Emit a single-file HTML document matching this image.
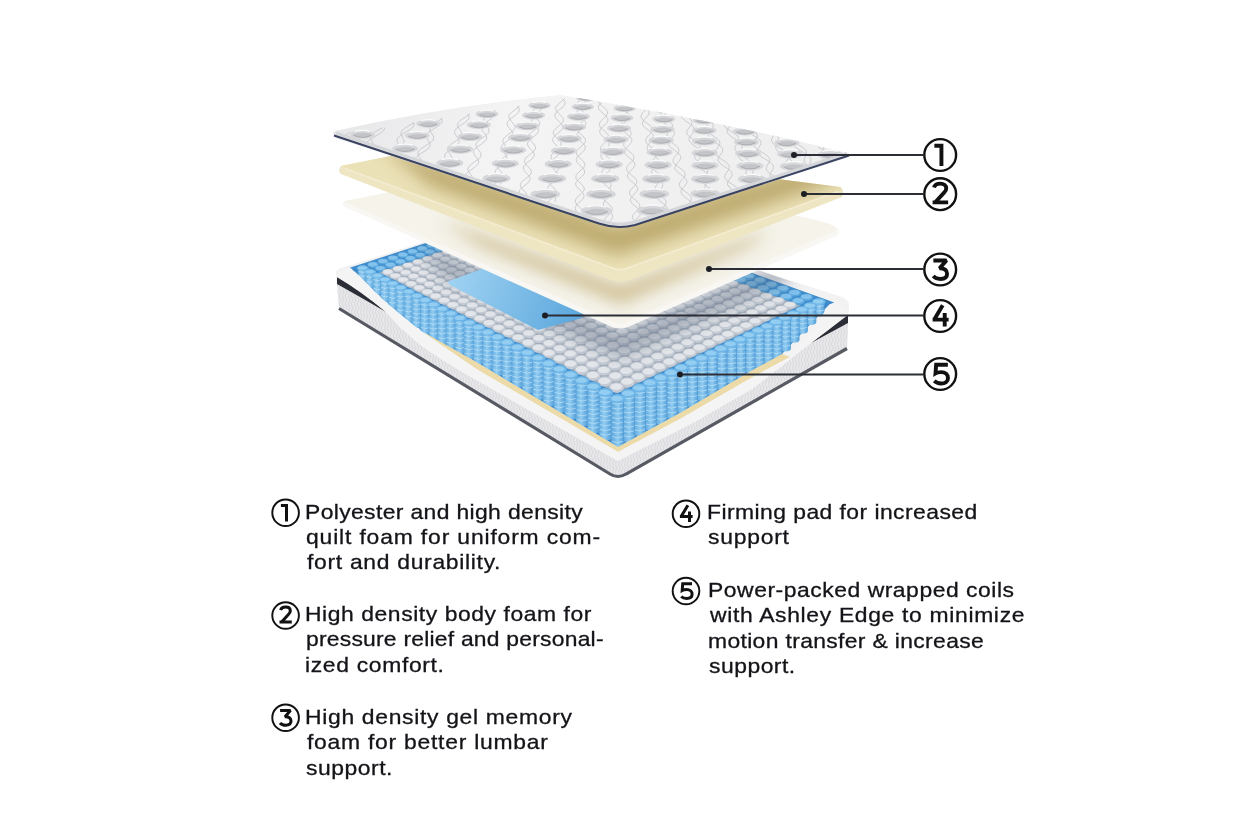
<!DOCTYPE html>
<html><head><meta charset="utf-8">
<style>
html,body{margin:0;padding:0;background:#fff;}
body{width:1260px;height:840px;position:relative;overflow:hidden;font-family:"Liberation Sans",sans-serif;}
svg{position:absolute;left:0;top:0;}
.t{position:absolute;white-space:nowrap;font-size:21px;line-height:26px;color:#131318;-webkit-text-stroke:0.3px #131318;transform:scaleX(1.09);transform-origin:0 0;}
</style></head><body>
<svg width="1260" height="840" viewBox="0 0 1260 840">
<defs>
<linearGradient id="gQ" gradientUnits="userSpaceOnUse" x1="334" y1="95" x2="700" y2="227">
 <stop offset="0" stop-color="#e6e6e8"/><stop offset="0.45" stop-color="#f4f4f5"/><stop offset="1" stop-color="#efeff0"/></linearGradient>
<linearGradient id="gYtop" gradientUnits="userSpaceOnUse" x1="600" y1="215" x2="640" y2="275">
 <stop offset="0" stop-color="#d9c991"/><stop offset="1" stop-color="#ece2b6"/></linearGradient>
<linearGradient id="gYside" gradientUnits="userSpaceOnUse" x1="0" y1="0" x2="0" y2="1">
 <stop offset="0" stop-color="#efe6c2"/><stop offset="1" stop-color="#f3ecd2"/></linearGradient>
<linearGradient id="gWtop" gradientUnits="userSpaceOnUse" x1="600" y1="265" x2="640" y2="322">
 <stop offset="0" stop-color="#ddd3b0"/><stop offset="0.6" stop-color="#efe9d8"/><stop offset="1" stop-color="#f6f4ee"/></linearGradient>
<linearGradient id="gPad" gradientUnits="userSpaceOnUse" x1="450" y1="280" x2="580" y2="330">
 <stop offset="0" stop-color="#9fd2f2"/><stop offset="1" stop-color="#5aa6dc"/></linearGradient>
<linearGradient id="gCol" x1="0" y1="0" x2="1" y2="0">
 <stop offset="0" stop-color="#5fa9de"/><stop offset="0.4" stop-color="#92cdf2"/><stop offset="1" stop-color="#4e9ad6"/></linearGradient>
<linearGradient id="gColR" x1="0" y1="0" x2="1" y2="0">
 <stop offset="0" stop-color="#5aa3da"/><stop offset="0.55" stop-color="#8ecbf1"/><stop offset="1" stop-color="#529dd7"/></linearGradient>
<pattern id="pFab" patternUnits="userSpaceOnUse" width="6" height="8">
 <rect width="6" height="8" fill="#e8e8eb"/><path d="M0 0 L2 4 L0 8 M3 0 L5 4 L3 8" fill="none" stroke="#d6d6da" stroke-width="0.9"/></pattern>
<filter id="blur8" x="-20%" y="-50%" width="140%" height="200%"><feGaussianBlur stdDeviation="8"/></filter>
<filter id="blur4" x="-20%" y="-50%" width="140%" height="200%"><feGaussianBlur stdDeviation="4"/></filter>
<clipPath id="cQ"><path d="M335 131 Q448 106 560 95 Q705 118 848 153 Q852 155 847 158 L635 225 Q617 230 599 223.5 L336 138 Q331 134 335 131 Z"/></clipPath>
<clipPath id="cBase"><polygon points="336,270 421,243 560,196 752,268 849,301 618,461"/></clipPath>
<clipPath id="cY"><path d="M341 166 L470 140 L840 187 Q844 189 840 191 L628 267 Q620 271 612 267 Z"/></clipPath>
<clipPath id="cW"><path d="M344 201.5 L470 176 L798 216 Q836 224 836 228 Q836 231 832 232 L627 322 Q620 325 613 322 Z"/></clipPath>
</defs>
<path d="M336 273 Q336 269 341 268 L421 243 L560 196 L752 268 L842 297 Q849 300 849 305 L847 348 L626 474 Q618 480 610 475 L339 310 Z" fill="#f2f2f3"/>
<path d="M337 284 Q362 298 386 312 C392 318 398 326 402 329 C412 338 422 347 432 353 C450 365 466 374 478 381 L618 461 C650 444 680 430 700 419 C720 407 740 396 752 389 C775 372 795 355 811 343 Q830 331 848 322 L847 348 L626 474 Q618 480 610 475 L339 309 Z" fill="url(#pFab)"/>
<path d="M337 277 Q360 290 386 312 Q362 298 337 284 Z" fill="#2b2e36"/>
<path d="M848 315 L811 343 L848 323 Z" fill="#2b2e36"/>
<path d="M339 308.5 L610 474 Q618 479 626 474 L847 348.5" fill="none" stroke="#575a62" stroke-width="3.2"/>
<polygon points="349.7,267.7 619,408 834.3,302.4 553.6,201.6" fill="#3f8ccc"/>
<polygon points="379.1,272.2 617,393.3 800.3,305.5 553.6,214.1" fill="#a4aebb"/>
<ellipse cx="553.9" cy="205.7" rx="5.1" ry="2.5" fill="#5aa6dd"/><ellipse cx="553.7" cy="205.3" rx="4.2" ry="1.6" fill="#82c2ec"/><ellipse cx="545.8" cy="208.4" rx="5.1" ry="2.5" fill="#5aa6dd"/><ellipse cx="545.6" cy="207.9" rx="4.2" ry="1.6" fill="#82c2ec"/><ellipse cx="561.8" cy="208.6" rx="5.1" ry="2.5" fill="#5aa6dd"/><ellipse cx="561.6" cy="208.1" rx="4.2" ry="1.6" fill="#82c2ec"/><ellipse cx="537.7" cy="211" rx="5.1" ry="2.5" fill="#5aa6dd"/><ellipse cx="537.4" cy="210.6" rx="4.2" ry="1.7" fill="#82c2ec"/><ellipse cx="553.7" cy="211.3" rx="5.1" ry="2.5" fill="#5aa6dd"/><ellipse cx="553.5" cy="210.8" rx="4.2" ry="1.7" fill="#82c2ec"/><ellipse cx="569.9" cy="211.5" rx="5.2" ry="2.5" fill="#5aa6dd"/><ellipse cx="569.6" cy="211" rx="4.2" ry="1.7" fill="#82c2ec"/><ellipse cx="529.4" cy="213.7" rx="5.2" ry="2.6" fill="#5aa6dd"/><ellipse cx="529.2" cy="213.3" rx="4.2" ry="1.7" fill="#82c2ec"/><ellipse cx="545.6" cy="214" rx="5.2" ry="2.6" fill="#5aa6dd"/><ellipse cx="545.3" cy="213.5" rx="4.2" ry="1.7" fill="#82c2ec"/><ellipse cx="561.7" cy="214.2" rx="5.2" ry="2.6" fill="#5aa6dd"/><ellipse cx="561.5" cy="213.7" rx="4.3" ry="1.7" fill="#82c2ec"/><ellipse cx="578" cy="214.5" rx="5.2" ry="2.6" fill="#5aa6dd"/><ellipse cx="577.7" cy="214" rx="4.3" ry="1.7" fill="#82c2ec"/><ellipse cx="521.1" cy="216.5" rx="5.2" ry="2.6" fill="#5aa6dd"/><ellipse cx="520.8" cy="216" rx="4.2" ry="1.7" fill="#82c2ec"/><ellipse cx="537.3" cy="216.7" rx="5.2" ry="2.6" fill="#5aa6dd"/><ellipse cx="537" cy="216.2" rx="4.3" ry="1.7" fill="#82c2ec"/><ellipse cx="553.6" cy="217" rx="5.2" ry="2.6" fill="#c4cbd4"/><ellipse cx="553.3" cy="216.5" rx="4.3" ry="1.7" fill="#e2e5e9"/><ellipse cx="569.9" cy="217.2" rx="5.2" ry="2.6" fill="#5aa6dd"/><ellipse cx="569.6" cy="216.7" rx="4.3" ry="1.7" fill="#82c2ec"/><ellipse cx="586.3" cy="217.5" rx="5.3" ry="2.6" fill="#5aa6dd"/><ellipse cx="586" cy="217" rx="4.3" ry="1.7" fill="#82c2ec"/><ellipse cx="512.6" cy="219.2" rx="5.2" ry="2.6" fill="#5aa6dd"/><ellipse cx="512.4" cy="218.7" rx="4.3" ry="1.7" fill="#82c2ec"/><ellipse cx="528.9" cy="219.5" rx="5.2" ry="2.6" fill="#5aa6dd"/><ellipse cx="528.6" cy="219" rx="4.3" ry="1.7" fill="#82c2ec"/><ellipse cx="545.3" cy="219.7" rx="5.2" ry="2.6" fill="#c4cbd4"/><ellipse cx="545" cy="219.3" rx="4.3" ry="1.7" fill="#e2e5e9"/><ellipse cx="561.7" cy="220" rx="5.3" ry="2.6" fill="#c4cbd4"/><ellipse cx="561.4" cy="219.5" rx="4.3" ry="1.7" fill="#e2e5e9"/><ellipse cx="578.1" cy="220.2" rx="5.3" ry="2.6" fill="#5aa6dd"/><ellipse cx="577.9" cy="219.8" rx="4.3" ry="1.7" fill="#82c2ec"/><ellipse cx="594.7" cy="220.5" rx="5.3" ry="2.6" fill="#5aa6dd"/><ellipse cx="594.4" cy="220" rx="4.3" ry="1.7" fill="#82c2ec"/><ellipse cx="504.1" cy="222" rx="5.2" ry="2.6" fill="#5aa6dd"/><ellipse cx="503.8" cy="221.5" rx="4.3" ry="1.7" fill="#82c2ec"/><ellipse cx="520.4" cy="222.3" rx="5.2" ry="2.7" fill="#5aa6dd"/><ellipse cx="520.2" cy="221.8" rx="4.3" ry="1.8" fill="#82c2ec"/><ellipse cx="536.9" cy="222.5" rx="5.3" ry="2.7" fill="#c4cbd4"/><ellipse cx="536.6" cy="222.1" rx="4.3" ry="1.8" fill="#e2e5e9"/><ellipse cx="553.4" cy="222.8" rx="5.3" ry="2.7" fill="#c4cbd4"/><ellipse cx="553.1" cy="222.3" rx="4.3" ry="1.8" fill="#e2e5e9"/><ellipse cx="569.9" cy="223.1" rx="5.3" ry="2.7" fill="#c4cbd4"/><ellipse cx="569.7" cy="222.6" rx="4.4" ry="1.8" fill="#e2e5e9"/><ellipse cx="586.5" cy="223.3" rx="5.3" ry="2.7" fill="#5aa6dd"/><ellipse cx="586.3" cy="222.8" rx="4.4" ry="1.8" fill="#82c2ec"/><ellipse cx="603.2" cy="223.6" rx="5.3" ry="2.7" fill="#5aa6dd"/><ellipse cx="602.9" cy="223.1" rx="4.4" ry="1.8" fill="#82c2ec"/><ellipse cx="495.4" cy="224.8" rx="5.3" ry="2.7" fill="#5aa6dd"/><ellipse cx="495.2" cy="224.4" rx="4.3" ry="1.8" fill="#82c2ec"/><ellipse cx="511.9" cy="225.1" rx="5.3" ry="2.7" fill="#5aa6dd"/><ellipse cx="511.6" cy="224.6" rx="4.3" ry="1.8" fill="#82c2ec"/><ellipse cx="528.4" cy="225.4" rx="5.3" ry="2.7" fill="#c4cbd4"/><ellipse cx="528.1" cy="224.9" rx="4.3" ry="1.8" fill="#e2e5e9"/><ellipse cx="545" cy="225.6" rx="5.3" ry="2.7" fill="#c4cbd4"/><ellipse cx="544.7" cy="225.2" rx="4.4" ry="1.8" fill="#e2e5e9"/><ellipse cx="561.6" cy="225.9" rx="5.3" ry="2.7" fill="#c4cbd4"/><ellipse cx="561.3" cy="225.4" rx="4.4" ry="1.8" fill="#e2e5e9"/><ellipse cx="578.3" cy="226.2" rx="5.4" ry="2.7" fill="#c4cbd4"/><ellipse cx="578" cy="225.7" rx="4.4" ry="1.8" fill="#e2e5e9"/><ellipse cx="595" cy="226.5" rx="5.4" ry="2.7" fill="#5aa6dd"/><ellipse cx="594.8" cy="226" rx="4.4" ry="1.8" fill="#82c2ec"/><ellipse cx="611.9" cy="226.7" rx="5.4" ry="2.7" fill="#5aa6dd"/><ellipse cx="611.6" cy="226.2" rx="4.4" ry="1.8" fill="#82c2ec"/><ellipse cx="486.7" cy="227.7" rx="5.3" ry="2.7" fill="#5aa6dd"/><ellipse cx="486.4" cy="227.2" rx="4.3" ry="1.8" fill="#82c2ec"/><ellipse cx="503.2" cy="228" rx="5.3" ry="2.7" fill="#5aa6dd"/><ellipse cx="502.9" cy="227.5" rx="4.3" ry="1.8" fill="#82c2ec"/><ellipse cx="519.8" cy="228.2" rx="5.3" ry="2.7" fill="#c4cbd4"/><ellipse cx="519.5" cy="227.8" rx="4.4" ry="1.8" fill="#e2e5e9"/><ellipse cx="536.5" cy="228.5" rx="5.3" ry="2.7" fill="#c4cbd4"/><ellipse cx="536.2" cy="228" rx="4.4" ry="1.8" fill="#e2e5e9"/><ellipse cx="553.2" cy="228.8" rx="5.4" ry="2.7" fill="#c4cbd4"/><ellipse cx="552.9" cy="228.3" rx="4.4" ry="1.8" fill="#e2e5e9"/><ellipse cx="569.9" cy="229.1" rx="5.4" ry="2.7" fill="#c4cbd4"/><ellipse cx="569.7" cy="228.6" rx="4.4" ry="1.8" fill="#e2e5e9"/><ellipse cx="586.8" cy="229.4" rx="5.4" ry="2.8" fill="#c4cbd4"/><ellipse cx="586.5" cy="228.9" rx="4.4" ry="1.8" fill="#e2e5e9"/><ellipse cx="603.7" cy="229.6" rx="5.4" ry="2.8" fill="#5aa6dd"/><ellipse cx="603.4" cy="229.1" rx="4.4" ry="1.8" fill="#82c2ec"/><ellipse cx="620.7" cy="229.9" rx="5.4" ry="2.8" fill="#5aa6dd"/><ellipse cx="620.4" cy="229.4" rx="4.5" ry="1.8" fill="#82c2ec"/><ellipse cx="477.8" cy="230.6" rx="5.3" ry="2.7" fill="#5aa6dd"/><ellipse cx="477.6" cy="230.1" rx="4.4" ry="1.8" fill="#82c2ec"/><ellipse cx="494.4" cy="230.9" rx="5.3" ry="2.8" fill="#5aa6dd"/><ellipse cx="494.2" cy="230.4" rx="4.4" ry="1.8" fill="#82c2ec"/><ellipse cx="511.1" cy="231.2" rx="5.3" ry="2.8" fill="#c4cbd4"/><ellipse cx="510.8" cy="230.7" rx="4.4" ry="1.8" fill="#e2e5e9"/><ellipse cx="527.8" cy="231.4" rx="5.4" ry="2.8" fill="#c4cbd4"/><ellipse cx="527.6" cy="230.9" rx="4.4" ry="1.8" fill="#e2e5e9"/><ellipse cx="544.6" cy="231.7" rx="5.4" ry="2.8" fill="#c4cbd4"/><ellipse cx="544.4" cy="231.2" rx="4.4" ry="1.8" fill="#e2e5e9"/><ellipse cx="561.5" cy="232" rx="5.4" ry="2.8" fill="#c4cbd4"/><ellipse cx="561.2" cy="231.5" rx="4.4" ry="1.8" fill="#e2e5e9"/><ellipse cx="578.4" cy="232.3" rx="5.4" ry="2.8" fill="#c4cbd4"/><ellipse cx="578.2" cy="231.8" rx="4.5" ry="1.8" fill="#e2e5e9"/><ellipse cx="595.4" cy="232.6" rx="5.4" ry="2.8" fill="#c4cbd4"/><ellipse cx="595.2" cy="232.1" rx="4.5" ry="1.8" fill="#e2e5e9"/><ellipse cx="612.5" cy="232.9" rx="5.5" ry="2.8" fill="#5aa6dd"/><ellipse cx="612.2" cy="232.4" rx="4.5" ry="1.8" fill="#82c2ec"/><ellipse cx="629.6" cy="233.2" rx="5.5" ry="2.8" fill="#5aa6dd"/><ellipse cx="629.3" cy="232.7" rx="4.5" ry="1.9" fill="#82c2ec"/><ellipse cx="468.9" cy="233.5" rx="5.3" ry="2.8" fill="#5aa6dd"/><ellipse cx="468.6" cy="233" rx="4.4" ry="1.8" fill="#82c2ec"/><ellipse cx="485.6" cy="233.8" rx="5.4" ry="2.8" fill="#5aa6dd"/><ellipse cx="485.3" cy="233.3" rx="4.4" ry="1.8" fill="#82c2ec"/><ellipse cx="502.3" cy="234.1" rx="5.4" ry="2.8" fill="#c4cbd4"/><ellipse cx="502" cy="233.6" rx="4.4" ry="1.8" fill="#e2e5e9"/><ellipse cx="519.1" cy="234.4" rx="5.4" ry="2.8" fill="#c4cbd4"/><ellipse cx="518.9" cy="233.9" rx="4.4" ry="1.8" fill="#e2e5e9"/><ellipse cx="536" cy="234.7" rx="5.4" ry="2.8" fill="#c4cbd4"/><ellipse cx="535.7" cy="234.2" rx="4.4" ry="1.9" fill="#e2e5e9"/><ellipse cx="553" cy="235" rx="5.4" ry="2.8" fill="#c4cbd4"/><ellipse cx="552.7" cy="234.5" rx="4.5" ry="1.9" fill="#e2e5e9"/><ellipse cx="570" cy="235.3" rx="5.5" ry="2.8" fill="#c4cbd4"/><ellipse cx="569.7" cy="234.8" rx="4.5" ry="1.9" fill="#e2e5e9"/><ellipse cx="587.1" cy="235.6" rx="5.5" ry="2.8" fill="#c4cbd4"/><ellipse cx="586.8" cy="235.1" rx="4.5" ry="1.9" fill="#e2e5e9"/><ellipse cx="604.2" cy="235.9" rx="5.5" ry="2.8" fill="#c4cbd4"/><ellipse cx="603.9" cy="235.4" rx="4.5" ry="1.9" fill="#e2e5e9"/><ellipse cx="621.4" cy="236.2" rx="5.5" ry="2.8" fill="#5aa6dd"/><ellipse cx="621.1" cy="235.6" rx="4.5" ry="1.9" fill="#82c2ec"/><ellipse cx="638.7" cy="236.5" rx="5.5" ry="2.9" fill="#5aa6dd"/><ellipse cx="638.4" cy="235.9" rx="4.5" ry="1.9" fill="#82c2ec"/><ellipse cx="459.8" cy="236.5" rx="5.4" ry="2.8" fill="#5aa6dd"/><ellipse cx="459.5" cy="236" rx="4.4" ry="1.9" fill="#82c2ec"/><ellipse cx="476.6" cy="236.8" rx="5.4" ry="2.8" fill="#5aa6dd"/><ellipse cx="476.3" cy="236.3" rx="4.4" ry="1.9" fill="#82c2ec"/><ellipse cx="493.4" cy="237.1" rx="5.4" ry="2.8" fill="#c4cbd4"/><ellipse cx="493.1" cy="236.6" rx="4.4" ry="1.9" fill="#e2e5e9"/><ellipse cx="510.3" cy="237.4" rx="5.4" ry="2.8" fill="#c4cbd4"/><ellipse cx="510.1" cy="236.9" rx="4.4" ry="1.9" fill="#e2e5e9"/><ellipse cx="527.3" cy="237.7" rx="5.4" ry="2.8" fill="#c4cbd4"/><ellipse cx="527" cy="237.2" rx="4.5" ry="1.9" fill="#e2e5e9"/><ellipse cx="544.3" cy="238" rx="5.5" ry="2.9" fill="#c4cbd4"/><ellipse cx="544.1" cy="237.5" rx="4.5" ry="1.9" fill="#e2e5e9"/><ellipse cx="561.4" cy="238.3" rx="5.5" ry="2.9" fill="#c4cbd4"/><ellipse cx="561.2" cy="237.8" rx="4.5" ry="1.9" fill="#e2e5e9"/><ellipse cx="578.6" cy="238.6" rx="5.5" ry="2.9" fill="#c4cbd4"/><ellipse cx="578.3" cy="238.1" rx="4.5" ry="1.9" fill="#e2e5e9"/><ellipse cx="595.8" cy="238.9" rx="5.5" ry="2.9" fill="#c4cbd4"/><ellipse cx="595.5" cy="238.4" rx="4.5" ry="1.9" fill="#e2e5e9"/><ellipse cx="613.1" cy="239.2" rx="5.5" ry="2.9" fill="#c4cbd4"/><ellipse cx="612.8" cy="238.7" rx="4.5" ry="1.9" fill="#e2e5e9"/><ellipse cx="450.6" cy="239.5" rx="5.4" ry="2.9" fill="#5aa6dd"/><ellipse cx="450.4" cy="239" rx="4.4" ry="1.9" fill="#82c2ec"/><ellipse cx="630.5" cy="239.5" rx="5.6" ry="2.9" fill="#5aa6dd"/><ellipse cx="630.2" cy="239" rx="4.6" ry="1.9" fill="#82c2ec"/><ellipse cx="467.5" cy="239.8" rx="5.4" ry="2.9" fill="#5aa6dd"/><ellipse cx="467.2" cy="239.3" rx="4.4" ry="1.9" fill="#82c2ec"/><ellipse cx="647.9" cy="239.8" rx="5.6" ry="2.9" fill="#5aa6dd"/><ellipse cx="647.6" cy="239.3" rx="4.6" ry="1.9" fill="#82c2ec"/><ellipse cx="484.4" cy="240.1" rx="5.4" ry="2.9" fill="#c4cbd4"/><ellipse cx="484.1" cy="239.6" rx="4.4" ry="1.9" fill="#e2e5e9"/><ellipse cx="501.4" cy="240.4" rx="5.4" ry="2.9" fill="#c4cbd4"/><ellipse cx="501.1" cy="239.9" rx="4.5" ry="1.9" fill="#e2e5e9"/><ellipse cx="518.5" cy="240.7" rx="5.5" ry="2.9" fill="#c4cbd4"/><ellipse cx="518.2" cy="240.2" rx="4.5" ry="1.9" fill="#e2e5e9"/><ellipse cx="535.6" cy="241" rx="5.5" ry="2.9" fill="#c4cbd4"/><ellipse cx="535.3" cy="240.5" rx="4.5" ry="1.9" fill="#e2e5e9"/><ellipse cx="552.8" cy="241.3" rx="5.5" ry="2.9" fill="#c4cbd4"/><ellipse cx="552.5" cy="240.8" rx="4.5" ry="1.9" fill="#e2e5e9"/><ellipse cx="570" cy="241.6" rx="5.5" ry="2.9" fill="#c4cbd4"/><ellipse cx="569.7" cy="241.1" rx="4.5" ry="1.9" fill="#e2e5e9"/><ellipse cx="587.3" cy="241.9" rx="5.6" ry="2.9" fill="#c4cbd4"/><ellipse cx="587.1" cy="241.4" rx="4.6" ry="1.9" fill="#e2e5e9"/><ellipse cx="604.7" cy="242.3" rx="5.6" ry="2.9" fill="#c4cbd4"/><ellipse cx="604.5" cy="241.7" rx="4.6" ry="1.9" fill="#e2e5e9"/><ellipse cx="441.3" cy="242.5" rx="5.4" ry="2.9" fill="#5aa6dd"/><ellipse cx="441.1" cy="242" rx="4.4" ry="1.9" fill="#82c2ec"/><ellipse cx="622.2" cy="242.6" rx="5.6" ry="2.9" fill="#c4cbd4"/><ellipse cx="621.9" cy="242" rx="4.6" ry="1.9" fill="#e2e5e9"/><ellipse cx="458.3" cy="242.8" rx="5.4" ry="2.9" fill="#5aa6dd"/><ellipse cx="458" cy="242.3" rx="4.5" ry="1.9" fill="#82c2ec"/><ellipse cx="639.7" cy="242.9" rx="5.6" ry="2.9" fill="#5aa6dd"/><ellipse cx="639.4" cy="242.4" rx="4.6" ry="1.9" fill="#82c2ec"/><ellipse cx="475.3" cy="243.1" rx="5.5" ry="2.9" fill="#c4cbd4"/><ellipse cx="475" cy="242.6" rx="4.5" ry="1.9" fill="#e2e5e9"/><ellipse cx="657.3" cy="243.2" rx="5.6" ry="2.9" fill="#5aa6dd"/><ellipse cx="657" cy="242.7" rx="4.6" ry="1.9" fill="#82c2ec"/><ellipse cx="492.4" cy="243.5" rx="5.5" ry="2.9" fill="#c4cbd4"/><ellipse cx="492.1" cy="242.9" rx="4.5" ry="1.9" fill="#e2e5e9"/><ellipse cx="509.5" cy="243.8" rx="5.5" ry="2.9" fill="#c4cbd4"/><ellipse cx="509.2" cy="243.2" rx="4.5" ry="1.9" fill="#e2e5e9"/><ellipse cx="526.7" cy="244.1" rx="5.5" ry="2.9" fill="#c4cbd4"/><ellipse cx="526.4" cy="243.6" rx="4.5" ry="1.9" fill="#e2e5e9"/><ellipse cx="544" cy="244.4" rx="5.5" ry="2.9" fill="#c4cbd4"/><ellipse cx="543.7" cy="243.9" rx="4.5" ry="1.9" fill="#e2e5e9"/><ellipse cx="561.3" cy="244.7" rx="5.6" ry="2.9" fill="#c4cbd4"/><ellipse cx="561.1" cy="244.2" rx="4.6" ry="1.9" fill="#e2e5e9"/><ellipse cx="578.8" cy="245" rx="5.6" ry="2.9" fill="#c4cbd4"/><ellipse cx="578.5" cy="244.5" rx="4.6" ry="1.9" fill="#e2e5e9"/><ellipse cx="596.2" cy="245.4" rx="5.6" ry="3" fill="#c4cbd4"/><ellipse cx="596" cy="244.8" rx="4.6" ry="2" fill="#e2e5e9"/><ellipse cx="431.9" cy="245.6" rx="5.4" ry="2.9" fill="#5aa6dd"/><ellipse cx="431.7" cy="245.1" rx="4.5" ry="1.9" fill="#82c2ec"/><ellipse cx="613.8" cy="245.7" rx="5.6" ry="3" fill="#c4cbd4"/><ellipse cx="613.5" cy="245.2" rx="4.6" ry="2" fill="#e2e5e9"/><ellipse cx="449" cy="245.9" rx="5.5" ry="2.9" fill="#5aa6dd"/><ellipse cx="448.7" cy="245.4" rx="4.5" ry="1.9" fill="#82c2ec"/><ellipse cx="631.4" cy="246" rx="5.6" ry="3" fill="#c4cbd4"/><ellipse cx="631.1" cy="245.5" rx="4.6" ry="2" fill="#e2e5e9"/><ellipse cx="466.1" cy="246.2" rx="5.5" ry="2.9" fill="#c4cbd4"/><ellipse cx="465.8" cy="245.7" rx="4.5" ry="1.9" fill="#e2e5e9"/><ellipse cx="649.1" cy="246.3" rx="5.7" ry="3" fill="#5aa6dd"/><ellipse cx="648.8" cy="245.8" rx="4.6" ry="2" fill="#82c2ec"/><ellipse cx="483.2" cy="246.6" rx="5.5" ry="2.9" fill="#c4cbd4"/><ellipse cx="483" cy="246" rx="4.5" ry="1.9" fill="#e2e5e9"/><ellipse cx="666.8" cy="246.7" rx="5.7" ry="3" fill="#5aa6dd"/><ellipse cx="666.5" cy="246.1" rx="4.7" ry="2" fill="#82c2ec"/><ellipse cx="500.5" cy="246.9" rx="5.5" ry="3" fill="#c4cbd4"/><ellipse cx="500.2" cy="246.3" rx="4.5" ry="2" fill="#e2e5e9"/><ellipse cx="517.8" cy="247.2" rx="5.5" ry="3" fill="#c4cbd4"/><ellipse cx="517.5" cy="246.7" rx="4.5" ry="2" fill="#e2e5e9"/><ellipse cx="535.1" cy="247.5" rx="5.6" ry="3" fill="#c4cbd4"/><ellipse cx="534.8" cy="247" rx="4.6" ry="2" fill="#e2e5e9"/><ellipse cx="552.6" cy="247.9" rx="5.6" ry="3" fill="#c4cbd4"/><ellipse cx="552.3" cy="247.3" rx="4.6" ry="2" fill="#e2e5e9"/><ellipse cx="570.1" cy="248.2" rx="5.6" ry="3" fill="#c4cbd4"/><ellipse cx="569.8" cy="247.6" rx="4.6" ry="2" fill="#e2e5e9"/><ellipse cx="587.6" cy="248.5" rx="5.6" ry="3" fill="#c4cbd4"/><ellipse cx="587.3" cy="248" rx="4.6" ry="2" fill="#e2e5e9"/><ellipse cx="422.4" cy="248.7" rx="5.5" ry="3" fill="#5aa6dd"/><ellipse cx="422.2" cy="248.2" rx="4.5" ry="2" fill="#82c2ec"/><ellipse cx="605.3" cy="248.8" rx="5.7" ry="3" fill="#c4cbd4"/><ellipse cx="605" cy="248.3" rx="4.6" ry="2" fill="#e2e5e9"/><ellipse cx="439.5" cy="249" rx="5.5" ry="3" fill="#5aa6dd"/><ellipse cx="439.3" cy="248.5" rx="4.5" ry="2" fill="#82c2ec"/><ellipse cx="623" cy="249.2" rx="5.7" ry="3" fill="#c4cbd4"/><ellipse cx="622.7" cy="248.6" rx="4.7" ry="2" fill="#e2e5e9"/><ellipse cx="456.7" cy="249.4" rx="5.5" ry="3" fill="#c4cbd4"/><ellipse cx="456.5" cy="248.8" rx="4.5" ry="2" fill="#e2e5e9"/><ellipse cx="640.8" cy="249.5" rx="5.7" ry="3" fill="#c4cbd4"/><ellipse cx="640.5" cy="249" rx="4.7" ry="2" fill="#e2e5e9"/><ellipse cx="474" cy="249.7" rx="5.5" ry="3" fill="#c4cbd4"/><ellipse cx="473.7" cy="249.1" rx="4.5" ry="2" fill="#e2e5e9"/><ellipse cx="658.6" cy="249.8" rx="5.7" ry="3" fill="#5aa6dd"/><ellipse cx="658.3" cy="249.3" rx="4.7" ry="2" fill="#82c2ec"/><ellipse cx="491.3" cy="250" rx="5.6" ry="3" fill="#c4cbd4"/><ellipse cx="491" cy="249.5" rx="4.6" ry="2" fill="#e2e5e9"/><ellipse cx="676.5" cy="250.2" rx="5.7" ry="3" fill="#5aa6dd"/><ellipse cx="676.2" cy="249.6" rx="4.7" ry="2" fill="#82c2ec"/><ellipse cx="508.7" cy="250.3" rx="5.6" ry="3" fill="#c4cbd4"/><ellipse cx="508.4" cy="249.8" rx="4.6" ry="2" fill="#e2e5e9"/><ellipse cx="526.1" cy="250.7" rx="5.6" ry="3" fill="#c4cbd4"/><ellipse cx="525.9" cy="250.1" rx="4.6" ry="2" fill="#e2e5e9"/><ellipse cx="543.7" cy="251" rx="5.6" ry="3" fill="#c4cbd4"/><ellipse cx="543.4" cy="250.5" rx="4.6" ry="2" fill="#e2e5e9"/><ellipse cx="561.3" cy="251.4" rx="5.6" ry="3" fill="#c4cbd4"/><ellipse cx="561" cy="250.8" rx="4.6" ry="2" fill="#e2e5e9"/><ellipse cx="578.9" cy="251.7" rx="5.7" ry="3" fill="#c4cbd4"/><ellipse cx="578.6" cy="251.1" rx="4.6" ry="2" fill="#e2e5e9"/><ellipse cx="412.8" cy="251.8" rx="5.5" ry="3" fill="#5aa6dd"/><ellipse cx="412.5" cy="251.3" rx="4.5" ry="2" fill="#82c2ec"/><ellipse cx="596.6" cy="252" rx="5.7" ry="3" fill="#c4cbd4"/><ellipse cx="596.4" cy="251.5" rx="4.7" ry="2" fill="#e2e5e9"/><ellipse cx="430" cy="252.2" rx="5.5" ry="3" fill="#5aa6dd"/><ellipse cx="429.7" cy="251.6" rx="4.5" ry="2" fill="#82c2ec"/><ellipse cx="614.5" cy="252.4" rx="5.7" ry="3.1" fill="#c4cbd4"/><ellipse cx="614.2" cy="251.8" rx="4.7" ry="2" fill="#e2e5e9"/><ellipse cx="447.3" cy="252.5" rx="5.5" ry="3" fill="#c4cbd4"/><ellipse cx="447" cy="252" rx="4.5" ry="2" fill="#e2e5e9"/><ellipse cx="632.3" cy="252.7" rx="5.7" ry="3.1" fill="#c4cbd4"/><ellipse cx="632" cy="252.2" rx="4.7" ry="2" fill="#e2e5e9"/><ellipse cx="464.6" cy="252.9" rx="5.6" ry="3" fill="#c4cbd4"/><ellipse cx="464.3" cy="252.3" rx="4.6" ry="2" fill="#e2e5e9"/><ellipse cx="650.3" cy="253.1" rx="5.8" ry="3.1" fill="#c4cbd4"/><ellipse cx="650" cy="252.5" rx="4.7" ry="2" fill="#e2e5e9"/><ellipse cx="482" cy="253.2" rx="5.6" ry="3" fill="#c4cbd4"/><ellipse cx="481.7" cy="252.7" rx="4.6" ry="2" fill="#e2e5e9"/><ellipse cx="668.3" cy="253.4" rx="5.8" ry="3.1" fill="#5aa6dd"/><ellipse cx="668" cy="252.8" rx="4.7" ry="2" fill="#82c2ec"/><ellipse cx="499.5" cy="253.5" rx="5.6" ry="3" fill="#c4cbd4"/><ellipse cx="499.2" cy="253" rx="4.6" ry="2" fill="#e2e5e9"/><ellipse cx="686.4" cy="253.7" rx="5.8" ry="3.1" fill="#5aa6dd"/><ellipse cx="686.1" cy="253.2" rx="4.8" ry="2" fill="#82c2ec"/><ellipse cx="517" cy="253.9" rx="5.6" ry="3.1" fill="#c4cbd4"/><ellipse cx="516.8" cy="253.3" rx="4.6" ry="2" fill="#e2e5e9"/><ellipse cx="534.7" cy="254.2" rx="5.6" ry="3.1" fill="#c4cbd4"/><ellipse cx="534.4" cy="253.7" rx="4.6" ry="2" fill="#e2e5e9"/><ellipse cx="552.3" cy="254.6" rx="5.7" ry="3.1" fill="#c4cbd4"/><ellipse cx="552.1" cy="254" rx="4.6" ry="2" fill="#e2e5e9"/><ellipse cx="570.1" cy="254.9" rx="5.7" ry="3.1" fill="#c4cbd4"/><ellipse cx="569.8" cy="254.4" rx="4.7" ry="2" fill="#e2e5e9"/><ellipse cx="403" cy="255" rx="5.5" ry="3" fill="#5aa6dd"/><ellipse cx="402.8" cy="254.5" rx="4.5" ry="2" fill="#82c2ec"/><ellipse cx="587.9" cy="255.3" rx="5.7" ry="3.1" fill="#c4cbd4"/><ellipse cx="587.6" cy="254.7" rx="4.7" ry="2" fill="#e2e5e9"/><ellipse cx="420.3" cy="255.4" rx="5.5" ry="3" fill="#5aa6dd"/><ellipse cx="420.1" cy="254.8" rx="4.5" ry="2" fill="#82c2ec"/><ellipse cx="605.8" cy="255.6" rx="5.7" ry="3.1" fill="#c4cbd4"/><ellipse cx="605.5" cy="255.1" rx="4.7" ry="2" fill="#e2e5e9"/><ellipse cx="437.7" cy="255.7" rx="5.6" ry="3.1" fill="#c4cbd4"/><ellipse cx="437.4" cy="255.2" rx="4.6" ry="2" fill="#e2e5e9"/><ellipse cx="623.8" cy="256" rx="5.8" ry="3.1" fill="#c4cbd4"/><ellipse cx="623.5" cy="255.4" rx="4.7" ry="2" fill="#e2e5e9"/><ellipse cx="455.1" cy="256.1" rx="5.6" ry="3.1" fill="#c4cbd4"/><ellipse cx="454.8" cy="255.5" rx="4.6" ry="2" fill="#e2e5e9"/><ellipse cx="641.8" cy="256.3" rx="5.8" ry="3.1" fill="#c4cbd4"/><ellipse cx="641.5" cy="255.8" rx="4.7" ry="2.1" fill="#e2e5e9"/><ellipse cx="472.6" cy="256.4" rx="5.6" ry="3.1" fill="#c4cbd4"/><ellipse cx="472.3" cy="255.9" rx="4.6" ry="2" fill="#e2e5e9"/><ellipse cx="659.9" cy="256.7" rx="5.8" ry="3.1" fill="#c4cbd4"/><ellipse cx="659.7" cy="256.1" rx="4.8" ry="2.1" fill="#e2e5e9"/><ellipse cx="490.2" cy="256.8" rx="5.6" ry="3.1" fill="#c4cbd4"/><ellipse cx="489.9" cy="256.2" rx="4.6" ry="2" fill="#e2e5e9"/><ellipse cx="678.1" cy="257" rx="5.8" ry="3.1" fill="#5aa6dd"/><ellipse cx="677.8" cy="256.5" rx="4.8" ry="2.1" fill="#82c2ec"/><ellipse cx="507.8" cy="257.1" rx="5.7" ry="3.1" fill="#c4cbd4"/><ellipse cx="507.5" cy="256.6" rx="4.6" ry="2" fill="#e2e5e9"/><ellipse cx="696.4" cy="257.4" rx="5.9" ry="3.1" fill="#5aa6dd"/><ellipse cx="696.1" cy="256.8" rx="4.8" ry="2.1" fill="#82c2ec"/><ellipse cx="525.5" cy="257.5" rx="5.7" ry="3.1" fill="#c4cbd4"/><ellipse cx="525.3" cy="256.9" rx="4.7" ry="2" fill="#e2e5e9"/><ellipse cx="543.3" cy="257.8" rx="5.7" ry="3.1" fill="#c4cbd4"/><ellipse cx="543" cy="257.3" rx="4.7" ry="2.1" fill="#e2e5e9"/><ellipse cx="561.2" cy="258.2" rx="5.7" ry="3.1" fill="#c4cbd4"/><ellipse cx="560.9" cy="257.6" rx="4.7" ry="2.1" fill="#e2e5e9"/><ellipse cx="393.2" cy="258.3" rx="5.6" ry="3.1" fill="#5aa6dd"/><ellipse cx="392.9" cy="257.7" rx="4.6" ry="2" fill="#82c2ec"/><ellipse cx="579.1" cy="258.5" rx="5.7" ry="3.1" fill="#c4cbd4"/><ellipse cx="578.8" cy="258" rx="4.7" ry="2.1" fill="#e2e5e9"/><ellipse cx="410.6" cy="258.6" rx="5.6" ry="3.1" fill="#5aa6dd"/><ellipse cx="410.3" cy="258.1" rx="4.6" ry="2" fill="#82c2ec"/><ellipse cx="597.1" cy="258.9" rx="5.8" ry="3.1" fill="#c4cbd4"/><ellipse cx="596.8" cy="258.3" rx="4.7" ry="2.1" fill="#e2e5e9"/><ellipse cx="428" cy="259" rx="5.6" ry="3.1" fill="#c4cbd4"/><ellipse cx="427.7" cy="258.4" rx="4.6" ry="2" fill="#e2e5e9"/><ellipse cx="615.1" cy="259.3" rx="5.8" ry="3.1" fill="#c4cbd4"/><ellipse cx="614.9" cy="258.7" rx="4.8" ry="2.1" fill="#e2e5e9"/><ellipse cx="445.5" cy="259.3" rx="5.6" ry="3.1" fill="#c4cbd4"/><ellipse cx="445.2" cy="258.8" rx="4.6" ry="2.1" fill="#e2e5e9"/><ellipse cx="633.3" cy="259.6" rx="5.8" ry="3.2" fill="#c4cbd4"/><ellipse cx="633" cy="259" rx="4.8" ry="2.1" fill="#e2e5e9"/><ellipse cx="463.1" cy="259.7" rx="5.6" ry="3.1" fill="#c4cbd4"/><ellipse cx="462.8" cy="259.1" rx="4.6" ry="2.1" fill="#e2e5e9"/><ellipse cx="651.5" cy="260" rx="5.8" ry="3.2" fill="#c4cbd4"/><ellipse cx="651.2" cy="259.4" rx="4.8" ry="2.1" fill="#e2e5e9"/><ellipse cx="480.8" cy="260" rx="5.7" ry="3.1" fill="#c4cbd4"/><ellipse cx="480.5" cy="259.5" rx="4.6" ry="2.1" fill="#e2e5e9"/><ellipse cx="669.8" cy="260.3" rx="5.9" ry="3.2" fill="#c4cbd4"/><ellipse cx="669.5" cy="259.8" rx="4.8" ry="2.1" fill="#e2e5e9"/><ellipse cx="498.5" cy="260.4" rx="5.7" ry="3.1" fill="#c4cbd4"/><ellipse cx="498.2" cy="259.8" rx="4.7" ry="2.1" fill="#e2e5e9"/><ellipse cx="688.1" cy="260.7" rx="5.9" ry="3.2" fill="#5aa6dd"/><ellipse cx="687.8" cy="260.1" rx="4.8" ry="2.1" fill="#82c2ec"/><ellipse cx="516.3" cy="260.8" rx="5.7" ry="3.1" fill="#c4cbd4"/><ellipse cx="516" cy="260.2" rx="4.7" ry="2.1" fill="#e2e5e9"/><ellipse cx="706.6" cy="261.1" rx="5.9" ry="3.2" fill="#5aa6dd"/><ellipse cx="706.3" cy="260.5" rx="4.8" ry="2.1" fill="#82c2ec"/><ellipse cx="534.2" cy="261.1" rx="5.7" ry="3.1" fill="#c4cbd4"/><ellipse cx="533.9" cy="260.6" rx="4.7" ry="2.1" fill="#e2e5e9"/><ellipse cx="552.1" cy="261.5" rx="5.8" ry="3.2" fill="#c4cbd4"/><ellipse cx="551.8" cy="260.9" rx="4.7" ry="2.1" fill="#e2e5e9"/><ellipse cx="383.2" cy="261.5" rx="5.6" ry="3.1" fill="#5aa6dd"/><ellipse cx="382.9" cy="261" rx="4.6" ry="2.1" fill="#82c2ec"/><ellipse cx="570.1" cy="261.9" rx="5.8" ry="3.2" fill="#c4cbd4"/><ellipse cx="569.8" cy="261.3" rx="4.7" ry="2.1" fill="#e2e5e9"/><ellipse cx="400.6" cy="261.9" rx="5.6" ry="3.1" fill="#5aa6dd"/><ellipse cx="400.4" cy="261.3" rx="4.6" ry="2.1" fill="#82c2ec"/><ellipse cx="588.2" cy="262.2" rx="5.8" ry="3.2" fill="#c4cbd4"/><ellipse cx="587.9" cy="261.6" rx="4.8" ry="2.1" fill="#e2e5e9"/><ellipse cx="418.2" cy="262.3" rx="5.6" ry="3.1" fill="#c4cbd4"/><ellipse cx="417.9" cy="261.7" rx="4.6" ry="2.1" fill="#e2e5e9"/><ellipse cx="606.4" cy="262.6" rx="5.8" ry="3.2" fill="#c4cbd4"/><ellipse cx="606.1" cy="262" rx="4.8" ry="2.1" fill="#e2e5e9"/><ellipse cx="435.8" cy="262.6" rx="5.6" ry="3.1" fill="#c4cbd4"/><ellipse cx="435.5" cy="262.1" rx="4.6" ry="2.1" fill="#e2e5e9"/><ellipse cx="624.6" cy="263" rx="5.8" ry="3.2" fill="#c4cbd4"/><ellipse cx="624.3" cy="262.4" rx="4.8" ry="2.1" fill="#e2e5e9"/><ellipse cx="453.5" cy="263" rx="5.7" ry="3.2" fill="#c4cbd4"/><ellipse cx="453.2" cy="262.4" rx="4.6" ry="2.1" fill="#e2e5e9"/><ellipse cx="642.9" cy="263.3" rx="5.9" ry="3.2" fill="#c4cbd4"/><ellipse cx="642.6" cy="262.8" rx="4.8" ry="2.1" fill="#e2e5e9"/><ellipse cx="471.2" cy="263.3" rx="5.7" ry="3.2" fill="#c4cbd4"/><ellipse cx="470.9" cy="262.8" rx="4.7" ry="2.1" fill="#e2e5e9"/><ellipse cx="661.3" cy="263.7" rx="5.9" ry="3.2" fill="#c4cbd4"/><ellipse cx="661" cy="263.1" rx="4.8" ry="2.1" fill="#e2e5e9"/><ellipse cx="489.1" cy="263.7" rx="5.7" ry="3.2" fill="#c4cbd4"/><ellipse cx="488.8" cy="263.1" rx="4.7" ry="2.1" fill="#e2e5e9"/><ellipse cx="679.8" cy="264.1" rx="5.9" ry="3.2" fill="#c4cbd4"/><ellipse cx="679.5" cy="263.5" rx="4.9" ry="2.1" fill="#e2e5e9"/><ellipse cx="506.9" cy="264.1" rx="5.7" ry="3.2" fill="#c4cbd4"/><ellipse cx="506.7" cy="263.5" rx="4.7" ry="2.1" fill="#e2e5e9"/><ellipse cx="698.3" cy="264.4" rx="5.9" ry="3.2" fill="#5aa6dd"/><ellipse cx="698" cy="263.9" rx="4.9" ry="2.1" fill="#82c2ec"/><ellipse cx="524.9" cy="264.5" rx="5.8" ry="3.2" fill="#c4cbd4"/><ellipse cx="524.6" cy="263.9" rx="4.7" ry="2.1" fill="#e2e5e9"/><ellipse cx="716.9" cy="264.8" rx="6" ry="3.2" fill="#5aa6dd"/><ellipse cx="716.6" cy="264.2" rx="4.9" ry="2.1" fill="#82c2ec"/><ellipse cx="543" cy="264.8" rx="5.8" ry="3.2" fill="#c4cbd4"/><ellipse cx="542.7" cy="264.3" rx="4.7" ry="2.1" fill="#e2e5e9"/><ellipse cx="373.1" cy="264.8" rx="5.6" ry="3.2" fill="#5aa6dd"/><ellipse cx="372.8" cy="264.3" rx="4.6" ry="2.1" fill="#82c2ec"/><ellipse cx="561.1" cy="265.2" rx="5.8" ry="3.2" fill="#c4cbd4"/><ellipse cx="560.8" cy="264.6" rx="4.8" ry="2.1" fill="#e2e5e9"/><ellipse cx="390.6" cy="265.2" rx="5.6" ry="3.2" fill="#5aa6dd"/><ellipse cx="390.3" cy="264.6" rx="4.6" ry="2.1" fill="#82c2ec"/><ellipse cx="408.2" cy="265.6" rx="5.7" ry="3.2" fill="#c4cbd4"/><ellipse cx="408" cy="265" rx="4.6" ry="2.1" fill="#e2e5e9"/><ellipse cx="579.3" cy="265.6" rx="5.8" ry="3.2" fill="#c4cbd4"/><ellipse cx="579" cy="265" rx="4.8" ry="2.1" fill="#e2e5e9"/><ellipse cx="425.9" cy="266" rx="5.7" ry="3.2" fill="#c4cbd4"/><ellipse cx="425.7" cy="265.4" rx="4.7" ry="2.1" fill="#e2e5e9"/><ellipse cx="597.5" cy="266" rx="5.9" ry="3.2" fill="#c4cbd4"/><ellipse cx="597.2" cy="265.4" rx="4.8" ry="2.1" fill="#e2e5e9"/><ellipse cx="443.7" cy="266.3" rx="5.7" ry="3.2" fill="#c4cbd4"/><ellipse cx="443.4" cy="265.8" rx="4.7" ry="2.1" fill="#e2e5e9"/><ellipse cx="615.9" cy="266.3" rx="5.9" ry="3.2" fill="#c4cbd4"/><ellipse cx="615.6" cy="265.8" rx="4.8" ry="2.1" fill="#e2e5e9"/><ellipse cx="461.6" cy="266.7" rx="5.7" ry="3.2" fill="#c4cbd4"/><ellipse cx="461.3" cy="266.1" rx="4.7" ry="2.1" fill="#e2e5e9"/><ellipse cx="634.3" cy="266.7" rx="5.9" ry="3.2" fill="#c4cbd4"/><ellipse cx="634" cy="266.1" rx="4.8" ry="2.1" fill="#e2e5e9"/><ellipse cx="479.5" cy="267.1" rx="5.7" ry="3.2" fill="#c4cbd4"/><ellipse cx="479.2" cy="266.5" rx="4.7" ry="2.1" fill="#e2e5e9"/><ellipse cx="652.8" cy="267.1" rx="5.9" ry="3.3" fill="#c4cbd4"/><ellipse cx="652.5" cy="266.5" rx="4.9" ry="2.1" fill="#e2e5e9"/><ellipse cx="497.5" cy="267.5" rx="5.8" ry="3.2" fill="#c4cbd4"/><ellipse cx="497.2" cy="266.9" rx="4.7" ry="2.1" fill="#e2e5e9"/><ellipse cx="671.3" cy="267.5" rx="6" ry="3.3" fill="#c4cbd4"/><ellipse cx="671" cy="266.9" rx="4.9" ry="2.2" fill="#e2e5e9"/><ellipse cx="515.5" cy="267.8" rx="5.8" ry="3.2" fill="#c4cbd4"/><ellipse cx="515.2" cy="267.3" rx="4.7" ry="2.1" fill="#e2e5e9"/><ellipse cx="690" cy="267.9" rx="6" ry="3.3" fill="#c4cbd4"/><ellipse cx="689.7" cy="267.3" rx="4.9" ry="2.2" fill="#e2e5e9"/><ellipse cx="362.8" cy="268.2" rx="5.6" ry="3.2" fill="#5aa6dd"/><ellipse cx="362.5" cy="267.6" rx="4.6" ry="2.1" fill="#82c2ec"/><ellipse cx="533.7" cy="268.2" rx="5.8" ry="3.2" fill="#c4cbd4"/><ellipse cx="533.4" cy="267.6" rx="4.8" ry="2.1" fill="#e2e5e9"/><ellipse cx="708.7" cy="268.3" rx="6" ry="3.3" fill="#5aa6dd"/><ellipse cx="708.4" cy="267.7" rx="4.9" ry="2.2" fill="#82c2ec"/><ellipse cx="380.5" cy="268.6" rx="5.7" ry="3.2" fill="#5aa6dd"/><ellipse cx="380.2" cy="268" rx="4.6" ry="2.1" fill="#82c2ec"/><ellipse cx="551.9" cy="268.6" rx="5.8" ry="3.3" fill="#c4cbd4"/><ellipse cx="551.6" cy="268" rx="4.8" ry="2.1" fill="#e2e5e9"/><ellipse cx="727.5" cy="268.6" rx="6" ry="3.3" fill="#5aa6dd"/><ellipse cx="727.2" cy="268.1" rx="4.9" ry="2.2" fill="#82c2ec"/><ellipse cx="398.2" cy="268.9" rx="5.7" ry="3.2" fill="#c4cbd4"/><ellipse cx="397.9" cy="268.4" rx="4.7" ry="2.1" fill="#e2e5e9"/><ellipse cx="570.2" cy="269" rx="5.9" ry="3.3" fill="#c4cbd4"/><ellipse cx="569.9" cy="268.4" rx="4.8" ry="2.2" fill="#e2e5e9"/><ellipse cx="416" cy="269.3" rx="5.7" ry="3.2" fill="#c4cbd4"/><ellipse cx="415.7" cy="268.7" rx="4.7" ry="2.1" fill="#e2e5e9"/><ellipse cx="588.5" cy="269.4" rx="5.9" ry="3.3" fill="#c4cbd4"/><ellipse cx="588.2" cy="268.8" rx="4.8" ry="2.2" fill="#e2e5e9"/><ellipse cx="433.8" cy="269.7" rx="5.7" ry="3.2" fill="#c4cbd4"/><ellipse cx="433.6" cy="269.1" rx="4.7" ry="2.1" fill="#e2e5e9"/><ellipse cx="607" cy="269.8" rx="5.9" ry="3.3" fill="#c4cbd4"/><ellipse cx="606.7" cy="269.2" rx="4.8" ry="2.2" fill="#e2e5e9"/><ellipse cx="451.8" cy="270.1" rx="5.8" ry="3.3" fill="#c4cbd4"/><ellipse cx="451.5" cy="269.5" rx="4.7" ry="2.1" fill="#e2e5e9"/><ellipse cx="625.5" cy="270.2" rx="5.9" ry="3.3" fill="#c4cbd4"/><ellipse cx="625.2" cy="269.6" rx="4.9" ry="2.2" fill="#e2e5e9"/><ellipse cx="469.8" cy="270.5" rx="5.8" ry="3.3" fill="#c4cbd4"/><ellipse cx="469.5" cy="269.9" rx="4.7" ry="2.2" fill="#e2e5e9"/><ellipse cx="644.1" cy="270.6" rx="6" ry="3.3" fill="#c4cbd4"/><ellipse cx="643.8" cy="270" rx="4.9" ry="2.2" fill="#e2e5e9"/><ellipse cx="487.9" cy="270.9" rx="5.8" ry="3.3" fill="#c4cbd4"/><ellipse cx="487.6" cy="270.3" rx="4.8" ry="2.2" fill="#e2e5e9"/><ellipse cx="662.7" cy="270.9" rx="6" ry="3.3" fill="#c4cbd4"/><ellipse cx="662.4" cy="270.3" rx="4.9" ry="2.2" fill="#e2e5e9"/><ellipse cx="506" cy="271.3" rx="5.8" ry="3.3" fill="#c4cbd4"/><ellipse cx="505.7" cy="270.7" rx="4.8" ry="2.2" fill="#e2e5e9"/><ellipse cx="681.5" cy="271.3" rx="6" ry="3.3" fill="#c4cbd4"/><ellipse cx="681.2" cy="270.7" rx="4.9" ry="2.2" fill="#e2e5e9"/><ellipse cx="524.3" cy="271.7" rx="5.8" ry="3.3" fill="#c4cbd4"/><ellipse cx="524" cy="271.1" rx="4.8" ry="2.2" fill="#e2e5e9"/><ellipse cx="700.3" cy="271.7" rx="6" ry="3.3" fill="#c4cbd4"/><ellipse cx="700" cy="271.1" rx="4.9" ry="2.2" fill="#e2e5e9"/><ellipse cx="370.2" cy="272" rx="5.7" ry="3.3" fill="#5aa6dd"/><ellipse cx="369.9" cy="271.4" rx="4.7" ry="2.2" fill="#82c2ec"/><ellipse cx="542.6" cy="272.1" rx="5.9" ry="3.3" fill="#c4cbd4"/><ellipse cx="542.3" cy="271.5" rx="4.8" ry="2.2" fill="#e2e5e9"/><ellipse cx="719.2" cy="272.1" rx="6.1" ry="3.3" fill="#5aa6dd"/><ellipse cx="718.9" cy="271.5" rx="5" ry="2.2" fill="#82c2ec"/><ellipse cx="388" cy="272.4" rx="5.7" ry="3.3" fill="#c4cbd4"/><ellipse cx="387.7" cy="271.8" rx="4.7" ry="2.2" fill="#e2e5e9"/><ellipse cx="561" cy="272.4" rx="5.9" ry="3.3" fill="#c4cbd4"/><ellipse cx="560.7" cy="271.9" rx="4.8" ry="2.2" fill="#e2e5e9"/><ellipse cx="738.2" cy="272.5" rx="6.1" ry="3.3" fill="#5aa6dd"/><ellipse cx="737.9" cy="271.9" rx="5" ry="2.2" fill="#82c2ec"/><ellipse cx="405.9" cy="272.8" rx="5.7" ry="3.3" fill="#c4cbd4"/><ellipse cx="405.6" cy="272.2" rx="4.7" ry="2.2" fill="#e2e5e9"/><ellipse cx="579.4" cy="272.8" rx="5.9" ry="3.3" fill="#c4cbd4"/><ellipse cx="579.1" cy="272.2" rx="4.9" ry="2.2" fill="#e2e5e9"/><ellipse cx="423.8" cy="273.1" rx="5.8" ry="3.3" fill="#c4cbd4"/><ellipse cx="423.5" cy="272.6" rx="4.7" ry="2.2" fill="#e2e5e9"/><ellipse cx="598" cy="273.2" rx="5.9" ry="3.3" fill="#c4cbd4"/><ellipse cx="597.7" cy="272.6" rx="4.9" ry="2.2" fill="#e2e5e9"/><ellipse cx="441.9" cy="273.5" rx="5.8" ry="3.3" fill="#c4cbd4"/><ellipse cx="441.6" cy="272.9" rx="4.7" ry="2.2" fill="#e2e5e9"/><ellipse cx="616.6" cy="273.6" rx="6" ry="3.3" fill="#c4cbd4"/><ellipse cx="616.3" cy="273" rx="4.9" ry="2.2" fill="#e2e5e9"/><ellipse cx="460" cy="273.9" rx="5.8" ry="3.3" fill="#c4cbd4"/><ellipse cx="459.7" cy="273.3" rx="4.8" ry="2.2" fill="#e2e5e9"/><ellipse cx="635.3" cy="274" rx="6" ry="3.3" fill="#c4cbd4"/><ellipse cx="635" cy="273.4" rx="4.9" ry="2.2" fill="#e2e5e9"/><ellipse cx="478.2" cy="274.3" rx="5.8" ry="3.3" fill="#c4cbd4"/><ellipse cx="477.9" cy="273.7" rx="4.8" ry="2.2" fill="#e2e5e9"/><ellipse cx="654.1" cy="274.4" rx="6" ry="3.4" fill="#c4cbd4"/><ellipse cx="653.8" cy="273.8" rx="4.9" ry="2.2" fill="#e2e5e9"/><ellipse cx="496.4" cy="274.7" rx="5.9" ry="3.3" fill="#c4cbd4"/><ellipse cx="496.1" cy="274.1" rx="4.8" ry="2.2" fill="#e2e5e9"/><ellipse cx="672.9" cy="274.9" rx="6" ry="3.4" fill="#c4cbd4"/><ellipse cx="672.6" cy="274.2" rx="5" ry="2.2" fill="#e2e5e9"/><ellipse cx="514.8" cy="275.1" rx="5.9" ry="3.3" fill="#c4cbd4"/><ellipse cx="514.5" cy="274.5" rx="4.8" ry="2.2" fill="#e2e5e9"/><ellipse cx="691.8" cy="275.3" rx="6.1" ry="3.4" fill="#c4cbd4"/><ellipse cx="691.5" cy="274.7" rx="5" ry="2.2" fill="#e2e5e9"/><ellipse cx="533.2" cy="275.5" rx="5.9" ry="3.3" fill="#c4cbd4"/><ellipse cx="532.9" cy="274.9" rx="4.8" ry="2.2" fill="#e2e5e9"/><ellipse cx="710.8" cy="275.7" rx="6.1" ry="3.4" fill="#c4cbd4"/><ellipse cx="710.5" cy="275.1" rx="5" ry="2.2" fill="#e2e5e9"/><ellipse cx="377.6" cy="275.8" rx="5.7" ry="3.3" fill="#5aa6dd"/><ellipse cx="377.4" cy="275.2" rx="4.7" ry="2.2" fill="#82c2ec"/><ellipse cx="551.7" cy="275.9" rx="5.9" ry="3.4" fill="#c4cbd4"/><ellipse cx="551.4" cy="275.3" rx="4.9" ry="2.2" fill="#e2e5e9"/><ellipse cx="729.9" cy="276.1" rx="6.1" ry="3.4" fill="#5aa6dd"/><ellipse cx="729.6" cy="275.5" rx="5" ry="2.2" fill="#82c2ec"/><ellipse cx="395.6" cy="276.2" rx="5.8" ry="3.3" fill="#c4cbd4"/><ellipse cx="395.3" cy="275.6" rx="4.7" ry="2.2" fill="#e2e5e9"/><ellipse cx="570.2" cy="276.4" rx="6" ry="3.4" fill="#c4cbd4"/><ellipse cx="569.9" cy="275.7" rx="4.9" ry="2.2" fill="#e2e5e9"/><ellipse cx="749.1" cy="276.5" rx="6.1" ry="3.4" fill="#5aa6dd"/><ellipse cx="748.8" cy="275.9" rx="5" ry="2.2" fill="#82c2ec"/><ellipse cx="413.7" cy="276.6" rx="5.8" ry="3.3" fill="#c4cbd4"/><ellipse cx="413.4" cy="276" rx="4.7" ry="2.2" fill="#e2e5e9"/><ellipse cx="588.9" cy="276.8" rx="6" ry="3.4" fill="#c4cbd4"/><ellipse cx="588.6" cy="276.2" rx="4.9" ry="2.2" fill="#e2e5e9"/><ellipse cx="431.8" cy="277" rx="5.8" ry="3.3" fill="#c4cbd4"/><ellipse cx="431.5" cy="276.4" rx="4.8" ry="2.2" fill="#e2e5e9"/><ellipse cx="607.6" cy="277.2" rx="6" ry="3.4" fill="#c4cbd4"/><ellipse cx="607.3" cy="276.6" rx="4.9" ry="2.2" fill="#e2e5e9"/><ellipse cx="450" cy="277.4" rx="5.8" ry="3.4" fill="#c4cbd4"/><ellipse cx="449.7" cy="276.8" rx="4.8" ry="2.2" fill="#e2e5e9"/><ellipse cx="626.4" cy="277.6" rx="6" ry="3.4" fill="#c4cbd4"/><ellipse cx="626.1" cy="277" rx="4.9" ry="2.2" fill="#e2e5e9"/><ellipse cx="468.3" cy="277.8" rx="5.9" ry="3.4" fill="#c4cbd4"/><ellipse cx="468" cy="277.2" rx="4.8" ry="2.2" fill="#e2e5e9"/><ellipse cx="645.3" cy="278" rx="6.1" ry="3.4" fill="#c4cbd4"/><ellipse cx="644.9" cy="277.4" rx="5" ry="2.2" fill="#e2e5e9"/><ellipse cx="486.7" cy="278.3" rx="5.9" ry="3.4" fill="#c4cbd4"/><ellipse cx="486.4" cy="277.6" rx="4.8" ry="2.2" fill="#e2e5e9"/><ellipse cx="664.2" cy="278.4" rx="6.1" ry="3.4" fill="#c4cbd4"/><ellipse cx="663.9" cy="277.8" rx="5" ry="2.3" fill="#e2e5e9"/><ellipse cx="505.1" cy="278.7" rx="5.9" ry="3.4" fill="#c4cbd4"/><ellipse cx="504.8" cy="278.1" rx="4.8" ry="2.2" fill="#e2e5e9"/><ellipse cx="683.2" cy="278.8" rx="6.1" ry="3.4" fill="#c4cbd4"/><ellipse cx="682.9" cy="278.2" rx="5" ry="2.3" fill="#e2e5e9"/><ellipse cx="523.6" cy="279.1" rx="5.9" ry="3.4" fill="#c4cbd4"/><ellipse cx="523.3" cy="278.5" rx="4.9" ry="2.2" fill="#e2e5e9"/><ellipse cx="702.4" cy="279.2" rx="6.1" ry="3.4" fill="#c4cbd4"/><ellipse cx="702.1" cy="278.6" rx="5" ry="2.3" fill="#e2e5e9"/><ellipse cx="542.2" cy="279.5" rx="6" ry="3.4" fill="#c4cbd4"/><ellipse cx="541.9" cy="278.9" rx="4.9" ry="2.2" fill="#e2e5e9"/><ellipse cx="721.6" cy="279.7" rx="6.2" ry="3.4" fill="#c4cbd4"/><ellipse cx="721.3" cy="279" rx="5" ry="2.3" fill="#e2e5e9"/><ellipse cx="385.3" cy="279.7" rx="5.8" ry="3.4" fill="#5aa6dd"/><ellipse cx="385" cy="279.1" rx="4.8" ry="2.2" fill="#82c2ec"/><ellipse cx="560.9" cy="279.9" rx="6" ry="3.4" fill="#c4cbd4"/><ellipse cx="560.6" cy="279.3" rx="4.9" ry="2.3" fill="#e2e5e9"/><ellipse cx="740.8" cy="280.1" rx="6.2" ry="3.5" fill="#5aa6dd"/><ellipse cx="740.5" cy="279.5" rx="5.1" ry="2.3" fill="#82c2ec"/><ellipse cx="403.4" cy="280.1" rx="5.8" ry="3.4" fill="#c4cbd4"/><ellipse cx="403.1" cy="279.5" rx="4.8" ry="2.2" fill="#e2e5e9"/><ellipse cx="579.6" cy="280.3" rx="6" ry="3.4" fill="#c4cbd4"/><ellipse cx="579.3" cy="279.7" rx="4.9" ry="2.3" fill="#e2e5e9"/><ellipse cx="760.2" cy="280.5" rx="6.2" ry="3.5" fill="#5aa6dd"/><ellipse cx="759.9" cy="279.9" rx="5.1" ry="2.3" fill="#82c2ec"/><ellipse cx="421.6" cy="280.6" rx="5.8" ry="3.4" fill="#c4cbd4"/><ellipse cx="421.4" cy="280" rx="4.8" ry="2.2" fill="#e2e5e9"/><ellipse cx="598.4" cy="280.7" rx="6" ry="3.4" fill="#c4cbd4"/><ellipse cx="598.1" cy="280.1" rx="4.9" ry="2.3" fill="#e2e5e9"/><ellipse cx="440" cy="281" rx="5.9" ry="3.4" fill="#c4cbd4"/><ellipse cx="439.7" cy="280.4" rx="4.8" ry="2.2" fill="#e2e5e9"/><ellipse cx="617.3" cy="281.2" rx="6.1" ry="3.4" fill="#c4cbd4"/><ellipse cx="617" cy="280.6" rx="5" ry="2.3" fill="#e2e5e9"/><ellipse cx="458.3" cy="281.4" rx="5.9" ry="3.4" fill="#c4cbd4"/><ellipse cx="458" cy="280.8" rx="4.8" ry="2.2" fill="#e2e5e9"/><ellipse cx="636.3" cy="281.6" rx="6.1" ry="3.4" fill="#c4cbd4"/><ellipse cx="636" cy="281" rx="5" ry="2.3" fill="#e2e5e9"/><ellipse cx="476.8" cy="281.8" rx="5.9" ry="3.4" fill="#c4cbd4"/><ellipse cx="476.5" cy="281.2" rx="4.9" ry="2.3" fill="#e2e5e9"/><ellipse cx="655.4" cy="282" rx="6.1" ry="3.5" fill="#c4cbd4"/><ellipse cx="655.1" cy="281.4" rx="5" ry="2.3" fill="#e2e5e9"/><ellipse cx="495.3" cy="282.2" rx="5.9" ry="3.4" fill="#c4cbd4"/><ellipse cx="495" cy="281.6" rx="4.9" ry="2.3" fill="#e2e5e9"/><ellipse cx="674.5" cy="282.4" rx="6.1" ry="3.5" fill="#c4cbd4"/><ellipse cx="674.2" cy="281.8" rx="5" ry="2.3" fill="#e2e5e9"/><ellipse cx="513.9" cy="282.7" rx="6" ry="3.4" fill="#c4cbd4"/><ellipse cx="513.6" cy="282" rx="4.9" ry="2.3" fill="#e2e5e9"/><ellipse cx="693.8" cy="282.9" rx="6.2" ry="3.5" fill="#c4cbd4"/><ellipse cx="693.5" cy="282.2" rx="5.1" ry="2.3" fill="#e2e5e9"/><ellipse cx="532.6" cy="283.1" rx="6" ry="3.4" fill="#c4cbd4"/><ellipse cx="532.3" cy="282.5" rx="4.9" ry="2.3" fill="#e2e5e9"/><ellipse cx="713.1" cy="283.3" rx="6.2" ry="3.5" fill="#c4cbd4"/><ellipse cx="712.8" cy="282.7" rx="5.1" ry="2.3" fill="#e2e5e9"/><ellipse cx="551.4" cy="283.5" rx="6" ry="3.5" fill="#c4cbd4"/><ellipse cx="551.1" cy="282.9" rx="4.9" ry="2.3" fill="#e2e5e9"/><ellipse cx="393" cy="283.7" rx="5.9" ry="3.4" fill="#5aa6dd"/><ellipse cx="392.7" cy="283.1" rx="4.8" ry="2.3" fill="#82c2ec"/><ellipse cx="732.5" cy="283.7" rx="6.2" ry="3.5" fill="#c4cbd4"/><ellipse cx="732.2" cy="283.1" rx="5.1" ry="2.3" fill="#e2e5e9"/><ellipse cx="570.3" cy="283.9" rx="6" ry="3.5" fill="#c4cbd4"/><ellipse cx="570" cy="283.3" rx="5" ry="2.3" fill="#e2e5e9"/><ellipse cx="411.3" cy="284.1" rx="5.9" ry="3.4" fill="#c4cbd4"/><ellipse cx="411" cy="283.5" rx="4.8" ry="2.3" fill="#e2e5e9"/><ellipse cx="751.9" cy="284.2" rx="6.2" ry="3.5" fill="#5aa6dd"/><ellipse cx="751.6" cy="283.5" rx="5.1" ry="2.3" fill="#82c2ec"/><ellipse cx="589.2" cy="284.4" rx="6.1" ry="3.5" fill="#c4cbd4"/><ellipse cx="588.9" cy="283.7" rx="5" ry="2.3" fill="#e2e5e9"/><ellipse cx="429.7" cy="284.6" rx="5.9" ry="3.4" fill="#c4cbd4"/><ellipse cx="429.4" cy="283.9" rx="4.8" ry="2.3" fill="#e2e5e9"/><ellipse cx="771.5" cy="284.6" rx="6.3" ry="3.5" fill="#5aa6dd"/><ellipse cx="771.2" cy="284" rx="5.1" ry="2.3" fill="#82c2ec"/><ellipse cx="608.2" cy="284.8" rx="6.1" ry="3.5" fill="#c4cbd4"/><ellipse cx="607.9" cy="284.2" rx="5" ry="2.3" fill="#e2e5e9"/><ellipse cx="448.2" cy="285" rx="5.9" ry="3.5" fill="#c4cbd4"/><ellipse cx="447.9" cy="284.4" rx="4.9" ry="2.3" fill="#e2e5e9"/><ellipse cx="627.3" cy="285.2" rx="6.1" ry="3.5" fill="#c4cbd4"/><ellipse cx="627" cy="284.6" rx="5" ry="2.3" fill="#e2e5e9"/><ellipse cx="466.8" cy="285.4" rx="6" ry="3.5" fill="#c4cbd4"/><ellipse cx="466.5" cy="284.8" rx="4.9" ry="2.3" fill="#e2e5e9"/><ellipse cx="646.5" cy="285.7" rx="6.1" ry="3.5" fill="#c4cbd4"/><ellipse cx="646.2" cy="285" rx="5" ry="2.3" fill="#e2e5e9"/><ellipse cx="485.4" cy="285.9" rx="6" ry="3.5" fill="#c4cbd4"/><ellipse cx="485.1" cy="285.2" rx="4.9" ry="2.3" fill="#e2e5e9"/><ellipse cx="665.7" cy="286.1" rx="6.2" ry="3.5" fill="#c4cbd4"/><ellipse cx="665.4" cy="285.5" rx="5.1" ry="2.3" fill="#e2e5e9"/><ellipse cx="504.1" cy="286.3" rx="6" ry="3.5" fill="#c4cbd4"/><ellipse cx="503.8" cy="285.7" rx="4.9" ry="2.3" fill="#e2e5e9"/><ellipse cx="685.1" cy="286.6" rx="6.2" ry="3.5" fill="#c4cbd4"/><ellipse cx="684.7" cy="285.9" rx="5.1" ry="2.3" fill="#e2e5e9"/><ellipse cx="522.9" cy="286.7" rx="6" ry="3.5" fill="#c4cbd4"/><ellipse cx="522.6" cy="286.1" rx="4.9" ry="2.3" fill="#e2e5e9"/><ellipse cx="704.5" cy="287" rx="6.2" ry="3.5" fill="#c4cbd4"/><ellipse cx="704.2" cy="286.4" rx="5.1" ry="2.3" fill="#e2e5e9"/><ellipse cx="541.8" cy="287.2" rx="6.1" ry="3.5" fill="#c4cbd4"/><ellipse cx="541.5" cy="286.5" rx="5" ry="2.3" fill="#e2e5e9"/><ellipse cx="724" cy="287.4" rx="6.3" ry="3.6" fill="#c4cbd4"/><ellipse cx="723.7" cy="286.8" rx="5.1" ry="2.3" fill="#e2e5e9"/><ellipse cx="560.8" cy="287.6" rx="6.1" ry="3.5" fill="#c4cbd4"/><ellipse cx="560.5" cy="287" rx="5" ry="2.3" fill="#e2e5e9"/><ellipse cx="400.9" cy="287.8" rx="5.9" ry="3.5" fill="#5aa6dd"/><ellipse cx="400.6" cy="287.1" rx="4.8" ry="2.3" fill="#82c2ec"/><ellipse cx="743.6" cy="287.9" rx="6.3" ry="3.6" fill="#c4cbd4"/><ellipse cx="743.3" cy="287.2" rx="5.2" ry="2.4" fill="#e2e5e9"/><ellipse cx="579.8" cy="288" rx="6.1" ry="3.5" fill="#c4cbd4"/><ellipse cx="579.5" cy="287.4" rx="5" ry="2.3" fill="#e2e5e9"/><ellipse cx="419.4" cy="288.2" rx="5.9" ry="3.5" fill="#c4cbd4"/><ellipse cx="419.1" cy="287.6" rx="4.9" ry="2.3" fill="#e2e5e9"/><ellipse cx="763.2" cy="288.3" rx="6.3" ry="3.6" fill="#5aa6dd"/><ellipse cx="762.9" cy="287.7" rx="5.2" ry="2.4" fill="#82c2ec"/><ellipse cx="598.9" cy="288.5" rx="6.1" ry="3.5" fill="#c4cbd4"/><ellipse cx="598.6" cy="287.9" rx="5" ry="2.3" fill="#e2e5e9"/><ellipse cx="438" cy="288.6" rx="6" ry="3.5" fill="#c4cbd4"/><ellipse cx="437.7" cy="288" rx="4.9" ry="2.3" fill="#e2e5e9"/><ellipse cx="783" cy="288.8" rx="6.3" ry="3.6" fill="#5aa6dd"/><ellipse cx="782.7" cy="288.1" rx="5.2" ry="2.4" fill="#82c2ec"/><ellipse cx="618.1" cy="288.9" rx="6.2" ry="3.5" fill="#c4cbd4"/><ellipse cx="617.8" cy="288.3" rx="5" ry="2.3" fill="#e2e5e9"/><ellipse cx="456.6" cy="289.1" rx="6" ry="3.5" fill="#c4cbd4"/><ellipse cx="456.3" cy="288.4" rx="4.9" ry="2.3" fill="#e2e5e9"/><ellipse cx="637.4" cy="289.4" rx="6.2" ry="3.6" fill="#c4cbd4"/><ellipse cx="637.1" cy="288.7" rx="5.1" ry="2.3" fill="#e2e5e9"/><ellipse cx="475.4" cy="289.5" rx="6" ry="3.5" fill="#c4cbd4"/><ellipse cx="475.1" cy="288.9" rx="4.9" ry="2.3" fill="#e2e5e9"/><ellipse cx="656.8" cy="289.8" rx="6.2" ry="3.6" fill="#c4cbd4"/><ellipse cx="656.5" cy="289.2" rx="5.1" ry="2.4" fill="#e2e5e9"/><ellipse cx="494.2" cy="290" rx="6" ry="3.5" fill="#c4cbd4"/><ellipse cx="493.9" cy="289.3" rx="4.9" ry="2.3" fill="#e2e5e9"/><ellipse cx="676.2" cy="290.3" rx="6.2" ry="3.6" fill="#c4cbd4"/><ellipse cx="675.9" cy="289.6" rx="5.1" ry="2.4" fill="#e2e5e9"/><ellipse cx="513.1" cy="290.4" rx="6.1" ry="3.5" fill="#c4cbd4"/><ellipse cx="512.8" cy="289.8" rx="5" ry="2.3" fill="#e2e5e9"/><ellipse cx="695.8" cy="290.7" rx="6.3" ry="3.6" fill="#c4cbd4"/><ellipse cx="695.4" cy="290.1" rx="5.1" ry="2.4" fill="#e2e5e9"/><ellipse cx="532.1" cy="290.9" rx="6.1" ry="3.6" fill="#c4cbd4"/><ellipse cx="531.8" cy="290.2" rx="5" ry="2.3" fill="#e2e5e9"/><ellipse cx="715.4" cy="291.2" rx="6.3" ry="3.6" fill="#c4cbd4"/><ellipse cx="715.1" cy="290.5" rx="5.2" ry="2.4" fill="#e2e5e9"/><ellipse cx="551.2" cy="291.3" rx="6.1" ry="3.6" fill="#c4cbd4"/><ellipse cx="550.9" cy="290.7" rx="5" ry="2.4" fill="#e2e5e9"/><ellipse cx="735.1" cy="291.6" rx="6.3" ry="3.6" fill="#c4cbd4"/><ellipse cx="734.8" cy="291" rx="5.2" ry="2.4" fill="#e2e5e9"/><ellipse cx="570.3" cy="291.8" rx="6.1" ry="3.6" fill="#c4cbd4"/><ellipse cx="570" cy="291.1" rx="5" ry="2.4" fill="#e2e5e9"/><ellipse cx="408.9" cy="291.9" rx="6" ry="3.5" fill="#5aa6dd"/><ellipse cx="408.6" cy="291.2" rx="4.9" ry="2.3" fill="#82c2ec"/><ellipse cx="754.9" cy="292.1" rx="6.3" ry="3.6" fill="#c4cbd4"/><ellipse cx="754.6" cy="291.5" rx="5.2" ry="2.4" fill="#e2e5e9"/><ellipse cx="589.5" cy="292.2" rx="6.2" ry="3.6" fill="#c4cbd4"/><ellipse cx="589.2" cy="291.6" rx="5.1" ry="2.4" fill="#e2e5e9"/><ellipse cx="427.6" cy="292.3" rx="6" ry="3.6" fill="#c4cbd4"/><ellipse cx="427.3" cy="291.7" rx="4.9" ry="2.3" fill="#e2e5e9"/><ellipse cx="774.7" cy="292.6" rx="6.4" ry="3.6" fill="#5aa6dd"/><ellipse cx="774.4" cy="291.9" rx="5.2" ry="2.4" fill="#82c2ec"/><ellipse cx="608.8" cy="292.7" rx="6.2" ry="3.6" fill="#c4cbd4"/><ellipse cx="608.5" cy="292" rx="5.1" ry="2.4" fill="#e2e5e9"/><ellipse cx="446.4" cy="292.8" rx="6" ry="3.6" fill="#c4cbd4"/><ellipse cx="446.1" cy="292.1" rx="4.9" ry="2.4" fill="#e2e5e9"/><ellipse cx="794.7" cy="293" rx="6.4" ry="3.6" fill="#5aa6dd"/><ellipse cx="794.4" cy="292.4" rx="5.2" ry="2.4" fill="#82c2ec"/><ellipse cx="628.2" cy="293.1" rx="6.2" ry="3.6" fill="#c4cbd4"/><ellipse cx="627.9" cy="292.5" rx="5.1" ry="2.4" fill="#e2e5e9"/><ellipse cx="465.2" cy="293.2" rx="6" ry="3.6" fill="#c4cbd4"/><ellipse cx="464.9" cy="292.6" rx="5" ry="2.4" fill="#e2e5e9"/><ellipse cx="647.7" cy="293.6" rx="6.2" ry="3.6" fill="#c4cbd4"/><ellipse cx="647.4" cy="292.9" rx="5.1" ry="2.4" fill="#e2e5e9"/><ellipse cx="484.1" cy="293.7" rx="6.1" ry="3.6" fill="#c4cbd4"/><ellipse cx="483.8" cy="293.1" rx="5" ry="2.4" fill="#e2e5e9"/><ellipse cx="667.3" cy="294.1" rx="6.3" ry="3.6" fill="#c4cbd4"/><ellipse cx="667" cy="293.4" rx="5.1" ry="2.4" fill="#e2e5e9"/><ellipse cx="503.1" cy="294.2" rx="6.1" ry="3.6" fill="#c4cbd4"/><ellipse cx="502.8" cy="293.5" rx="5" ry="2.4" fill="#e2e5e9"/><ellipse cx="686.9" cy="294.5" rx="6.3" ry="3.6" fill="#c4cbd4"/><ellipse cx="686.6" cy="293.9" rx="5.2" ry="2.4" fill="#e2e5e9"/><ellipse cx="522.2" cy="294.6" rx="6.1" ry="3.6" fill="#c4cbd4"/><ellipse cx="521.9" cy="294" rx="5" ry="2.4" fill="#e2e5e9"/><ellipse cx="706.7" cy="295" rx="6.3" ry="3.7" fill="#c4cbd4"/><ellipse cx="706.3" cy="294.3" rx="5.2" ry="2.4" fill="#e2e5e9"/><ellipse cx="541.4" cy="295.1" rx="6.1" ry="3.6" fill="#c4cbd4"/><ellipse cx="541.1" cy="294.4" rx="5" ry="2.4" fill="#e2e5e9"/><ellipse cx="726.5" cy="295.5" rx="6.4" ry="3.7" fill="#c4cbd4"/><ellipse cx="726.2" cy="294.8" rx="5.2" ry="2.4" fill="#e2e5e9"/><ellipse cx="560.7" cy="295.5" rx="6.2" ry="3.6" fill="#c4cbd4"/><ellipse cx="560.4" cy="294.9" rx="5.1" ry="2.4" fill="#e2e5e9"/><ellipse cx="746.4" cy="295.9" rx="6.4" ry="3.7" fill="#c4cbd4"/><ellipse cx="746.1" cy="295.3" rx="5.2" ry="2.4" fill="#e2e5e9"/><ellipse cx="580" cy="296" rx="6.2" ry="3.6" fill="#c4cbd4"/><ellipse cx="579.7" cy="295.4" rx="5.1" ry="2.4" fill="#e2e5e9"/><ellipse cx="417.1" cy="296.1" rx="6" ry="3.6" fill="#5aa6dd"/><ellipse cx="416.8" cy="295.4" rx="4.9" ry="2.4" fill="#82c2ec"/><ellipse cx="766.4" cy="296.4" rx="6.4" ry="3.7" fill="#c4cbd4"/><ellipse cx="766.1" cy="295.7" rx="5.3" ry="2.4" fill="#e2e5e9"/><ellipse cx="599.4" cy="296.5" rx="6.2" ry="3.7" fill="#c4cbd4"/><ellipse cx="599.1" cy="295.8" rx="5.1" ry="2.4" fill="#e2e5e9"/><ellipse cx="435.9" cy="296.5" rx="6.1" ry="3.6" fill="#c4cbd4"/><ellipse cx="435.6" cy="295.9" rx="5" ry="2.4" fill="#e2e5e9"/><ellipse cx="786.5" cy="296.9" rx="6.4" ry="3.7" fill="#5aa6dd"/><ellipse cx="786.1" cy="296.2" rx="5.3" ry="2.4" fill="#82c2ec"/><ellipse cx="618.9" cy="296.9" rx="6.3" ry="3.7" fill="#c4cbd4"/><ellipse cx="618.6" cy="296.3" rx="5.1" ry="2.4" fill="#e2e5e9"/><ellipse cx="454.9" cy="297" rx="6.1" ry="3.6" fill="#c4cbd4"/><ellipse cx="454.6" cy="296.4" rx="5" ry="2.4" fill="#e2e5e9"/><ellipse cx="806.6" cy="297.4" rx="6.5" ry="3.7" fill="#5aa6dd"/><ellipse cx="806.3" cy="296.7" rx="5.3" ry="2.4" fill="#82c2ec"/><ellipse cx="638.5" cy="297.4" rx="6.3" ry="3.7" fill="#c4cbd4"/><ellipse cx="638.2" cy="296.8" rx="5.2" ry="2.4" fill="#e2e5e9"/><ellipse cx="473.9" cy="297.5" rx="6.1" ry="3.6" fill="#c4cbd4"/><ellipse cx="473.6" cy="296.8" rx="5" ry="2.4" fill="#e2e5e9"/><ellipse cx="658.2" cy="297.9" rx="6.3" ry="3.7" fill="#c4cbd4"/><ellipse cx="657.9" cy="297.2" rx="5.2" ry="2.4" fill="#e2e5e9"/><ellipse cx="493" cy="297.9" rx="6.1" ry="3.6" fill="#c4cbd4"/><ellipse cx="492.7" cy="297.3" rx="5" ry="2.4" fill="#e2e5e9"/><ellipse cx="678" cy="298.4" rx="6.3" ry="3.7" fill="#c4cbd4"/><ellipse cx="677.7" cy="297.7" rx="5.2" ry="2.4" fill="#e2e5e9"/><ellipse cx="512.2" cy="298.4" rx="6.2" ry="3.7" fill="#c4cbd4"/><ellipse cx="511.9" cy="297.8" rx="5" ry="2.4" fill="#e2e5e9"/><ellipse cx="697.8" cy="298.8" rx="6.4" ry="3.7" fill="#c4cbd4"/><ellipse cx="697.5" cy="298.2" rx="5.2" ry="2.4" fill="#e2e5e9"/><ellipse cx="531.5" cy="298.9" rx="6.2" ry="3.7" fill="#c4cbd4"/><ellipse cx="531.2" cy="298.2" rx="5.1" ry="2.4" fill="#e2e5e9"/><ellipse cx="717.8" cy="299.3" rx="6.4" ry="3.7" fill="#c4cbd4"/><ellipse cx="717.4" cy="298.7" rx="5.2" ry="2.5" fill="#e2e5e9"/><ellipse cx="550.9" cy="299.4" rx="6.2" ry="3.7" fill="#c4cbd4"/><ellipse cx="550.6" cy="298.7" rx="5.1" ry="2.4" fill="#e2e5e9"/><ellipse cx="737.8" cy="299.8" rx="6.4" ry="3.7" fill="#c4cbd4"/><ellipse cx="737.5" cy="299.1" rx="5.3" ry="2.5" fill="#e2e5e9"/><ellipse cx="570.3" cy="299.8" rx="6.2" ry="3.7" fill="#c4cbd4"/><ellipse cx="570" cy="299.2" rx="5.1" ry="2.4" fill="#e2e5e9"/><ellipse cx="757.9" cy="300.3" rx="6.5" ry="3.7" fill="#c4cbd4"/><ellipse cx="757.6" cy="299.6" rx="5.3" ry="2.5" fill="#e2e5e9"/><ellipse cx="589.9" cy="300.3" rx="6.3" ry="3.7" fill="#c4cbd4"/><ellipse cx="589.6" cy="299.7" rx="5.1" ry="2.4" fill="#e2e5e9"/><ellipse cx="425.4" cy="300.4" rx="6.1" ry="3.7" fill="#5aa6dd"/><ellipse cx="425.1" cy="299.7" rx="5" ry="2.4" fill="#82c2ec"/><ellipse cx="778.1" cy="300.8" rx="6.5" ry="3.8" fill="#c4cbd4"/><ellipse cx="777.8" cy="300.1" rx="5.3" ry="2.5" fill="#e2e5e9"/><ellipse cx="609.5" cy="300.8" rx="6.3" ry="3.7" fill="#c4cbd4"/><ellipse cx="609.2" cy="300.1" rx="5.2" ry="2.5" fill="#e2e5e9"/><ellipse cx="444.4" cy="300.8" rx="6.1" ry="3.7" fill="#c4cbd4"/><ellipse cx="444.1" cy="300.2" rx="5" ry="2.4" fill="#e2e5e9"/><ellipse cx="798.4" cy="301.3" rx="6.5" ry="3.8" fill="#5aa6dd"/><ellipse cx="798.1" cy="300.6" rx="5.3" ry="2.5" fill="#82c2ec"/><ellipse cx="629.2" cy="301.3" rx="6.3" ry="3.7" fill="#c4cbd4"/><ellipse cx="628.9" cy="300.6" rx="5.2" ry="2.5" fill="#e2e5e9"/><ellipse cx="463.6" cy="301.3" rx="6.1" ry="3.7" fill="#c4cbd4"/><ellipse cx="463.3" cy="300.6" rx="5" ry="2.4" fill="#e2e5e9"/><ellipse cx="818.8" cy="301.8" rx="6.5" ry="3.8" fill="#5aa6dd"/><ellipse cx="818.4" cy="301.1" rx="5.4" ry="2.5" fill="#82c2ec"/><ellipse cx="649" cy="301.8" rx="6.3" ry="3.7" fill="#c4cbd4"/><ellipse cx="648.7" cy="301.1" rx="5.2" ry="2.5" fill="#e2e5e9"/><ellipse cx="482.8" cy="301.8" rx="6.2" ry="3.7" fill="#c4cbd4"/><ellipse cx="482.5" cy="301.1" rx="5.1" ry="2.4" fill="#e2e5e9"/><ellipse cx="668.9" cy="302.3" rx="6.4" ry="3.8" fill="#c4cbd4"/><ellipse cx="668.6" cy="301.6" rx="5.2" ry="2.5" fill="#e2e5e9"/><ellipse cx="502.1" cy="302.3" rx="6.2" ry="3.7" fill="#c4cbd4"/><ellipse cx="501.8" cy="301.6" rx="5.1" ry="2.4" fill="#e2e5e9"/><ellipse cx="688.9" cy="302.7" rx="6.4" ry="3.8" fill="#c4cbd4"/><ellipse cx="688.5" cy="302.1" rx="5.3" ry="2.5" fill="#e2e5e9"/><ellipse cx="521.5" cy="302.8" rx="6.2" ry="3.7" fill="#c4cbd4"/><ellipse cx="521.2" cy="302.1" rx="5.1" ry="2.5" fill="#e2e5e9"/><ellipse cx="708.9" cy="303.2" rx="6.4" ry="3.8" fill="#c4cbd4"/><ellipse cx="708.6" cy="302.6" rx="5.3" ry="2.5" fill="#e2e5e9"/><ellipse cx="541" cy="303.2" rx="6.2" ry="3.7" fill="#c4cbd4"/><ellipse cx="540.7" cy="302.6" rx="5.1" ry="2.5" fill="#e2e5e9"/><ellipse cx="560.6" cy="303.7" rx="6.3" ry="3.7" fill="#c4cbd4"/><ellipse cx="560.2" cy="303.1" rx="5.1" ry="2.5" fill="#e2e5e9"/><ellipse cx="729.1" cy="303.7" rx="6.5" ry="3.8" fill="#c4cbd4"/><ellipse cx="728.7" cy="303.1" rx="5.3" ry="2.5" fill="#e2e5e9"/><ellipse cx="580.2" cy="304.2" rx="6.3" ry="3.8" fill="#c4cbd4"/><ellipse cx="579.9" cy="303.5" rx="5.2" ry="2.5" fill="#e2e5e9"/><ellipse cx="749.3" cy="304.2" rx="6.5" ry="3.8" fill="#c4cbd4"/><ellipse cx="749" cy="303.5" rx="5.3" ry="2.5" fill="#e2e5e9"/><ellipse cx="433.8" cy="304.7" rx="6.1" ry="3.7" fill="#5aa6dd"/><ellipse cx="433.5" cy="304" rx="5" ry="2.5" fill="#82c2ec"/><ellipse cx="599.9" cy="304.7" rx="6.3" ry="3.8" fill="#c4cbd4"/><ellipse cx="599.6" cy="304" rx="5.2" ry="2.5" fill="#e2e5e9"/><ellipse cx="769.6" cy="304.7" rx="6.5" ry="3.8" fill="#c4cbd4"/><ellipse cx="769.3" cy="304" rx="5.3" ry="2.5" fill="#e2e5e9"/><ellipse cx="453.1" cy="305.2" rx="6.2" ry="3.7" fill="#c4cbd4"/><ellipse cx="452.8" cy="304.5" rx="5.1" ry="2.5" fill="#e2e5e9"/><ellipse cx="619.8" cy="305.2" rx="6.4" ry="3.8" fill="#c4cbd4"/><ellipse cx="619.4" cy="304.5" rx="5.2" ry="2.5" fill="#e2e5e9"/><ellipse cx="790" cy="305.2" rx="6.5" ry="3.8" fill="#c4cbd4"/><ellipse cx="789.7" cy="304.5" rx="5.4" ry="2.5" fill="#e2e5e9"/><ellipse cx="472.4" cy="305.7" rx="6.2" ry="3.8" fill="#c4cbd4"/><ellipse cx="472.1" cy="305" rx="5.1" ry="2.5" fill="#e2e5e9"/><ellipse cx="639.7" cy="305.7" rx="6.4" ry="3.8" fill="#c4cbd4"/><ellipse cx="639.4" cy="305" rx="5.2" ry="2.5" fill="#e2e5e9"/><ellipse cx="810.5" cy="305.7" rx="6.6" ry="3.8" fill="#5aa6dd"/><ellipse cx="810.2" cy="305" rx="5.4" ry="2.5" fill="#82c2ec"/><ellipse cx="491.9" cy="306.2" rx="6.2" ry="3.8" fill="#c4cbd4"/><ellipse cx="491.5" cy="305.5" rx="5.1" ry="2.5" fill="#e2e5e9"/><ellipse cx="659.7" cy="306.2" rx="6.4" ry="3.8" fill="#c4cbd4"/><ellipse cx="659.4" cy="305.5" rx="5.3" ry="2.5" fill="#e2e5e9"/><ellipse cx="511.4" cy="306.7" rx="6.3" ry="3.8" fill="#c4cbd4"/><ellipse cx="511" cy="306" rx="5.1" ry="2.5" fill="#e2e5e9"/><ellipse cx="679.8" cy="306.7" rx="6.4" ry="3.8" fill="#c4cbd4"/><ellipse cx="679.4" cy="306" rx="5.3" ry="2.5" fill="#e2e5e9"/><ellipse cx="531" cy="307.2" rx="6.3" ry="3.8" fill="#c4cbd4"/><ellipse cx="530.6" cy="306.5" rx="5.2" ry="2.5" fill="#e2e5e9"/><ellipse cx="699.9" cy="307.2" rx="6.5" ry="3.8" fill="#c4cbd4"/><ellipse cx="699.6" cy="306.5" rx="5.3" ry="2.5" fill="#e2e5e9"/><ellipse cx="550.6" cy="307.7" rx="6.3" ry="3.8" fill="#c4cbd4"/><ellipse cx="550.3" cy="307" rx="5.2" ry="2.5" fill="#e2e5e9"/><ellipse cx="720.2" cy="307.7" rx="6.5" ry="3.8" fill="#c4cbd4"/><ellipse cx="719.9" cy="307" rx="5.3" ry="2.5" fill="#e2e5e9"/><ellipse cx="570.4" cy="308.2" rx="6.3" ry="3.8" fill="#c4cbd4"/><ellipse cx="570.1" cy="307.5" rx="5.2" ry="2.5" fill="#e2e5e9"/><ellipse cx="740.6" cy="308.2" rx="6.5" ry="3.9" fill="#c4cbd4"/><ellipse cx="740.2" cy="307.5" rx="5.4" ry="2.5" fill="#e2e5e9"/><ellipse cx="590.2" cy="308.7" rx="6.4" ry="3.8" fill="#c4cbd4"/><ellipse cx="589.9" cy="308" rx="5.2" ry="2.5" fill="#e2e5e9"/><ellipse cx="761" cy="308.7" rx="6.6" ry="3.9" fill="#c4cbd4"/><ellipse cx="760.7" cy="308" rx="5.4" ry="2.6" fill="#e2e5e9"/><ellipse cx="442.5" cy="309.1" rx="6.2" ry="3.8" fill="#5aa6dd"/><ellipse cx="442.2" cy="308.4" rx="5.1" ry="2.5" fill="#82c2ec"/><ellipse cx="610.2" cy="309.2" rx="6.4" ry="3.8" fill="#c4cbd4"/><ellipse cx="609.9" cy="308.5" rx="5.2" ry="2.5" fill="#e2e5e9"/><ellipse cx="781.6" cy="309.3" rx="6.6" ry="3.9" fill="#c4cbd4"/><ellipse cx="781.2" cy="308.6" rx="5.4" ry="2.6" fill="#e2e5e9"/><ellipse cx="461.9" cy="309.6" rx="6.2" ry="3.8" fill="#c4cbd4"/><ellipse cx="461.6" cy="309" rx="5.1" ry="2.5" fill="#e2e5e9"/><ellipse cx="630.2" cy="309.7" rx="6.4" ry="3.8" fill="#c4cbd4"/><ellipse cx="629.9" cy="309" rx="5.3" ry="2.5" fill="#e2e5e9"/><ellipse cx="802.2" cy="309.8" rx="6.6" ry="3.9" fill="#5aa6dd"/><ellipse cx="801.9" cy="309.1" rx="5.4" ry="2.6" fill="#82c2ec"/><ellipse cx="481.4" cy="310.1" rx="6.3" ry="3.8" fill="#c4cbd4"/><ellipse cx="481.1" cy="309.5" rx="5.1" ry="2.5" fill="#e2e5e9"/><ellipse cx="650.3" cy="310.2" rx="6.5" ry="3.9" fill="#c4cbd4"/><ellipse cx="650" cy="309.5" rx="5.3" ry="2.5" fill="#e2e5e9"/><ellipse cx="501.1" cy="310.7" rx="6.3" ry="3.8" fill="#c4cbd4"/><ellipse cx="500.7" cy="310" rx="5.2" ry="2.5" fill="#e2e5e9"/><ellipse cx="670.5" cy="310.7" rx="6.5" ry="3.9" fill="#c4cbd4"/><ellipse cx="670.2" cy="310" rx="5.3" ry="2.6" fill="#e2e5e9"/><ellipse cx="520.8" cy="311.2" rx="6.3" ry="3.8" fill="#c4cbd4"/><ellipse cx="520.5" cy="310.5" rx="5.2" ry="2.5" fill="#e2e5e9"/><ellipse cx="690.8" cy="311.2" rx="6.5" ry="3.9" fill="#c4cbd4"/><ellipse cx="690.5" cy="310.5" rx="5.3" ry="2.6" fill="#e2e5e9"/><ellipse cx="540.6" cy="311.7" rx="6.3" ry="3.9" fill="#c4cbd4"/><ellipse cx="540.2" cy="311" rx="5.2" ry="2.5" fill="#e2e5e9"/><ellipse cx="711.2" cy="311.8" rx="6.5" ry="3.9" fill="#c4cbd4"/><ellipse cx="710.9" cy="311.1" rx="5.4" ry="2.6" fill="#e2e5e9"/><ellipse cx="560.4" cy="312.2" rx="6.4" ry="3.9" fill="#c4cbd4"/><ellipse cx="560.1" cy="311.5" rx="5.2" ry="2.6" fill="#e2e5e9"/><ellipse cx="731.7" cy="312.3" rx="6.6" ry="3.9" fill="#c4cbd4"/><ellipse cx="731.4" cy="311.6" rx="5.4" ry="2.6" fill="#e2e5e9"/><ellipse cx="580.4" cy="312.7" rx="6.4" ry="3.9" fill="#c4cbd4"/><ellipse cx="580.1" cy="312" rx="5.3" ry="2.6" fill="#e2e5e9"/><ellipse cx="752.3" cy="312.8" rx="6.6" ry="3.9" fill="#c4cbd4"/><ellipse cx="752" cy="312.1" rx="5.4" ry="2.6" fill="#e2e5e9"/><ellipse cx="600.5" cy="313.2" rx="6.4" ry="3.9" fill="#c4cbd4"/><ellipse cx="600.2" cy="312.5" rx="5.3" ry="2.6" fill="#e2e5e9"/><ellipse cx="773" cy="313.3" rx="6.6" ry="3.9" fill="#c4cbd4"/><ellipse cx="772.6" cy="312.6" rx="5.4" ry="2.6" fill="#e2e5e9"/><ellipse cx="451.2" cy="313.6" rx="6.3" ry="3.9" fill="#5aa6dd"/><ellipse cx="450.9" cy="312.9" rx="5.1" ry="2.5" fill="#82c2ec"/><ellipse cx="620.6" cy="313.8" rx="6.5" ry="3.9" fill="#c4cbd4"/><ellipse cx="620.3" cy="313" rx="5.3" ry="2.6" fill="#e2e5e9"/><ellipse cx="793.7" cy="313.9" rx="6.7" ry="4" fill="#5aa6dd"/><ellipse cx="793.4" cy="313.2" rx="5.5" ry="2.6" fill="#82c2ec"/><ellipse cx="470.9" cy="314.2" rx="6.3" ry="3.9" fill="#c4cbd4"/><ellipse cx="470.6" cy="313.5" rx="5.2" ry="2.6" fill="#e2e5e9"/><ellipse cx="640.9" cy="314.3" rx="6.5" ry="3.9" fill="#c4cbd4"/><ellipse cx="640.5" cy="313.6" rx="5.3" ry="2.6" fill="#e2e5e9"/><ellipse cx="490.6" cy="314.7" rx="6.3" ry="3.9" fill="#c4cbd4"/><ellipse cx="490.3" cy="314" rx="5.2" ry="2.6" fill="#e2e5e9"/><ellipse cx="661.2" cy="314.8" rx="6.5" ry="3.9" fill="#c4cbd4"/><ellipse cx="660.9" cy="314.1" rx="5.3" ry="2.6" fill="#e2e5e9"/><ellipse cx="510.4" cy="315.2" rx="6.4" ry="3.9" fill="#c4cbd4"/><ellipse cx="510.1" cy="314.5" rx="5.2" ry="2.6" fill="#e2e5e9"/><ellipse cx="681.6" cy="315.3" rx="6.6" ry="3.9" fill="#c4cbd4"/><ellipse cx="681.3" cy="314.6" rx="5.4" ry="2.6" fill="#e2e5e9"/><ellipse cx="530.4" cy="315.7" rx="6.4" ry="3.9" fill="#c4cbd4"/><ellipse cx="530" cy="315" rx="5.2" ry="2.6" fill="#e2e5e9"/><ellipse cx="702.1" cy="315.9" rx="6.6" ry="4" fill="#c4cbd4"/><ellipse cx="701.8" cy="315.2" rx="5.4" ry="2.6" fill="#e2e5e9"/><ellipse cx="550.4" cy="316.3" rx="6.4" ry="3.9" fill="#c4cbd4"/><ellipse cx="550" cy="315.6" rx="5.3" ry="2.6" fill="#e2e5e9"/><ellipse cx="722.7" cy="316.4" rx="6.6" ry="4" fill="#c4cbd4"/><ellipse cx="722.4" cy="315.7" rx="5.4" ry="2.6" fill="#e2e5e9"/><ellipse cx="570.4" cy="316.8" rx="6.4" ry="3.9" fill="#c4cbd4"/><ellipse cx="570.1" cy="316.1" rx="5.3" ry="2.6" fill="#e2e5e9"/><ellipse cx="743.5" cy="316.9" rx="6.6" ry="4" fill="#c4cbd4"/><ellipse cx="743.1" cy="316.2" rx="5.4" ry="2.6" fill="#e2e5e9"/><ellipse cx="590.6" cy="317.3" rx="6.5" ry="4" fill="#c4cbd4"/><ellipse cx="590.3" cy="316.6" rx="5.3" ry="2.6" fill="#e2e5e9"/><ellipse cx="764.3" cy="317.5" rx="6.7" ry="4" fill="#c4cbd4"/><ellipse cx="763.9" cy="316.8" rx="5.5" ry="2.6" fill="#e2e5e9"/><ellipse cx="610.9" cy="317.9" rx="6.5" ry="4" fill="#c4cbd4"/><ellipse cx="610.6" cy="317.1" rx="5.3" ry="2.6" fill="#e2e5e9"/><ellipse cx="785.1" cy="318" rx="6.7" ry="4" fill="#5aa6dd"/><ellipse cx="784.8" cy="317.3" rx="5.5" ry="2.6" fill="#82c2ec"/><ellipse cx="460.2" cy="318.2" rx="6.3" ry="3.9" fill="#5aa6dd"/><ellipse cx="459.9" cy="317.5" rx="5.2" ry="2.6" fill="#82c2ec"/><ellipse cx="631.3" cy="318.4" rx="6.5" ry="4" fill="#c4cbd4"/><ellipse cx="630.9" cy="317.7" rx="5.4" ry="2.6" fill="#e2e5e9"/><ellipse cx="480" cy="318.8" rx="6.4" ry="3.9" fill="#c4cbd4"/><ellipse cx="479.7" cy="318.1" rx="5.2" ry="2.6" fill="#e2e5e9"/><ellipse cx="651.7" cy="318.9" rx="6.6" ry="4" fill="#c4cbd4"/><ellipse cx="651.4" cy="318.2" rx="5.4" ry="2.6" fill="#e2e5e9"/><ellipse cx="500" cy="319.3" rx="6.4" ry="4" fill="#c4cbd4"/><ellipse cx="499.6" cy="318.6" rx="5.2" ry="2.6" fill="#e2e5e9"/><ellipse cx="672.3" cy="319.5" rx="6.6" ry="4" fill="#c4cbd4"/><ellipse cx="671.9" cy="318.8" rx="5.4" ry="2.6" fill="#e2e5e9"/><ellipse cx="520" cy="319.8" rx="6.4" ry="4" fill="#c4cbd4"/><ellipse cx="519.7" cy="319.1" rx="5.3" ry="2.6" fill="#e2e5e9"/><ellipse cx="692.9" cy="320" rx="6.6" ry="4" fill="#c4cbd4"/><ellipse cx="692.6" cy="319.3" rx="5.4" ry="2.7" fill="#e2e5e9"/><ellipse cx="540.1" cy="320.4" rx="6.5" ry="4" fill="#c4cbd4"/><ellipse cx="539.8" cy="319.7" rx="5.3" ry="2.6" fill="#e2e5e9"/><ellipse cx="713.6" cy="320.6" rx="6.7" ry="4" fill="#c4cbd4"/><ellipse cx="713.3" cy="319.8" rx="5.5" ry="2.7" fill="#e2e5e9"/><ellipse cx="560.3" cy="320.9" rx="6.5" ry="4" fill="#c4cbd4"/><ellipse cx="560" cy="320.2" rx="5.3" ry="2.6" fill="#e2e5e9"/><ellipse cx="734.5" cy="321.1" rx="6.7" ry="4" fill="#c4cbd4"/><ellipse cx="734.1" cy="320.4" rx="5.5" ry="2.7" fill="#e2e5e9"/><ellipse cx="580.6" cy="321.5" rx="6.5" ry="4" fill="#c4cbd4"/><ellipse cx="580.3" cy="320.8" rx="5.3" ry="2.6" fill="#e2e5e9"/><ellipse cx="755.4" cy="321.7" rx="6.7" ry="4.1" fill="#c4cbd4"/><ellipse cx="755.1" cy="320.9" rx="5.5" ry="2.7" fill="#e2e5e9"/><ellipse cx="601" cy="322" rx="6.5" ry="4" fill="#c4cbd4"/><ellipse cx="600.7" cy="321.3" rx="5.4" ry="2.7" fill="#e2e5e9"/><ellipse cx="776.4" cy="322.2" rx="6.7" ry="4.1" fill="#5aa6dd"/><ellipse cx="776.1" cy="321.5" rx="5.5" ry="2.7" fill="#82c2ec"/><ellipse cx="621.5" cy="322.6" rx="6.6" ry="4" fill="#c4cbd4"/><ellipse cx="621.2" cy="321.9" rx="5.4" ry="2.7" fill="#e2e5e9"/><ellipse cx="469.3" cy="322.9" rx="6.4" ry="4" fill="#5aa6dd"/><ellipse cx="469" cy="322.2" rx="5.3" ry="2.6" fill="#82c2ec"/><ellipse cx="642.1" cy="323.1" rx="6.6" ry="4.1" fill="#c4cbd4"/><ellipse cx="641.8" cy="322.4" rx="5.4" ry="2.7" fill="#e2e5e9"/><ellipse cx="489.3" cy="323.5" rx="6.4" ry="4" fill="#c4cbd4"/><ellipse cx="489" cy="322.7" rx="5.3" ry="2.7" fill="#e2e5e9"/><ellipse cx="662.8" cy="323.7" rx="6.6" ry="4.1" fill="#c4cbd4"/><ellipse cx="662.4" cy="323" rx="5.4" ry="2.7" fill="#e2e5e9"/><ellipse cx="509.5" cy="324" rx="6.5" ry="4" fill="#c4cbd4"/><ellipse cx="509.2" cy="323.3" rx="5.3" ry="2.7" fill="#e2e5e9"/><ellipse cx="683.5" cy="324.2" rx="6.7" ry="4.1" fill="#c4cbd4"/><ellipse cx="683.2" cy="323.5" rx="5.5" ry="2.7" fill="#e2e5e9"/><ellipse cx="529.7" cy="324.6" rx="6.5" ry="4" fill="#c4cbd4"/><ellipse cx="529.4" cy="323.8" rx="5.3" ry="2.7" fill="#e2e5e9"/><ellipse cx="704.4" cy="324.8" rx="6.7" ry="4.1" fill="#c4cbd4"/><ellipse cx="704.1" cy="324.1" rx="5.5" ry="2.7" fill="#e2e5e9"/><ellipse cx="550.1" cy="325.1" rx="6.5" ry="4.1" fill="#c4cbd4"/><ellipse cx="549.7" cy="324.4" rx="5.3" ry="2.7" fill="#e2e5e9"/><ellipse cx="725.4" cy="325.4" rx="6.7" ry="4.1" fill="#c4cbd4"/><ellipse cx="725" cy="324.6" rx="5.5" ry="2.7" fill="#e2e5e9"/><ellipse cx="570.5" cy="325.7" rx="6.6" ry="4.1" fill="#c4cbd4"/><ellipse cx="570.2" cy="325" rx="5.4" ry="2.7" fill="#e2e5e9"/><ellipse cx="746.4" cy="325.9" rx="6.8" ry="4.1" fill="#c4cbd4"/><ellipse cx="746.1" cy="325.2" rx="5.5" ry="2.7" fill="#e2e5e9"/><ellipse cx="591" cy="326.3" rx="6.6" ry="4.1" fill="#c4cbd4"/><ellipse cx="590.7" cy="325.5" rx="5.4" ry="2.7" fill="#e2e5e9"/><ellipse cx="767.6" cy="326.5" rx="6.8" ry="4.1" fill="#5aa6dd"/><ellipse cx="767.3" cy="325.8" rx="5.6" ry="2.7" fill="#82c2ec"/><ellipse cx="611.6" cy="326.8" rx="6.6" ry="4.1" fill="#c4cbd4"/><ellipse cx="611.3" cy="326.1" rx="5.4" ry="2.7" fill="#e2e5e9"/><ellipse cx="632.3" cy="327.4" rx="6.6" ry="4.1" fill="#c4cbd4"/><ellipse cx="632" cy="326.6" rx="5.4" ry="2.7" fill="#e2e5e9"/><ellipse cx="478.6" cy="327.7" rx="6.5" ry="4.1" fill="#5aa6dd"/><ellipse cx="478.2" cy="327" rx="5.3" ry="2.7" fill="#82c2ec"/><ellipse cx="653.1" cy="328" rx="6.7" ry="4.1" fill="#c4cbd4"/><ellipse cx="652.8" cy="327.2" rx="5.5" ry="2.7" fill="#e2e5e9"/><ellipse cx="498.8" cy="328.3" rx="6.5" ry="4.1" fill="#c4cbd4"/><ellipse cx="498.5" cy="327.5" rx="5.3" ry="2.7" fill="#e2e5e9"/><ellipse cx="674" cy="328.5" rx="6.7" ry="4.1" fill="#c4cbd4"/><ellipse cx="673.7" cy="327.8" rx="5.5" ry="2.7" fill="#e2e5e9"/><ellipse cx="519.2" cy="328.8" rx="6.5" ry="4.1" fill="#c4cbd4"/><ellipse cx="518.9" cy="328.1" rx="5.4" ry="2.7" fill="#e2e5e9"/><ellipse cx="695" cy="329.1" rx="6.7" ry="4.2" fill="#c4cbd4"/><ellipse cx="694.7" cy="328.4" rx="5.5" ry="2.7" fill="#e2e5e9"/><ellipse cx="539.7" cy="329.4" rx="6.6" ry="4.1" fill="#c4cbd4"/><ellipse cx="539.3" cy="328.6" rx="5.4" ry="2.7" fill="#e2e5e9"/><ellipse cx="716.1" cy="329.7" rx="6.8" ry="4.2" fill="#c4cbd4"/><ellipse cx="715.8" cy="328.9" rx="5.5" ry="2.8" fill="#e2e5e9"/><ellipse cx="560.2" cy="330" rx="6.6" ry="4.1" fill="#c4cbd4"/><ellipse cx="559.9" cy="329.2" rx="5.4" ry="2.7" fill="#e2e5e9"/><ellipse cx="737.3" cy="330.3" rx="6.8" ry="4.2" fill="#c4cbd4"/><ellipse cx="737" cy="329.5" rx="5.6" ry="2.8" fill="#e2e5e9"/><ellipse cx="580.9" cy="330.5" rx="6.6" ry="4.1" fill="#c4cbd4"/><ellipse cx="580.5" cy="329.8" rx="5.4" ry="2.7" fill="#e2e5e9"/><ellipse cx="758.6" cy="330.8" rx="6.8" ry="4.2" fill="#5aa6dd"/><ellipse cx="758.3" cy="330.1" rx="5.6" ry="2.8" fill="#82c2ec"/><ellipse cx="601.6" cy="331.1" rx="6.7" ry="4.2" fill="#c4cbd4"/><ellipse cx="601.3" cy="330.4" rx="5.5" ry="2.7" fill="#e2e5e9"/><ellipse cx="622.4" cy="331.7" rx="6.7" ry="4.2" fill="#c4cbd4"/><ellipse cx="622.1" cy="331" rx="5.5" ry="2.8" fill="#e2e5e9"/><ellipse cx="643.4" cy="332.3" rx="6.7" ry="4.2" fill="#c4cbd4"/><ellipse cx="643" cy="331.5" rx="5.5" ry="2.8" fill="#e2e5e9"/><ellipse cx="488" cy="332.5" rx="6.5" ry="4.2" fill="#5aa6dd"/><ellipse cx="487.7" cy="331.8" rx="5.4" ry="2.7" fill="#82c2ec"/><ellipse cx="664.4" cy="332.9" rx="6.7" ry="4.2" fill="#c4cbd4"/><ellipse cx="664.1" cy="332.1" rx="5.5" ry="2.8" fill="#e2e5e9"/><ellipse cx="508.5" cy="333.1" rx="6.6" ry="4.2" fill="#c4cbd4"/><ellipse cx="508.2" cy="332.4" rx="5.4" ry="2.8" fill="#e2e5e9"/><ellipse cx="685.5" cy="333.5" rx="6.8" ry="4.2" fill="#c4cbd4"/><ellipse cx="685.2" cy="332.7" rx="5.6" ry="2.8" fill="#e2e5e9"/><ellipse cx="529.1" cy="333.7" rx="6.6" ry="4.2" fill="#c4cbd4"/><ellipse cx="528.8" cy="333" rx="5.4" ry="2.8" fill="#e2e5e9"/><ellipse cx="706.8" cy="334.1" rx="6.8" ry="4.2" fill="#c4cbd4"/><ellipse cx="706.4" cy="333.3" rx="5.6" ry="2.8" fill="#e2e5e9"/><ellipse cx="549.8" cy="334.3" rx="6.6" ry="4.2" fill="#c4cbd4"/><ellipse cx="549.4" cy="333.5" rx="5.4" ry="2.8" fill="#e2e5e9"/><ellipse cx="728.1" cy="334.7" rx="6.8" ry="4.2" fill="#c4cbd4"/><ellipse cx="727.7" cy="333.9" rx="5.6" ry="2.8" fill="#e2e5e9"/><ellipse cx="570.5" cy="334.9" rx="6.7" ry="4.2" fill="#c4cbd4"/><ellipse cx="570.2" cy="334.1" rx="5.5" ry="2.8" fill="#e2e5e9"/><ellipse cx="749.5" cy="335.3" rx="6.9" ry="4.3" fill="#5aa6dd"/><ellipse cx="749.2" cy="334.5" rx="5.6" ry="2.8" fill="#82c2ec"/><ellipse cx="591.4" cy="335.5" rx="6.7" ry="4.2" fill="#c4cbd4"/><ellipse cx="591.1" cy="334.7" rx="5.5" ry="2.8" fill="#e2e5e9"/><ellipse cx="612.4" cy="336.1" rx="6.7" ry="4.2" fill="#c4cbd4"/><ellipse cx="612" cy="335.3" rx="5.5" ry="2.8" fill="#e2e5e9"/><ellipse cx="633.4" cy="336.7" rx="6.8" ry="4.3" fill="#c4cbd4"/><ellipse cx="633.1" cy="335.9" rx="5.5" ry="2.8" fill="#e2e5e9"/><ellipse cx="654.6" cy="337.3" rx="6.8" ry="4.3" fill="#c4cbd4"/><ellipse cx="654.3" cy="336.5" rx="5.6" ry="2.8" fill="#e2e5e9"/><ellipse cx="497.7" cy="337.5" rx="6.6" ry="4.2" fill="#5aa6dd"/><ellipse cx="497.3" cy="336.7" rx="5.4" ry="2.8" fill="#82c2ec"/><ellipse cx="675.9" cy="337.9" rx="6.8" ry="4.3" fill="#c4cbd4"/><ellipse cx="675.5" cy="337.1" rx="5.6" ry="2.8" fill="#e2e5e9"/><ellipse cx="518.4" cy="338.1" rx="6.6" ry="4.2" fill="#c4cbd4"/><ellipse cx="518" cy="337.3" rx="5.4" ry="2.8" fill="#e2e5e9"/><ellipse cx="697.2" cy="338.5" rx="6.9" ry="4.3" fill="#c4cbd4"/><ellipse cx="696.9" cy="337.7" rx="5.6" ry="2.8" fill="#e2e5e9"/><ellipse cx="539.2" cy="338.7" rx="6.7" ry="4.3" fill="#c4cbd4"/><ellipse cx="538.8" cy="337.9" rx="5.5" ry="2.8" fill="#e2e5e9"/><ellipse cx="718.7" cy="339.1" rx="6.9" ry="4.3" fill="#c4cbd4"/><ellipse cx="718.4" cy="338.3" rx="5.6" ry="2.8" fill="#e2e5e9"/><ellipse cx="560.1" cy="339.3" rx="6.7" ry="4.3" fill="#c4cbd4"/><ellipse cx="559.7" cy="338.5" rx="5.5" ry="2.8" fill="#e2e5e9"/><ellipse cx="740.3" cy="339.7" rx="6.9" ry="4.3" fill="#5aa6dd"/><ellipse cx="739.9" cy="338.9" rx="5.7" ry="2.9" fill="#82c2ec"/><ellipse cx="581.1" cy="339.9" rx="6.7" ry="4.3" fill="#c4cbd4"/><ellipse cx="580.7" cy="339.1" rx="5.5" ry="2.8" fill="#e2e5e9"/><ellipse cx="602.2" cy="340.5" rx="6.8" ry="4.3" fill="#c4cbd4"/><ellipse cx="601.8" cy="339.8" rx="5.5" ry="2.8" fill="#e2e5e9"/><ellipse cx="623.4" cy="341.1" rx="6.8" ry="4.3" fill="#c4cbd4"/><ellipse cx="623" cy="340.4" rx="5.6" ry="2.9" fill="#e2e5e9"/><ellipse cx="644.7" cy="341.8" rx="6.8" ry="4.3" fill="#c4cbd4"/><ellipse cx="644.3" cy="341" rx="5.6" ry="2.9" fill="#e2e5e9"/><ellipse cx="666.1" cy="342.4" rx="6.9" ry="4.4" fill="#c4cbd4"/><ellipse cx="665.7" cy="341.6" rx="5.6" ry="2.9" fill="#e2e5e9"/><ellipse cx="507.5" cy="342.6" rx="6.7" ry="4.3" fill="#5aa6dd"/><ellipse cx="507.2" cy="341.8" rx="5.5" ry="2.8" fill="#82c2ec"/><ellipse cx="687.6" cy="343" rx="6.9" ry="4.4" fill="#c4cbd4"/><ellipse cx="687.2" cy="342.2" rx="5.7" ry="2.9" fill="#e2e5e9"/><ellipse cx="528.4" cy="343.2" rx="6.7" ry="4.3" fill="#c4cbd4"/><ellipse cx="528.1" cy="342.4" rx="5.5" ry="2.9" fill="#e2e5e9"/><ellipse cx="709.2" cy="343.6" rx="6.9" ry="4.4" fill="#c4cbd4"/><ellipse cx="708.8" cy="342.8" rx="5.7" ry="2.9" fill="#e2e5e9"/><ellipse cx="549.5" cy="343.8" rx="6.7" ry="4.3" fill="#c4cbd4"/><ellipse cx="549.1" cy="343" rx="5.5" ry="2.9" fill="#e2e5e9"/><ellipse cx="730.9" cy="344.3" rx="7" ry="4.4" fill="#5aa6dd"/><ellipse cx="730.5" cy="343.5" rx="5.7" ry="2.9" fill="#82c2ec"/><ellipse cx="570.6" cy="344.4" rx="6.8" ry="4.4" fill="#c4cbd4"/><ellipse cx="570.3" cy="343.6" rx="5.6" ry="2.9" fill="#e2e5e9"/><ellipse cx="591.8" cy="345" rx="6.8" ry="4.4" fill="#c4cbd4"/><ellipse cx="591.5" cy="344.3" rx="5.6" ry="2.9" fill="#e2e5e9"/><ellipse cx="613.2" cy="345.7" rx="6.8" ry="4.4" fill="#c4cbd4"/><ellipse cx="612.8" cy="344.9" rx="5.6" ry="2.9" fill="#e2e5e9"/><ellipse cx="634.6" cy="346.3" rx="6.9" ry="4.4" fill="#c4cbd4"/><ellipse cx="634.3" cy="345.5" rx="5.6" ry="2.9" fill="#e2e5e9"/><ellipse cx="656.1" cy="346.9" rx="6.9" ry="4.4" fill="#c4cbd4"/><ellipse cx="655.8" cy="346.1" rx="5.7" ry="2.9" fill="#e2e5e9"/><ellipse cx="677.8" cy="347.6" rx="6.9" ry="4.4" fill="#c4cbd4"/><ellipse cx="677.4" cy="346.8" rx="5.7" ry="2.9" fill="#e2e5e9"/><ellipse cx="517.5" cy="347.7" rx="6.8" ry="4.4" fill="#5aa6dd"/><ellipse cx="517.2" cy="346.9" rx="5.5" ry="2.9" fill="#82c2ec"/><ellipse cx="699.5" cy="348.2" rx="7" ry="4.5" fill="#c4cbd4"/><ellipse cx="699.2" cy="347.4" rx="5.7" ry="2.9" fill="#e2e5e9"/><ellipse cx="538.7" cy="348.3" rx="6.8" ry="4.4" fill="#c4cbd4"/><ellipse cx="538.3" cy="347.5" rx="5.6" ry="2.9" fill="#e2e5e9"/><ellipse cx="721.4" cy="348.9" rx="7" ry="4.5" fill="#5aa6dd"/><ellipse cx="721" cy="348.1" rx="5.7" ry="2.9" fill="#82c2ec"/><ellipse cx="560" cy="349" rx="6.8" ry="4.4" fill="#c4cbd4"/><ellipse cx="559.6" cy="348.2" rx="5.6" ry="2.9" fill="#e2e5e9"/><ellipse cx="581.3" cy="349.6" rx="6.9" ry="4.4" fill="#c4cbd4"/><ellipse cx="581" cy="348.8" rx="5.6" ry="2.9" fill="#e2e5e9"/><ellipse cx="602.8" cy="350.3" rx="6.9" ry="4.5" fill="#c4cbd4"/><ellipse cx="602.4" cy="349.5" rx="5.6" ry="2.9" fill="#e2e5e9"/><ellipse cx="624.4" cy="350.9" rx="6.9" ry="4.5" fill="#c4cbd4"/><ellipse cx="624" cy="350.1" rx="5.7" ry="3" fill="#e2e5e9"/><ellipse cx="646" cy="351.6" rx="7" ry="4.5" fill="#c4cbd4"/><ellipse cx="645.7" cy="350.8" rx="5.7" ry="3" fill="#e2e5e9"/><ellipse cx="667.8" cy="352.2" rx="7" ry="4.5" fill="#c4cbd4"/><ellipse cx="667.5" cy="351.4" rx="5.7" ry="3" fill="#e2e5e9"/><ellipse cx="689.7" cy="352.9" rx="7" ry="4.5" fill="#c4cbd4"/><ellipse cx="689.4" cy="352.1" rx="5.8" ry="3" fill="#e2e5e9"/><ellipse cx="527.7" cy="353" rx="6.8" ry="4.5" fill="#5aa6dd"/><ellipse cx="527.4" cy="352.2" rx="5.6" ry="3" fill="#82c2ec"/><ellipse cx="711.7" cy="353.5" rx="7.1" ry="4.5" fill="#5aa6dd"/><ellipse cx="711.3" cy="352.7" rx="5.8" ry="3" fill="#82c2ec"/><ellipse cx="549.1" cy="353.6" rx="6.9" ry="4.5" fill="#c4cbd4"/><ellipse cx="548.8" cy="352.8" rx="5.6" ry="3" fill="#e2e5e9"/><ellipse cx="570.7" cy="354.3" rx="6.9" ry="4.5" fill="#c4cbd4"/><ellipse cx="570.3" cy="353.5" rx="5.7" ry="3" fill="#e2e5e9"/><ellipse cx="592.3" cy="354.9" rx="6.9" ry="4.5" fill="#c4cbd4"/><ellipse cx="591.9" cy="354.1" rx="5.7" ry="3" fill="#e2e5e9"/><ellipse cx="614" cy="355.6" rx="7" ry="4.5" fill="#c4cbd4"/><ellipse cx="613.6" cy="354.8" rx="5.7" ry="3" fill="#e2e5e9"/><ellipse cx="635.8" cy="356.3" rx="7" ry="4.6" fill="#c4cbd4"/><ellipse cx="635.4" cy="355.4" rx="5.7" ry="3" fill="#e2e5e9"/><ellipse cx="657.7" cy="356.9" rx="7" ry="4.6" fill="#c4cbd4"/><ellipse cx="657.4" cy="356.1" rx="5.8" ry="3" fill="#e2e5e9"/><ellipse cx="679.7" cy="357.6" rx="7.1" ry="4.6" fill="#c4cbd4"/><ellipse cx="679.4" cy="356.8" rx="5.8" ry="3" fill="#e2e5e9"/><ellipse cx="701.9" cy="358.3" rx="7.1" ry="4.6" fill="#5aa6dd"/><ellipse cx="701.5" cy="357.5" rx="5.8" ry="3" fill="#82c2ec"/><ellipse cx="538.2" cy="358.3" rx="6.9" ry="4.6" fill="#5aa6dd"/><ellipse cx="537.8" cy="357.5" rx="5.7" ry="3" fill="#82c2ec"/><ellipse cx="559.8" cy="359" rx="6.9" ry="4.6" fill="#c4cbd4"/><ellipse cx="559.5" cy="358.2" rx="5.7" ry="3" fill="#e2e5e9"/><ellipse cx="581.6" cy="359.7" rx="7" ry="4.6" fill="#c4cbd4"/><ellipse cx="581.2" cy="358.8" rx="5.7" ry="3" fill="#e2e5e9"/><ellipse cx="603.4" cy="360.4" rx="7" ry="4.6" fill="#c4cbd4"/><ellipse cx="603.1" cy="359.5" rx="5.7" ry="3" fill="#e2e5e9"/><ellipse cx="625.4" cy="361" rx="7" ry="4.6" fill="#c4cbd4"/><ellipse cx="625" cy="360.2" rx="5.8" ry="3.1" fill="#e2e5e9"/><ellipse cx="647.4" cy="361.7" rx="7.1" ry="4.7" fill="#c4cbd4"/><ellipse cx="647.1" cy="360.9" rx="5.8" ry="3.1" fill="#e2e5e9"/><ellipse cx="669.6" cy="362.4" rx="7.1" ry="4.7" fill="#c4cbd4"/><ellipse cx="669.3" cy="361.6" rx="5.8" ry="3.1" fill="#e2e5e9"/><ellipse cx="691.9" cy="363.1" rx="7.1" ry="4.7" fill="#5aa6dd"/><ellipse cx="691.6" cy="362.3" rx="5.9" ry="3.1" fill="#82c2ec"/><ellipse cx="548.8" cy="363.8" rx="7" ry="4.7" fill="#5aa6dd"/><ellipse cx="548.5" cy="362.9" rx="5.7" ry="3.1" fill="#82c2ec"/><ellipse cx="570.7" cy="364.5" rx="7" ry="4.7" fill="#c4cbd4"/><ellipse cx="570.4" cy="363.6" rx="5.8" ry="3.1" fill="#e2e5e9"/><ellipse cx="592.7" cy="365.2" rx="7.1" ry="4.7" fill="#c4cbd4"/><ellipse cx="592.4" cy="364.3" rx="5.8" ry="3.1" fill="#e2e5e9"/><ellipse cx="614.8" cy="365.9" rx="7.1" ry="4.7" fill="#c4cbd4"/><ellipse cx="614.5" cy="365" rx="5.8" ry="3.1" fill="#e2e5e9"/><ellipse cx="637" cy="366.6" rx="7.1" ry="4.7" fill="#c4cbd4"/><ellipse cx="636.7" cy="365.7" rx="5.8" ry="3.1" fill="#e2e5e9"/><ellipse cx="659.3" cy="367.3" rx="7.2" ry="4.7" fill="#c4cbd4"/><ellipse cx="659" cy="366.4" rx="5.9" ry="3.1" fill="#e2e5e9"/><ellipse cx="681.8" cy="368" rx="7.2" ry="4.8" fill="#5aa6dd"/><ellipse cx="681.4" cy="367.2" rx="5.9" ry="3.1" fill="#82c2ec"/><ellipse cx="559.7" cy="369.4" rx="7.1" ry="4.8" fill="#5aa6dd"/><ellipse cx="559.3" cy="368.5" rx="5.8" ry="3.1" fill="#82c2ec"/><ellipse cx="581.8" cy="370.1" rx="7.1" ry="4.8" fill="#c4cbd4"/><ellipse cx="581.5" cy="369.2" rx="5.8" ry="3.1" fill="#e2e5e9"/><ellipse cx="604.1" cy="370.8" rx="7.1" ry="4.8" fill="#c4cbd4"/><ellipse cx="603.7" cy="369.9" rx="5.9" ry="3.2" fill="#e2e5e9"/><ellipse cx="626.4" cy="371.5" rx="7.2" ry="4.8" fill="#c4cbd4"/><ellipse cx="626.1" cy="370.7" rx="5.9" ry="3.2" fill="#e2e5e9"/><ellipse cx="648.9" cy="372.3" rx="7.2" ry="4.8" fill="#c4cbd4"/><ellipse cx="648.5" cy="371.4" rx="5.9" ry="3.2" fill="#e2e5e9"/><ellipse cx="671.5" cy="373" rx="7.2" ry="4.8" fill="#5aa6dd"/><ellipse cx="671.1" cy="372.1" rx="5.9" ry="3.2" fill="#82c2ec"/><ellipse cx="570.8" cy="375.1" rx="7.1" ry="4.8" fill="#5aa6dd"/><ellipse cx="570.4" cy="374.2" rx="5.9" ry="3.2" fill="#82c2ec"/><ellipse cx="593.2" cy="375.8" rx="7.2" ry="4.9" fill="#c4cbd4"/><ellipse cx="592.8" cy="374.9" rx="5.9" ry="3.2" fill="#e2e5e9"/><ellipse cx="615.7" cy="376.5" rx="7.2" ry="4.9" fill="#c4cbd4"/><ellipse cx="615.3" cy="375.7" rx="5.9" ry="3.2" fill="#e2e5e9"/><ellipse cx="638.3" cy="377.3" rx="7.3" ry="4.9" fill="#c4cbd4"/><ellipse cx="637.9" cy="376.4" rx="6" ry="3.2" fill="#e2e5e9"/><ellipse cx="661" cy="378" rx="7.3" ry="4.9" fill="#5aa6dd"/><ellipse cx="660.7" cy="377.2" rx="6" ry="3.2" fill="#82c2ec"/><ellipse cx="582.1" cy="380.9" rx="7.2" ry="4.9" fill="#5aa6dd"/><ellipse cx="581.7" cy="380" rx="5.9" ry="3.3" fill="#82c2ec"/><ellipse cx="604.8" cy="381.6" rx="7.3" ry="5" fill="#c4cbd4"/><ellipse cx="604.4" cy="380.8" rx="6" ry="3.3" fill="#e2e5e9"/><ellipse cx="627.5" cy="382.4" rx="7.3" ry="5" fill="#c4cbd4"/><ellipse cx="627.2" cy="381.5" rx="6" ry="3.3" fill="#e2e5e9"/><ellipse cx="650.4" cy="383.2" rx="7.3" ry="5" fill="#5aa6dd"/><ellipse cx="650.1" cy="382.3" rx="6" ry="3.3" fill="#82c2ec"/><ellipse cx="593.6" cy="386.8" rx="7.3" ry="5.1" fill="#5aa6dd"/><ellipse cx="593.3" cy="385.9" rx="6" ry="3.3" fill="#82c2ec"/><ellipse cx="616.6" cy="387.6" rx="7.4" ry="5.1" fill="#c4cbd4"/><ellipse cx="616.2" cy="386.7" rx="6" ry="3.3" fill="#e2e5e9"/><ellipse cx="639.6" cy="388.4" rx="7.4" ry="5.1" fill="#5aa6dd"/><ellipse cx="639.3" cy="387.5" rx="6.1" ry="3.4" fill="#82c2ec"/><ellipse cx="605.5" cy="392.9" rx="7.4" ry="5.2" fill="#5aa6dd"/><ellipse cx="605.1" cy="392" rx="6.1" ry="3.4" fill="#82c2ec"/><ellipse cx="628.7" cy="393.7" rx="7.4" ry="5.2" fill="#5aa6dd"/><ellipse cx="628.3" cy="392.8" rx="6.1" ry="3.4" fill="#82c2ec"/><ellipse cx="617.5" cy="399.1" rx="7.5" ry="5.3" fill="#5aa6dd"/><ellipse cx="617.1" cy="398.1" rx="6.1" ry="3.5" fill="#82c2ec"/>
<polygon points="354,268 352,270 380,296 406.7,320 433,338 478,363 618,447 680,413 750,371.5 780,356 829.3,304.5 825.4,303.7 618,405" fill="#3d88c9"/>
<path d="M357.9 268.2 L357.9 278 Q357.9 281 362.8 281 Q367.7 281 367.7 278 L367.7 268.2 Z" fill="url(#gCol)"/>
<path d="M358.7 271.3 Q362.8 273.7 366.9 271.3 M358.7 275.3 Q362.8 277.7 366.9 275.3" fill="none" stroke="#c3e5f8" stroke-width="0.8" opacity="0.85"/>
<ellipse cx="362.8" cy="268.2" rx="5.9" ry="2.4" fill="#6fb6e8"/>
<ellipse cx="362.3" cy="267.9" rx="4.5" ry="1.7" fill="#93cdf1"/>
<path d="M365.2 272 L365.2 284.9 Q365.2 287.9 370.2 287.9 Q375.1 287.9 375.1 284.9 L375.1 272 Z" fill="url(#gCol)"/>
<path d="M366 276.1 Q370.2 278.5 374.3 276.1 M366 281.1 Q370.2 283.5 374.3 281.1" fill="none" stroke="#c3e5f8" stroke-width="0.8" opacity="0.85"/>
<ellipse cx="370.2" cy="272" rx="6" ry="2.4" fill="#6fb6e8"/>
<ellipse cx="369.7" cy="271.7" rx="4.5" ry="1.7" fill="#93cdf1"/>
<path d="M372.7 275.8 L372.7 291.8 Q372.7 294.8 377.6 294.8 Q382.6 294.8 382.6 291.8 L382.6 275.8 Z" fill="url(#gCol)"/>
<path d="M373.4 279.5 Q377.6 281.9 381.9 279.5 M373.4 284 Q377.6 286.4 381.9 284 M373.4 288.5 Q377.6 290.9 381.9 288.5" fill="none" stroke="#c3e5f8" stroke-width="0.8" opacity="0.85"/>
<ellipse cx="377.6" cy="275.8" rx="6" ry="2.4" fill="#6fb6e8"/>
<ellipse cx="377.2" cy="275.5" rx="4.5" ry="1.8" fill="#93cdf1"/>
<path d="M380.3 279.7 L380.3 298.7 Q380.3 301.7 385.3 301.7 Q390.3 301.7 390.3 298.7 L390.3 279.7 Z" fill="url(#gCol)"/>
<path d="M381 283.1 Q385.3 285.5 389.5 283.1 M381 287.3 Q385.3 289.7 389.5 287.3 M381 291.5 Q385.3 293.9 389.5 291.5 M381 295.7 Q385.3 298.1 389.5 295.7" fill="none" stroke="#c3e5f8" stroke-width="0.8" opacity="0.85"/>
<ellipse cx="385.3" cy="279.7" rx="6.1" ry="2.5" fill="#6fb6e8"/>
<ellipse cx="384.8" cy="279.4" rx="4.6" ry="1.8" fill="#93cdf1"/>
<path d="M388 283.7 L388 305.7 Q388 308.7 393 308.7 Q398 308.7 398 305.7 L398 283.7 Z" fill="url(#gCol)"/>
<path d="M388.7 287.7 Q393 290.1 397.3 287.7 M388.7 292.5 Q393 294.9 397.3 292.5 M388.7 297.3 Q393 299.7 397.3 297.3 M388.7 302.1 Q393 304.5 397.3 302.1" fill="none" stroke="#c3e5f8" stroke-width="0.8" opacity="0.85"/>
<ellipse cx="393" cy="283.7" rx="6.1" ry="2.5" fill="#6fb6e8"/>
<ellipse cx="392.5" cy="283.4" rx="4.6" ry="1.8" fill="#93cdf1"/>
<path d="M395.8 287.8 L395.8 312.8 Q395.8 315.8 400.9 315.8 Q406 315.8 406 312.8 L406 287.8 Z" fill="url(#gCol)"/>
<path d="M396.6 291.5 Q400.9 293.9 405.2 291.5 M396.6 296 Q400.9 298.4 405.2 296 M396.6 300.5 Q400.9 302.9 405.2 300.5 M396.6 305 Q400.9 307.4 405.2 305 M396.6 309.5 Q400.9 311.9 405.2 309.5" fill="none" stroke="#c3e5f8" stroke-width="0.8" opacity="0.85"/>
<ellipse cx="400.9" cy="287.8" rx="6.2" ry="2.6" fill="#6fb6e8"/>
<ellipse cx="400.4" cy="287.5" rx="4.6" ry="1.9" fill="#93cdf1"/>
<path d="M403.8 291.9 L403.8 319.5 Q403.8 322.5 408.9 322.5 Q414 322.5 414 319.5 L414 291.9 Z" fill="url(#gCol)"/>
<path d="M404.6 296 Q408.9 298.4 413.3 296 M404.6 301 Q408.9 303.4 413.3 301 M404.6 305.9 Q408.9 308.3 413.3 305.9 M404.6 310.8 Q408.9 313.2 413.3 310.8 M404.6 315.8 Q408.9 318.2 413.3 315.8" fill="none" stroke="#c3e5f8" stroke-width="0.8" opacity="0.85"/>
<ellipse cx="408.9" cy="291.9" rx="6.3" ry="2.6" fill="#6fb6e8"/>
<ellipse cx="408.4" cy="291.6" rx="4.7" ry="1.9" fill="#93cdf1"/>
<path d="M411.9 296.1 L411.9 325.1 Q411.9 328.1 417.1 328.1 Q422.2 328.1 422.2 325.1 L422.2 296.1 Z" fill="url(#gCol)"/>
<path d="M412.7 299.7 Q417.1 302.1 421.5 299.7 M412.7 304.1 Q417.1 306.5 421.5 304.1 M412.7 308.6 Q417.1 311 421.5 308.6 M412.7 313 Q417.1 315.4 421.5 313 M412.7 317.4 Q417.1 319.8 421.5 317.4 M412.7 321.9 Q417.1 324.3 421.5 321.9" fill="none" stroke="#c3e5f8" stroke-width="0.8" opacity="0.85"/>
<ellipse cx="417.1" cy="296.1" rx="6.3" ry="2.7" fill="#6fb6e8"/>
<ellipse cx="416.6" cy="295.8" rx="4.7" ry="1.9" fill="#93cdf1"/>
<path d="M420.2 300.4 L420.2 330.8 Q420.2 333.8 425.4 333.8 Q430.6 333.8 430.6 330.8 L430.6 300.4 Z" fill="url(#gCol)"/>
<path d="M421 304.2 Q425.4 306.6 429.8 304.2 M421 308.8 Q425.4 311.2 429.8 308.8 M421 313.5 Q425.4 315.9 429.8 313.5 M421 318.1 Q425.4 320.5 429.8 318.1 M421 322.7 Q425.4 325.1 429.8 322.7 M421 327.4 Q425.4 329.8 429.8 327.4" fill="none" stroke="#c3e5f8" stroke-width="0.8" opacity="0.85"/>
<ellipse cx="425.4" cy="300.4" rx="6.4" ry="2.7" fill="#6fb6e8"/>
<ellipse cx="424.9" cy="300" rx="4.8" ry="2" fill="#93cdf1"/>
<path d="M813.1 301.8 L813.1 313.5 Q813.1 316.5 818.8 316.5 Q824.5 316.5 824.5 313.5 L824.5 301.8 Z" fill="url(#gColR)"/>
<path d="M813.9 305.5 Q818.8 307.9 823.6 305.5 M813.9 310.1 Q818.8 312.5 823.6 310.1" fill="none" stroke="#c3e5f8" stroke-width="0.8" opacity="0.85"/>
<ellipse cx="818.8" cy="301.8" rx="6.9" ry="2.8" fill="#6fb6e8"/>
<ellipse cx="818.2" cy="301.4" rx="5.2" ry="2" fill="#93cdf1"/>
<path d="M428.6 304.7 L428.6 336.5 Q428.6 339.5 433.8 339.5 Q439.1 339.5 439.1 336.5 L439.1 304.7 Z" fill="url(#gCol)"/>
<path d="M429.4 308.7 Q433.8 311.1 438.3 308.7 M429.4 313.6 Q433.8 316 438.3 313.6 M429.4 318.4 Q433.8 320.8 438.3 318.4 M429.4 323.2 Q433.8 325.6 438.3 323.2 M429.4 328 Q433.8 330.4 438.3 328 M429.4 332.8 Q433.8 335.2 438.3 332.8" fill="none" stroke="#c3e5f8" stroke-width="0.8" opacity="0.85"/>
<ellipse cx="433.8" cy="304.7" rx="6.4" ry="2.8" fill="#6fb6e8"/>
<ellipse cx="433.3" cy="304.4" rx="4.8" ry="2" fill="#93cdf1"/>
<path d="M804.8 305.7 L804.8 322.1 Q804.8 325.1 810.5 325.1 Q816.3 325.1 816.3 322.1 L816.3 305.7 Z" fill="url(#gColR)"/>
<path d="M805.7 309.5 Q810.5 311.9 815.4 309.5 M805.7 314.1 Q810.5 316.5 815.4 314.1 M805.7 318.7 Q810.5 321.1 815.4 318.7" fill="none" stroke="#c3e5f8" stroke-width="0.8" opacity="0.85"/>
<ellipse cx="810.5" cy="305.7" rx="7" ry="2.8" fill="#6fb6e8"/>
<ellipse cx="810" cy="305.4" rx="5.2" ry="2" fill="#93cdf1"/>
<path d="M437.2 309.1 L437.2 341.3 Q437.2 344.3 442.5 344.3 Q447.8 344.3 447.8 341.3 L447.8 309.1 Z" fill="url(#gCol)"/>
<path d="M437.9 313.2 Q442.5 315.6 447 313.2 M437.9 318.1 Q442.5 320.5 447 318.1 M437.9 323 Q442.5 325.4 447 323 M437.9 327.8 Q442.5 330.2 447 327.8 M437.9 332.7 Q442.5 335.1 447 332.7 M437.9 337.6 Q442.5 340 447 337.6" fill="none" stroke="#c3e5f8" stroke-width="0.8" opacity="0.85"/>
<ellipse cx="442.5" cy="309.1" rx="6.5" ry="2.8" fill="#6fb6e8"/>
<ellipse cx="441.9" cy="308.8" rx="4.9" ry="2" fill="#93cdf1"/>
<path d="M796.5 309.8 L796.5 330.8 Q796.5 333.8 802.2 333.8 Q807.9 333.8 807.9 330.8 L807.9 309.8 Z" fill="url(#gColR)"/>
<path d="M797.3 313.6 Q802.2 316 807.1 313.6 M797.3 318.2 Q802.2 320.6 807.1 318.2 M797.3 322.8 Q802.2 325.2 807.1 322.8 M797.3 327.4 Q802.2 329.8 807.1 327.4" fill="none" stroke="#c3e5f8" stroke-width="0.8" opacity="0.85"/>
<ellipse cx="802.2" cy="309.8" rx="7" ry="2.9" fill="#6fb6e8"/>
<ellipse cx="801.6" cy="309.4" rx="5.2" ry="2.1" fill="#93cdf1"/>
<path d="M445.9 313.6 L445.9 346.1 Q445.9 349.1 451.2 349.1 Q456.6 349.1 456.6 346.1 L456.6 313.6 Z" fill="url(#gCol)"/>
<path d="M446.7 317.8 Q451.2 320.2 455.8 317.8 M446.7 322.7 Q451.2 325.1 455.8 322.7 M446.7 327.6 Q451.2 330 455.8 327.6 M446.7 332.6 Q451.2 335 455.8 332.6 M446.7 337.5 Q451.2 339.9 455.8 337.5 M446.7 342.4 Q451.2 344.8 455.8 342.4" fill="none" stroke="#c3e5f8" stroke-width="0.8" opacity="0.85"/>
<ellipse cx="451.2" cy="313.6" rx="6.5" ry="2.9" fill="#6fb6e8"/>
<ellipse cx="450.7" cy="313.3" rx="4.9" ry="2.1" fill="#93cdf1"/>
<path d="M788 313.9 L788 339.7 Q788 342.7 793.7 342.7 Q799.5 342.7 799.5 339.7 L799.5 313.9 Z" fill="url(#gColR)"/>
<path d="M788.8 317.7 Q793.7 320.1 798.6 317.7 M788.8 322.3 Q793.7 324.7 798.6 322.3 M788.8 327 Q793.7 329.4 798.6 327 M788.8 331.6 Q793.7 334 798.6 331.6 M788.8 336.2 Q793.7 338.6 798.6 336.2" fill="none" stroke="#c3e5f8" stroke-width="0.8" opacity="0.85"/>
<ellipse cx="793.7" cy="313.9" rx="7" ry="2.9" fill="#6fb6e8"/>
<ellipse cx="793.2" cy="313.5" rx="5.3" ry="2.1" fill="#93cdf1"/>
<path d="M779.4 318 L779.4 348.6 Q779.4 351.6 785.1 351.6 Q790.9 351.6 790.9 348.6 L790.9 318 Z" fill="url(#gColR)"/>
<path d="M780.2 321.9 Q785.1 324.3 790.1 321.9 M780.2 326.5 Q785.1 328.9 790.1 326.5 M780.2 331.2 Q785.1 333.6 790.1 331.2 M780.2 335.9 Q785.1 338.3 790.1 335.9 M780.2 340.5 Q785.1 342.9 790.1 340.5 M780.2 345.2 Q785.1 347.6 790.1 345.2" fill="none" stroke="#c3e5f8" stroke-width="0.8" opacity="0.85"/>
<ellipse cx="785.1" cy="318" rx="7.1" ry="3" fill="#6fb6e8"/>
<ellipse cx="784.6" cy="317.7" rx="5.3" ry="2.1" fill="#93cdf1"/>
<path d="M454.8 318.2 L454.8 351.1 Q454.8 354.1 460.2 354.1 Q465.6 354.1 465.6 351.1 L465.6 318.2 Z" fill="url(#gCol)"/>
<path d="M455.6 322.4 Q460.2 324.8 464.8 322.4 M455.6 327.4 Q460.2 329.8 464.8 327.4 M455.6 332.4 Q460.2 334.8 464.8 332.4 M455.6 337.4 Q460.2 339.8 464.8 337.4 M455.6 342.3 Q460.2 344.7 464.8 342.3 M455.6 347.3 Q460.2 349.7 464.8 347.3" fill="none" stroke="#c3e5f8" stroke-width="0.8" opacity="0.85"/>
<ellipse cx="460.2" cy="318.2" rx="6.6" ry="2.9" fill="#6fb6e8"/>
<ellipse cx="459.7" cy="317.9" rx="5" ry="2.1" fill="#93cdf1"/>
<path d="M770.6 322.2 L770.6 355.8 Q770.6 358.8 776.4 358.8 Q782.3 358.8 782.3 355.8 L782.3 322.2 Z" fill="url(#gColR)"/>
<path d="M771.5 325.9 Q776.4 328.3 781.4 325.9 M771.5 330.3 Q776.4 332.7 781.4 330.3 M771.5 334.8 Q776.4 337.2 781.4 334.8 M771.5 339.2 Q776.4 341.6 781.4 339.2 M771.5 343.7 Q776.4 346.1 781.4 343.7 M771.5 348.1 Q776.4 350.5 781.4 348.1 M771.5 352.6 Q776.4 355 781.4 352.6" fill="none" stroke="#c3e5f8" stroke-width="0.8" opacity="0.85"/>
<ellipse cx="776.4" cy="322.2" rx="7.1" ry="3" fill="#6fb6e8"/>
<ellipse cx="775.9" cy="321.9" rx="5.3" ry="2.2" fill="#93cdf1"/>
<path d="M463.8 322.9 L463.8 356.2 Q463.8 359.2 469.3 359.2 Q474.8 359.2 474.8 356.2 L474.8 322.9 Z" fill="url(#gCol)"/>
<path d="M464.6 326.5 Q469.3 328.9 473.9 326.5 M464.6 330.9 Q469.3 333.3 473.9 330.9 M464.6 335.3 Q469.3 337.7 473.9 335.3 M464.6 339.7 Q469.3 342.1 473.9 339.7 M464.6 344.1 Q469.3 346.5 473.9 344.1 M464.6 348.5 Q469.3 350.9 473.9 348.5 M464.6 353 Q469.3 355.4 473.9 353" fill="none" stroke="#c3e5f8" stroke-width="0.8" opacity="0.85"/>
<ellipse cx="469.3" cy="322.9" rx="6.7" ry="3" fill="#6fb6e8"/>
<ellipse cx="468.8" cy="322.6" rx="5" ry="2.1" fill="#93cdf1"/>
<path d="M761.7 326.5 L761.7 360.4 Q761.7 363.4 767.6 363.4 Q773.4 363.4 773.4 360.4 L773.4 326.5 Z" fill="url(#gColR)"/>
<path d="M762.6 330.2 Q767.6 332.6 772.6 330.2 M762.6 334.7 Q767.6 337.1 772.6 334.7 M762.6 339.2 Q767.6 341.6 772.6 339.2 M762.6 343.7 Q767.6 346.1 772.6 343.7 M762.6 348.1 Q767.6 350.5 772.6 348.1 M762.6 352.6 Q767.6 355 772.6 352.6 M762.6 357.1 Q767.6 359.5 772.6 357.1" fill="none" stroke="#c3e5f8" stroke-width="0.8" opacity="0.85"/>
<ellipse cx="767.6" cy="326.5" rx="7.1" ry="3.1" fill="#6fb6e8"/>
<ellipse cx="767" cy="326.1" rx="5.4" ry="2.2" fill="#93cdf1"/>
<path d="M473 327.7 L473 361.3 Q473 364.3 478.6 364.3 Q484.1 364.3 484.1 361.3 L484.1 327.7 Z" fill="url(#gCol)"/>
<path d="M473.9 331.3 Q478.6 333.7 483.3 331.3 M473.9 335.8 Q478.6 338.2 483.3 335.8 M473.9 340.3 Q478.6 342.7 483.3 340.3 M473.9 344.7 Q478.6 347.1 483.3 344.7 M473.9 349.2 Q478.6 351.6 483.3 349.2 M473.9 353.6 Q478.6 356 483.3 353.6 M473.9 358.1 Q478.6 360.5 483.3 358.1" fill="none" stroke="#c3e5f8" stroke-width="0.8" opacity="0.85"/>
<ellipse cx="478.6" cy="327.7" rx="6.7" ry="3" fill="#6fb6e8"/>
<ellipse cx="478" cy="327.3" rx="5.1" ry="2.2" fill="#93cdf1"/>
<path d="M752.7 330.8 L752.7 365 Q752.7 368 758.6 368 Q764.5 368 764.5 365 L764.5 330.8 Z" fill="url(#gColR)"/>
<path d="M753.6 334.6 Q758.6 337 763.6 334.6 M753.6 339.1 Q758.6 341.5 763.6 339.1 M753.6 343.6 Q758.6 346 763.6 343.6 M753.6 348.1 Q758.6 350.5 763.6 348.1 M753.6 352.7 Q758.6 355.1 763.6 352.7 M753.6 357.2 Q758.6 359.6 763.6 357.2 M753.6 361.7 Q758.6 364.1 763.6 361.7" fill="none" stroke="#c3e5f8" stroke-width="0.8" opacity="0.85"/>
<ellipse cx="758.6" cy="330.8" rx="7.2" ry="3.1" fill="#6fb6e8"/>
<ellipse cx="758" cy="330.5" rx="5.4" ry="2.2" fill="#93cdf1"/>
<path d="M482.4 332.5 L482.4 367 Q482.4 370 488 370 Q493.6 370 493.6 367 L493.6 332.5 Z" fill="url(#gCol)"/>
<path d="M483.3 336.3 Q488 338.7 492.8 336.3 M483.3 340.9 Q488 343.3 492.8 340.9 M483.3 345.4 Q488 347.8 492.8 345.4 M483.3 350 Q488 352.4 492.8 350 M483.3 354.5 Q488 356.9 492.8 354.5 M483.3 359.1 Q488 361.5 492.8 359.1 M483.3 363.7 Q488 366.1 492.8 363.7" fill="none" stroke="#c3e5f8" stroke-width="0.8" opacity="0.85"/>
<ellipse cx="488" cy="332.5" rx="6.8" ry="3.1" fill="#6fb6e8"/>
<ellipse cx="487.5" cy="332.2" rx="5.1" ry="2.2" fill="#93cdf1"/>
<path d="M743.6 335.3 L743.6 369.8 Q743.6 372.8 749.5 372.8 Q755.4 372.8 755.4 369.8 L755.4 335.3 Z" fill="url(#gColR)"/>
<path d="M744.5 339 Q749.5 341.4 754.5 339 M744.5 343.6 Q749.5 346 754.5 343.6 M744.5 348.2 Q749.5 350.6 754.5 348.2 M744.5 352.7 Q749.5 355.1 754.5 352.7 M744.5 357.3 Q749.5 359.7 754.5 357.3 M744.5 361.9 Q749.5 364.3 754.5 361.9 M744.5 366.4 Q749.5 368.8 754.5 366.4" fill="none" stroke="#c3e5f8" stroke-width="0.8" opacity="0.85"/>
<ellipse cx="749.5" cy="335.3" rx="7.2" ry="3.2" fill="#6fb6e8"/>
<ellipse cx="748.9" cy="334.9" rx="5.4" ry="2.3" fill="#93cdf1"/>
<path d="M492 337.5 L492 372.8 Q492 375.8 497.7 375.8 Q503.3 375.8 503.3 372.8 L503.3 337.5 Z" fill="url(#gCol)"/>
<path d="M492.9 341.4 Q497.7 343.8 502.5 341.4 M492.9 346 Q497.7 348.4 502.5 346 M492.9 350.7 Q497.7 353.1 502.5 350.7 M492.9 355.4 Q497.7 357.8 502.5 355.4 M492.9 360 Q497.7 362.4 502.5 360 M492.9 364.7 Q497.7 367.1 502.5 364.7 M492.9 369.3 Q497.7 371.7 502.5 369.3" fill="none" stroke="#c3e5f8" stroke-width="0.8" opacity="0.85"/>
<ellipse cx="497.7" cy="337.5" rx="6.9" ry="3.1" fill="#6fb6e8"/>
<ellipse cx="497.1" cy="337.1" rx="5.2" ry="2.3" fill="#93cdf1"/>
<path d="M734.3 339.7 L734.3 375.3 Q734.3 378.3 740.3 378.3 Q746.2 378.3 746.2 375.3 L746.2 339.7 Z" fill="url(#gColR)"/>
<path d="M735.2 343.6 Q740.3 346 745.3 343.6 M735.2 348.3 Q740.3 350.7 745.3 348.3 M735.2 353 Q740.3 355.4 745.3 353 M735.2 357.7 Q740.3 360.1 745.3 357.7 M735.2 362.4 Q740.3 364.8 745.3 362.4 M735.2 367.1 Q740.3 369.5 745.3 367.1 M735.2 371.8 Q740.3 374.2 745.3 371.8" fill="none" stroke="#c3e5f8" stroke-width="0.8" opacity="0.85"/>
<ellipse cx="740.3" cy="339.7" rx="7.3" ry="3.2" fill="#6fb6e8"/>
<ellipse cx="739.7" cy="339.3" rx="5.4" ry="2.3" fill="#93cdf1"/>
<path d="M501.8 342.6 L501.8 378.7 Q501.8 381.7 507.5 381.7 Q513.2 381.7 513.2 378.7 L513.2 342.6 Z" fill="url(#gCol)"/>
<path d="M502.7 346.5 Q507.5 348.9 512.3 346.5 M502.7 351.3 Q507.5 353.7 512.3 351.3 M502.7 356.1 Q507.5 358.5 512.3 356.1 M502.7 360.8 Q507.5 363.2 512.3 360.8 M502.7 365.6 Q507.5 368 512.3 365.6 M502.7 370.4 Q507.5 372.8 512.3 370.4 M502.7 375.1 Q507.5 377.5 512.3 375.1" fill="none" stroke="#c3e5f8" stroke-width="0.8" opacity="0.85"/>
<ellipse cx="507.5" cy="342.6" rx="6.9" ry="3.2" fill="#6fb6e8"/>
<ellipse cx="506.9" cy="342.2" rx="5.2" ry="2.3" fill="#93cdf1"/>
<path d="M724.9 344.3 L724.9 380.8 Q724.9 383.8 730.9 383.8 Q736.9 383.8 736.9 380.8 L736.9 344.3 Z" fill="url(#gColR)"/>
<path d="M725.8 348.3 Q730.9 350.7 736 348.3 M725.8 353.1 Q730.9 355.5 736 353.1 M725.8 357.9 Q730.9 360.3 736 357.9 M725.8 362.7 Q730.9 365.1 736 362.7 M725.8 367.6 Q730.9 370 736 367.6 M725.8 372.4 Q730.9 374.8 736 372.4 M725.8 377.2 Q730.9 379.6 736 377.2" fill="none" stroke="#c3e5f8" stroke-width="0.8" opacity="0.85"/>
<ellipse cx="730.9" cy="344.3" rx="7.3" ry="3.3" fill="#6fb6e8"/>
<ellipse cx="730.3" cy="343.9" rx="5.5" ry="2.3" fill="#93cdf1"/>
<path d="M511.8 347.7 L511.8 384.7 Q511.8 387.7 517.5 387.7 Q523.3 387.7 523.3 384.7 L523.3 347.7 Z" fill="url(#gCol)"/>
<path d="M512.6 351.8 Q517.5 354.2 522.4 351.8 M512.6 356.7 Q517.5 359.1 522.4 356.7 M512.6 361.5 Q517.5 363.9 522.4 361.5 M512.6 366.4 Q517.5 368.8 522.4 366.4 M512.6 371.3 Q517.5 373.7 522.4 371.3 M512.6 376.2 Q517.5 378.6 522.4 376.2 M512.6 381 Q517.5 383.4 522.4 381" fill="none" stroke="#c3e5f8" stroke-width="0.8" opacity="0.85"/>
<ellipse cx="517.5" cy="347.7" rx="7" ry="3.3" fill="#6fb6e8"/>
<ellipse cx="517" cy="347.3" rx="5.3" ry="2.3" fill="#93cdf1"/>
<path d="M715.4 348.9 L715.4 386.5 Q715.4 389.5 721.4 389.5 Q727.4 389.5 727.4 386.5 L727.4 348.9 Z" fill="url(#gColR)"/>
<path d="M716.3 353 Q721.4 355.4 726.5 353 M716.3 358 Q721.4 360.4 726.5 358 M716.3 362.9 Q721.4 365.3 726.5 362.9 M716.3 367.9 Q721.4 370.3 726.5 367.9 M716.3 372.8 Q721.4 375.2 726.5 372.8 M716.3 377.8 Q721.4 380.2 726.5 377.8 M716.3 382.7 Q721.4 385.1 726.5 382.7" fill="none" stroke="#c3e5f8" stroke-width="0.8" opacity="0.85"/>
<ellipse cx="721.4" cy="348.9" rx="7.3" ry="3.3" fill="#6fb6e8"/>
<ellipse cx="720.8" cy="348.5" rx="5.5" ry="2.4" fill="#93cdf1"/>
<path d="M521.9 353 L521.9 390.8 Q521.9 393.8 527.7 393.8 Q533.6 393.8 533.6 390.8 L533.6 353 Z" fill="url(#gCol)"/>
<path d="M522.8 357.1 Q527.7 359.5 532.7 357.1 M522.8 362.1 Q527.7 364.5 532.7 362.1 M522.8 367.1 Q527.7 369.5 532.7 367.1 M522.8 372.1 Q527.7 374.5 532.7 372.1 M522.8 377.1 Q527.7 379.5 532.7 377.1 M522.8 382.1 Q527.7 384.5 532.7 382.1 M522.8 387.1 Q527.7 389.5 532.7 387.1" fill="none" stroke="#c3e5f8" stroke-width="0.8" opacity="0.85"/>
<ellipse cx="527.7" cy="353" rx="7.1" ry="3.3" fill="#6fb6e8"/>
<ellipse cx="527.2" cy="352.6" rx="5.3" ry="2.4" fill="#93cdf1"/>
<path d="M705.7 353.5 L705.7 392.2 Q705.7 395.2 711.7 395.2 Q717.7 395.2 717.7 392.2 L717.7 353.5 Z" fill="url(#gColR)"/>
<path d="M706.6 357.3 Q711.7 359.7 716.8 357.3 M706.6 361.8 Q711.7 364.2 716.8 361.8 M706.6 366.3 Q711.7 368.7 716.8 366.3 M706.6 370.8 Q711.7 373.2 716.8 370.8 M706.6 375.3 Q711.7 377.7 716.8 375.3 M706.6 379.9 Q711.7 382.3 716.8 379.9 M706.6 384.4 Q711.7 386.8 716.8 384.4 M706.6 388.9 Q711.7 391.3 716.8 388.9" fill="none" stroke="#c3e5f8" stroke-width="0.8" opacity="0.85"/>
<ellipse cx="711.7" cy="353.5" rx="7.4" ry="3.4" fill="#6fb6e8"/>
<ellipse cx="711.1" cy="353.1" rx="5.5" ry="2.4" fill="#93cdf1"/>
<path d="M695.8 358.3 L695.8 398 Q695.8 401 701.9 401 Q708 401 708 398 L708 358.3 Z" fill="url(#gColR)"/>
<path d="M696.7 362.1 Q701.9 364.5 707.1 362.1 M696.7 366.8 Q701.9 369.2 707.1 366.8 M696.7 371.4 Q701.9 373.8 707.1 371.4 M696.7 376 Q701.9 378.4 707.1 376 M696.7 380.7 Q701.9 383.1 707.1 380.7 M696.7 385.3 Q701.9 387.7 707.1 385.3 M696.7 390 Q701.9 392.4 707.1 390 M696.7 394.6 Q701.9 397 707.1 394.6" fill="none" stroke="#c3e5f8" stroke-width="0.8" opacity="0.85"/>
<ellipse cx="701.9" cy="358.3" rx="7.4" ry="3.4" fill="#6fb6e8"/>
<ellipse cx="701.3" cy="357.9" rx="5.6" ry="2.5" fill="#93cdf1"/>
<path d="M532.3 358.3 L532.3 397.1 Q532.3 400.1 538.2 400.1 Q544.1 400.1 544.1 397.1 L544.1 358.3 Z" fill="url(#gCol)"/>
<path d="M533.2 362.1 Q538.2 364.5 543.2 362.1 M533.2 366.6 Q538.2 369 543.2 366.6 M533.2 371.1 Q538.2 373.5 543.2 371.1 M533.2 375.6 Q538.2 378 543.2 375.6 M533.2 380.2 Q538.2 382.6 543.2 380.2 M533.2 384.7 Q538.2 387.1 543.2 384.7 M533.2 389.2 Q538.2 391.6 543.2 389.2 M533.2 393.8 Q538.2 396.2 543.2 393.8" fill="none" stroke="#c3e5f8" stroke-width="0.8" opacity="0.85"/>
<ellipse cx="538.2" cy="358.3" rx="7.2" ry="3.4" fill="#6fb6e8"/>
<ellipse cx="537.6" cy="357.9" rx="5.4" ry="2.4" fill="#93cdf1"/>
<path d="M685.8 363.1 L685.8 403.9 Q685.8 406.9 691.9 406.9 Q698 406.9 698 403.9 L698 363.1 Z" fill="url(#gColR)"/>
<path d="M686.7 367.1 Q691.9 369.5 697.1 367.1 M686.7 371.8 Q691.9 374.2 697.1 371.8 M686.7 376.6 Q691.9 379 697.1 376.6 M686.7 381.3 Q691.9 383.7 697.1 381.3 M686.7 386.1 Q691.9 388.5 697.1 386.1 M686.7 390.9 Q691.9 393.3 697.1 390.9 M686.7 395.6 Q691.9 398 697.1 395.6 M686.7 400.4 Q691.9 402.8 697.1 400.4" fill="none" stroke="#c3e5f8" stroke-width="0.8" opacity="0.85"/>
<ellipse cx="691.9" cy="363.1" rx="7.5" ry="3.5" fill="#6fb6e8"/>
<ellipse cx="691.3" cy="362.7" rx="5.6" ry="2.5" fill="#93cdf1"/>
<path d="M542.9 363.8 L542.9 403.5 Q542.9 406.5 548.8 406.5 Q554.8 406.5 554.8 403.5 L554.8 363.8 Z" fill="url(#gCol)"/>
<path d="M543.8 367.6 Q548.8 370 553.9 367.6 M543.8 372.3 Q548.8 374.7 553.9 372.3 M543.8 376.9 Q548.8 379.3 553.9 376.9 M543.8 381.5 Q548.8 383.9 553.9 381.5 M543.8 386.2 Q548.8 388.6 553.9 386.2 M543.8 390.8 Q548.8 393.2 553.9 390.8 M543.8 395.4 Q548.8 397.8 553.9 395.4 M543.8 400.1 Q548.8 402.5 553.9 400.1" fill="none" stroke="#c3e5f8" stroke-width="0.8" opacity="0.85"/>
<ellipse cx="548.8" cy="363.8" rx="7.3" ry="3.4" fill="#6fb6e8"/>
<ellipse cx="548.2" cy="363.4" rx="5.4" ry="2.5" fill="#93cdf1"/>
<path d="M675.6 368 L675.6 409.9 Q675.6 412.9 681.8 412.9 Q687.9 412.9 687.9 409.9 L687.9 368 Z" fill="url(#gColR)"/>
<path d="M676.6 372.1 Q681.8 374.5 687 372.1 M676.6 377 Q681.8 379.4 687 377 M676.6 381.9 Q681.8 384.3 687 381.9 M676.6 386.7 Q681.8 389.1 687 386.7 M676.6 391.6 Q681.8 394 687 391.6 M676.6 396.5 Q681.8 398.9 687 396.5 M676.6 401.4 Q681.8 403.8 687 401.4 M676.6 406.3 Q681.8 408.7 687 406.3" fill="none" stroke="#c3e5f8" stroke-width="0.8" opacity="0.85"/>
<ellipse cx="681.8" cy="368" rx="7.5" ry="3.5" fill="#6fb6e8"/>
<ellipse cx="681.2" cy="367.6" rx="5.6" ry="2.5" fill="#93cdf1"/>
<path d="M553.7 369.4 L553.7 410 Q553.7 413 559.7 413 Q565.7 413 565.7 410 L565.7 369.4 Z" fill="url(#gCol)"/>
<path d="M554.6 373.3 Q559.7 375.7 564.8 373.3 M554.6 378 Q559.7 380.4 564.8 378 M554.6 382.8 Q559.7 385.2 564.8 382.8 M554.6 387.5 Q559.7 389.9 564.8 387.5 M554.6 392.3 Q559.7 394.7 564.8 392.3 M554.6 397 Q559.7 399.4 564.8 397 M554.6 401.7 Q559.7 404.1 564.8 401.7 M554.6 406.5 Q559.7 408.9 564.8 406.5" fill="none" stroke="#c3e5f8" stroke-width="0.8" opacity="0.85"/>
<ellipse cx="559.7" cy="369.4" rx="7.3" ry="3.5" fill="#6fb6e8"/>
<ellipse cx="559.1" cy="368.9" rx="5.5" ry="2.5" fill="#93cdf1"/>
<path d="M665.3 373 L665.3 415.7 Q665.3 418.7 671.5 418.7 Q677.7 418.7 677.7 415.7 L677.7 373 Z" fill="url(#gColR)"/>
<path d="M666.2 377.2 Q671.5 379.6 676.8 377.2 M666.2 382.1 Q671.5 384.5 676.8 382.1 M666.2 387.1 Q671.5 389.5 676.8 387.1 M666.2 392 Q671.5 394.4 676.8 392 M666.2 397 Q671.5 399.4 676.8 397 M666.2 402 Q671.5 404.4 676.8 402 M666.2 406.9 Q671.5 409.3 676.8 406.9 M666.2 411.9 Q671.5 414.3 676.8 411.9" fill="none" stroke="#c3e5f8" stroke-width="0.8" opacity="0.85"/>
<ellipse cx="671.5" cy="373" rx="7.6" ry="3.6" fill="#6fb6e8"/>
<ellipse cx="670.9" cy="372.6" rx="5.7" ry="2.6" fill="#93cdf1"/>
<path d="M564.7 375.1 L564.7 416.7 Q564.7 419.7 570.8 419.7 Q576.9 419.7 576.9 416.7 L576.9 375.1 Z" fill="url(#gCol)"/>
<path d="M565.6 379.1 Q570.8 381.5 575.9 379.1 M565.6 384 Q570.8 386.4 575.9 384 M565.6 388.8 Q570.8 391.2 575.9 388.8 M565.6 393.6 Q570.8 396 575.9 393.6 M565.6 398.5 Q570.8 400.9 575.9 398.5 M565.6 403.3 Q570.8 405.7 575.9 403.3 M565.6 408.2 Q570.8 410.6 575.9 408.2 M565.6 413 Q570.8 415.4 575.9 413" fill="none" stroke="#c3e5f8" stroke-width="0.8" opacity="0.85"/>
<ellipse cx="570.8" cy="375.1" rx="7.4" ry="3.6" fill="#6fb6e8"/>
<ellipse cx="570.2" cy="374.6" rx="5.6" ry="2.6" fill="#93cdf1"/>
<path d="M654.8 378 L654.8 421.4 Q654.8 424.4 661 424.4 Q667.3 424.4 667.3 421.4 L667.3 378 Z" fill="url(#gColR)"/>
<path d="M655.7 381.8 Q661 384.2 666.3 381.8 M655.7 386.3 Q661 388.7 666.3 386.3 M655.7 390.8 Q661 393.2 666.3 390.8 M655.7 395.4 Q661 397.8 666.3 395.4 M655.7 399.9 Q661 402.3 666.3 399.9 M655.7 404.5 Q661 406.9 666.3 404.5 M655.7 409 Q661 411.4 666.3 409 M655.7 413.5 Q661 415.9 666.3 413.5 M655.7 418.1 Q661 420.5 666.3 418.1" fill="none" stroke="#c3e5f8" stroke-width="0.8" opacity="0.85"/>
<ellipse cx="661" cy="378" rx="7.6" ry="3.6" fill="#6fb6e8"/>
<ellipse cx="660.4" cy="377.6" rx="5.7" ry="2.6" fill="#93cdf1"/>
<path d="M575.9 380.9 L575.9 423.5 Q575.9 426.5 582.1 426.5 Q588.2 426.5 588.2 423.5 L588.2 380.9 Z" fill="url(#gCol)"/>
<path d="M576.9 385 Q582.1 387.4 587.3 385 M576.9 390 Q582.1 392.4 587.3 390 M576.9 394.9 Q582.1 397.3 587.3 394.9 M576.9 399.9 Q582.1 402.3 587.3 399.9 M576.9 404.8 Q582.1 407.2 587.3 404.8 M576.9 409.8 Q582.1 412.2 587.3 409.8 M576.9 414.7 Q582.1 417.1 587.3 414.7 M576.9 419.7 Q582.1 422.1 587.3 419.7" fill="none" stroke="#c3e5f8" stroke-width="0.8" opacity="0.85"/>
<ellipse cx="582.1" cy="380.9" rx="7.5" ry="3.7" fill="#6fb6e8"/>
<ellipse cx="581.5" cy="380.4" rx="5.6" ry="2.6" fill="#93cdf1"/>
<path d="M644.2 383.2 L644.2 427.2 Q644.2 430.2 650.4 430.2 Q656.7 430.2 656.7 427.2 L656.7 383.2 Z" fill="url(#gColR)"/>
<path d="M645.1 387 Q650.4 389.4 655.8 387 M645.1 391.6 Q650.4 394 655.8 391.6 M645.1 396.2 Q650.4 398.6 655.8 396.2 M645.1 400.8 Q650.4 403.2 655.8 400.8 M645.1 405.4 Q650.4 407.8 655.8 405.4 M645.1 410 Q650.4 412.4 655.8 410 M645.1 414.6 Q650.4 417 655.8 414.6 M645.1 419.2 Q650.4 421.6 655.8 419.2 M645.1 423.8 Q650.4 426.2 655.8 423.8" fill="none" stroke="#c3e5f8" stroke-width="0.8" opacity="0.85"/>
<ellipse cx="650.4" cy="383.2" rx="7.6" ry="3.7" fill="#6fb6e8"/>
<ellipse cx="649.8" cy="382.7" rx="5.7" ry="2.7" fill="#93cdf1"/>
<path d="M587.4 386.8 L587.4 430.4 Q587.4 433.4 593.6 433.4 Q599.9 433.4 599.9 430.4 L599.9 386.8 Z" fill="url(#gCol)"/>
<path d="M588.3 390.6 Q593.6 393 598.9 390.6 M588.3 395.1 Q593.6 397.5 598.9 395.1 M588.3 399.7 Q593.6 402.1 598.9 399.7 M588.3 404.3 Q593.6 406.7 598.9 404.3 M588.3 408.8 Q593.6 411.2 598.9 408.8 M588.3 413.4 Q593.6 415.8 598.9 413.4 M588.3 417.9 Q593.6 420.3 598.9 417.9 M588.3 422.5 Q593.6 424.9 598.9 422.5 M588.3 427 Q593.6 429.4 598.9 427" fill="none" stroke="#c3e5f8" stroke-width="0.8" opacity="0.85"/>
<ellipse cx="593.6" cy="386.8" rx="7.6" ry="3.7" fill="#6fb6e8"/>
<ellipse cx="593" cy="386.4" rx="5.7" ry="2.7" fill="#93cdf1"/>
<path d="M633.3 388.4 L633.3 433.1 Q633.3 436.1 639.6 436.1 Q645.9 436.1 645.9 433.1 L645.9 388.4 Z" fill="url(#gColR)"/>
<path d="M634.3 392.3 Q639.6 394.7 645 392.3 M634.3 396.9 Q639.6 399.3 645 396.9 M634.3 401.6 Q639.6 404 645 401.6 M634.3 406.3 Q639.6 408.7 645 406.3 M634.3 411 Q639.6 413.4 645 411 M634.3 415.6 Q639.6 418 645 415.6 M634.3 420.3 Q639.6 422.7 645 420.3 M634.3 425 Q639.6 427.4 645 425 M634.3 429.7 Q639.6 432.1 645 429.7" fill="none" stroke="#c3e5f8" stroke-width="0.8" opacity="0.85"/>
<ellipse cx="639.6" cy="388.4" rx="7.7" ry="3.8" fill="#6fb6e8"/>
<ellipse cx="639" cy="387.9" rx="5.8" ry="2.7" fill="#93cdf1"/>
<path d="M599.1 392.9 L599.1 437.5 Q599.1 440.5 605.5 440.5 Q611.8 440.5 611.8 437.5 L611.8 392.9 Z" fill="url(#gCol)"/>
<path d="M600.1 396.8 Q605.5 399.2 610.8 396.8 M600.1 401.4 Q605.5 403.8 610.8 401.4 M600.1 406.1 Q605.5 408.5 610.8 406.1 M600.1 410.7 Q605.5 413.1 610.8 410.7 M600.1 415.4 Q605.5 417.8 610.8 415.4 M600.1 420 Q605.5 422.4 610.8 420 M600.1 424.7 Q605.5 427.1 610.8 424.7 M600.1 429.4 Q605.5 431.8 610.8 429.4 M600.1 434 Q605.5 436.4 610.8 434" fill="none" stroke="#c3e5f8" stroke-width="0.8" opacity="0.85"/>
<ellipse cx="605.5" cy="392.9" rx="7.7" ry="3.8" fill="#6fb6e8"/>
<ellipse cx="604.8" cy="392.4" rx="5.8" ry="2.7" fill="#93cdf1"/>
<path d="M622.3 393.7 L622.3 439.2 Q622.3 442.2 628.7 442.2 Q635 442.2 635 439.2 L635 393.7 Z" fill="url(#gColR)"/>
<path d="M623.3 397.6 Q628.7 400 634.1 397.6 M623.3 402.4 Q628.7 404.8 634.1 402.4 M623.3 407.1 Q628.7 409.5 634.1 407.1 M623.3 411.9 Q628.7 414.3 634.1 411.9 M623.3 416.6 Q628.7 419 634.1 416.6 M623.3 421.4 Q628.7 423.8 634.1 421.4 M623.3 426.1 Q628.7 428.5 634.1 426.1 M623.3 430.9 Q628.7 433.3 634.1 430.9 M623.3 435.6 Q628.7 438 634.1 435.6" fill="none" stroke="#c3e5f8" stroke-width="0.8" opacity="0.85"/>
<ellipse cx="628.7" cy="393.7" rx="7.7" ry="3.8" fill="#6fb6e8"/>
<ellipse cx="628" cy="393.2" rx="5.8" ry="2.8" fill="#93cdf1"/>
<path d="M611.1 399.1 L611.1 444.7 Q611.1 447.7 617.5 447.7 Q623.9 447.7 623.9 444.7 L623.9 399.1 Z" fill="url(#gCol)"/>
<path d="M612.1 403.1 Q617.5 405.5 623 403.1 M612.1 407.8 Q617.5 410.2 623 407.8 M612.1 412.6 Q617.5 415 623 412.6 M612.1 417.3 Q617.5 419.7 623 417.3 M612.1 422.1 Q617.5 424.5 623 422.1 M612.1 426.9 Q617.5 429.3 623 426.9 M612.1 431.6 Q617.5 434 623 431.6 M612.1 436.4 Q617.5 438.8 623 436.4 M612.1 441.1 Q617.5 443.5 623 441.1" fill="none" stroke="#c3e5f8" stroke-width="0.8" opacity="0.85"/>
<ellipse cx="617.5" cy="399.1" rx="7.8" ry="3.9" fill="#6fb6e8"/>
<ellipse cx="616.9" cy="398.6" rx="5.8" ry="2.8" fill="#93cdf1"/>
<path d="M611.1 399.1 L611.1 445 Q611.1 448 617.5 448 Q623.9 448 623.9 445 L623.9 399.1 Z" fill="url(#gColR)"/>
<path d="M612.1 403.1 Q617.5 405.5 623 403.1 M612.1 407.9 Q617.5 410.3 623 407.9 M612.1 412.7 Q617.5 415.1 623 412.7 M612.1 417.5 Q617.5 419.9 623 417.5 M612.1 422.2 Q617.5 424.6 623 422.2 M612.1 427 Q617.5 429.4 623 427 M612.1 431.8 Q617.5 434.2 623 431.8 M612.1 436.6 Q617.5 439 623 436.6 M612.1 441.4 Q617.5 443.8 623 441.4" fill="none" stroke="#c3e5f8" stroke-width="0.8" opacity="0.85"/>
<ellipse cx="617.5" cy="399.1" rx="7.8" ry="3.9" fill="#6fb6e8"/>
<ellipse cx="616.9" cy="398.6" rx="5.8" ry="2.8" fill="#93cdf1"/>
<path d="M425,333 478,363 618,447 680,413 750,371.5 782,354 L790 357 L752 377.5 L680 419 L618 452 L478 370 L428 341 Z" fill="#ecdba8"/>
<path d="M349 268 L355 271.7 C365 281 372 289 380 296.7 C388 304 396 311 405 318 C413 325 421 331 430 337 L478 370 L618 452 L680 419 L752 377.5 L790 357 C805 340 818 322 829.3 304.5 L836 302 L848 314 Q830 329 811 343 C795 355 775 372 752 389 C740 396 720 407 700 419 C680 430 650 444 618 461 L478 381 C466 374 450 365 432 353 C422 347 412 338 402 329 C398 326 392 318 386 312 Q362 292 337 277 L337 272 Z" fill="#f4f4f5"/>
<g clip-path="url(#cBase)"><path d="M420 245 L621 333 L800 255 L790 280 L621 358 L440 275 Z" fill="#4a5870" opacity="0.4" filter="url(#blur8)"/></g>
<path d="M449 281 Q447 283 450 285 L538 330 L582 318 L600 240 L490 266 Z" fill="url(#gPad)"/>
<path d="M344 201 L470 176 L798 216 Q838 225 839 230 Q840 235 834 237 L628 327 Q620 330 612 327 L345 207 Q341 204 344 201 Z" fill="#f8f7f3"/>
<path d="M344 201.5 L470 176 L798 216 Q836 224 836 228 Q836 231 832 232 L627 322 Q620 325 613 322 Z" fill="#f5f3ea"/>
<g clip-path="url(#cW)"><path d="M440 220 L621 286 L770 230 L750 246 L621 304 L480 246 Z" fill="#c8b684" opacity="0.85" filter="url(#blur8)"/></g>
<path d="M341 166 L470 140 L840 187 Q845 190 842 197 L632 279 Q621 283.5 610 279.5 L341 174 Q337 171 341 166 Z" fill="#eee5c2"/>
<path d="M341 166 L470 140 L840 187 Q844 189 840 191 L628 267 Q620 271 612 267 Z" fill="#ebe1b7"/>
<g clip-path="url(#cY)"><path d="M380 145 L617 226 L845 152 L835 182 L617 256 L430 186 Z" fill="#b09b5c" opacity="0.75" filter="url(#blur8)"/></g>
<path d="M345 168.5 L612 268 Q620 271.5 628 268 L838 191.5" fill="none" stroke="#f3ecd0" stroke-width="1.6"/>
<path d="M335 131 Q448 106 560 95 Q705 118 848 153 Q852 155 847 158 L635 225 Q617 230 599 223.5 L336 138 Q331 134 335 131 Z" fill="url(#gQ)"/>
<g clip-path="url(#cQ)"><path d="M350.7 132.2 L346.7 134.3 L343.1 136.4 M353.8 132.2 L352.7 134.3 L350.3 136.4 M382.6 127.7 L378.9 129.7 L375.4 131.7 L372.7 133.8 L371.1 135.9 L370.8 138 L371.5 140.1 L372.6 142.3 L373.2 144.5 M384.6 127.7 L384.1 129.7 L382.4 131.7 L379.5 133.8 L375.9 135.9 L372.1 138 L368.9 140.1 L366.8 142.3 L366.1 144.5 M414.1 122.5 L411 124.4 L407.7 126.3 L404.6 128.3 L402.3 130.3 L401.1 132.3 L401.1 134.3 L402 136.4 L403.2 138.5 L404.1 140.6 L403.9 142.8 L402.3 144.9 L399.3 147.2 L395.6 149.4 L391.7 151.7 M413.6 122.5 L414 124.4 L413.4 126.3 L411.7 128.3 L408.9 130.3 L405.5 132.3 L402 134.3 L399.2 136.4 L397.4 138.5 L396.9 140.6 L397.6 142.8 L398.8 144.9 L399.8 147.2 L399.9 149.4 L398.5 151.7 M442.3 118.4 L439.5 120.3 L436.5 122.2 L433.6 124 L431.3 126 L430.1 127.9 L429.9 129.9 L430.7 131.8 L432 133.8 L433.2 135.9 L433.7 137.9 L433 140 L431 142.2 L427.8 144.3 L424.3 146.5 L421 148.7 L418.7 150.9 L417.9 153.2 L418.5 155.5 L419.9 157.8 L421.3 160.1 M441.5 118.4 L442.1 120.3 L441.9 122.2 L440.5 124 L438.2 126 L435.2 127.9 L432 129.9 L429.1 131.8 L427.2 133.8 L426.4 135.9 L426.8 137.9 L427.9 140 L429.3 142.2 L430.2 144.3 L429.8 146.5 L428.1 148.7 L425.1 150.9 L421.4 153.2 L417.9 155.5 L415.4 157.8 L414.4 160.1 M470 113.7 L467.8 115.5 L465.1 117.3 L462.3 119.1 L459.8 120.9 L458.1 122.8 L457.4 124.7 L457.8 126.5 L458.9 128.5 L460.3 130.4 L461.5 132.4 L462 134.4 L461.3 136.4 L459.4 138.4 L456.6 140.5 L453.3 142.6 L450.3 144.7 L448.2 146.9 L447.5 149.1 L448.1 151.3 L449.6 153.5 L451.2 155.8 L452.1 158.1 L451.5 160.4 L449.3 162.8 L445.8 165.2 L442.1 167.6 M467.6 113.7 L468.7 115.5 L469 117.3 L468.5 119.1 L467 120.9 L464.6 122.8 L461.7 124.7 L458.8 126.5 L456.4 128.5 L454.9 130.4 L454.5 132.4 L455.2 134.4 L456.6 136.4 L458.1 138.4 L459 140.5 L458.9 142.6 L457.4 144.7 L454.7 146.9 L451.4 149.1 L448.1 151.3 L445.6 153.5 L444.6 155.8 L445 158.1 L446.5 160.4 L448.2 162.8 L449.2 165.2 L448.5 167.6 M495.2 110.1 L493.1 111.8 L490.6 113.5 L488 115.3 L485.8 117.1 L484.3 118.8 L483.7 120.6 L484.1 122.5 L485.2 124.3 L486.8 126.2 L488.2 128.1 L489 130 L488.9 131.9 L487.6 133.9 L485.3 135.9 L482.3 137.9 L479.4 140 L477.1 142 L475.9 144.1 L476 146.2 L477.2 148.4 L479 150.6 L480.5 152.8 L481.1 155 L480.3 157.3 L477.9 159.6 L474.6 161.9 L471.3 164.2 L468.7 166.6 L467.8 169.1 L468.5 171.5 L470.4 174 L472.3 176.5 M493.2 110.1 L494.3 111.8 L494.7 113.5 L494.3 115.3 L493 117.1 L490.9 118.8 L488.3 120.6 L485.6 122.5 L483.3 124.3 L481.8 126.2 L481.4 128.1 L482 130 L483.3 131.9 L485 133.9 L486.3 135.9 L486.8 137.9 L486.1 140 L484.1 142 L481.3 144.1 L478.2 146.2 L475.4 148.4 L473.8 150.6 L473.5 152.8 L474.5 155 L476.3 157.3 L478 159.6 L478.8 161.9 L478 164.2 L475.6 166.6 L472.2 169.1 L468.7 171.5 L466.2 174 L465.5 176.5 M519.8 105.9 L518.1 107.5 L515.9 109.1 L513.6 110.8 L511.4 112.5 L509.8 114.2 L508.9 115.9 L509 117.7 L509.9 119.5 L511.3 121.3 L513 123.1 L514.3 124.9 L515 126.8 L514.7 128.6 L513.3 130.6 L511 132.5 L508.3 134.4 L505.7 136.4 L503.7 138.4 L502.8 140.4 L503.1 142.5 L504.5 144.5 L506.4 146.7 L508.1 148.8 L508.9 150.9 L508.5 153.1 L506.6 155.3 L503.7 157.6 L500.5 159.9 L498 162.2 L496.8 164.5 L497.2 166.9 L498.9 169.3 L501.1 171.7 L502.7 174.2 L502.7 176.7 L500.9 179.2 L497.6 181.8 L494 184.4 M517.1 105.9 L518.4 107.5 L519.2 109.1 L519.2 110.8 L518.4 112.5 L516.8 114.2 L514.5 115.9 L512.1 117.7 L509.8 119.5 L508 121.3 L507.1 123.1 L507.2 124.9 L508.2 126.8 L509.8 128.6 L511.5 130.6 L512.8 132.5 L513.2 134.4 L512.5 136.4 L510.7 138.4 L508.1 140.4 L505.2 142.5 L502.7 144.5 L501.3 146.7 L501.1 148.8 L502.2 150.9 L504.1 153.1 L506 155.3 L507.1 157.6 L506.9 159.9 L505.1 162.2 L502.1 164.5 L498.8 166.9 L496.2 169.3 L495 171.7 L495.5 174.2 L497.4 176.7 L499.7 179.2 L501 181.8 L500.6 184.4 M543.1 101.8 L541.6 103.4 L539.7 105 L537.6 106.6 L535.5 108.2 L533.9 109.8 L533 111.5 L532.8 113.2 L533.5 114.9 L534.9 116.6 L536.5 118.3 L538.2 120.1 L539.4 121.9 L539.8 123.7 L539.2 125.5 L537.7 127.3 L535.5 129.2 L533 131.1 L530.7 133 L529.1 134.9 L528.6 136.9 L529.2 138.9 L530.8 140.9 L532.8 142.9 L534.6 145 L535.5 147.1 L535.3 149.2 L533.7 151.3 L531.2 153.5 L528.3 155.7 L525.8 157.9 L524.5 160.1 L524.7 162.4 L526.3 164.7 L528.6 167.1 L530.6 169.4 L531.4 171.9 L530.6 174.3 L528.1 176.8 L524.8 179.3 L521.8 181.8 L520.3 184.4 L520.8 187 L522.9 189.7 L525.5 192.4 L527.1 195.1 M540 101.8 L541.4 103.4 L542.4 105 L542.7 106.6 L542.3 108.2 L541.1 109.8 L539.2 111.5 L537 113.2 L534.8 114.9 L533 116.6 L531.8 118.3 L531.6 120.1 L532.2 121.9 L533.6 123.7 L535.4 125.5 L537.1 127.3 L538.3 129.2 L538.5 131.1 L537.7 133 L535.9 134.9 L533.4 136.9 L530.8 138.9 L528.7 140.9 L527.5 142.9 L527.6 145 L528.8 147.1 L530.7 149.2 L532.8 151.3 L534.1 153.5 L534.3 155.7 L533 157.9 L530.5 160.1 L527.5 162.4 L524.8 164.7 L523.3 167.1 L523.5 169.4 L525.1 171.9 L527.5 174.3 L529.5 176.8 L530.2 179.3 L529 181.8 L526.2 184.4 L522.7 187 L520 189.7 L519 192.4 L520.2 195.1 M564.5 98.7 L563 100.2 L561.2 101.8 L559.2 103.3 L557.5 104.9 L556.2 106.5 L555.6 108.1 L555.8 109.7 L556.7 111.3 L558.2 113 L560 114.7 L561.7 116.4 L563 118.1 L563.5 119.8 L563.1 121.6 L561.8 123.4 L559.8 125.2 L557.5 127 L555.4 128.8 L553.9 130.7 L553.3 132.6 L553.7 134.5 L555.2 136.4 L557.1 138.4 L559.2 140.3 L560.7 142.3 L561.1 144.4 L560.3 146.4 L558.4 148.5 L555.9 150.6 L553.3 152.7 L551.5 154.9 L550.9 157.1 L551.8 159.3 L553.8 161.5 L556.2 163.8 L558.1 166.1 L558.8 168.5 L557.8 170.8 L555.4 173.2 L552.4 175.6 L549.8 178.1 L548.6 180.6 L549.2 183.1 L551.4 185.7 L554.2 188.3 L556.1 191 L556.2 193.6 L554.2 196.4 L550.9 199.1 L547.8 201.9 M562.8 98.7 L564.1 100.2 L564.9 101.8 L565.1 103.3 L564.5 104.9 L563.2 106.5 L561.4 108.1 L559.4 109.7 L557.5 111.3 L555.9 113 L555 114.7 L555 116.4 L555.8 118.1 L557.3 119.8 L559.1 121.6 L560.9 123.4 L562.3 125.2 L562.8 127 L562.3 128.8 L560.9 130.7 L558.7 132.6 L556.3 134.5 L554.2 136.4 L552.9 138.4 L552.6 140.3 L553.5 142.3 L555.3 144.4 L557.5 146.4 L559.4 148.5 L560.4 150.6 L560.1 152.7 L558.5 154.9 L555.9 157.1 L553.2 159.3 L551.1 161.5 L550.2 163.8 L550.9 166.1 L552.9 168.5 L555.4 170.8 L557.4 173.2 L558.1 175.6 L557 178.1 L554.4 180.6 L551.2 183.1 L548.7 185.7 L547.9 188.3 L549.1 191 L551.6 193.6 L554.3 196.4 L555.7 199.1 L554.9 201.9 M585.4 95 L584.1 96.5 L582.4 98 L580.6 99.5 L579 101 L577.9 102.5 L577.4 104 L577.5 105.6 L578.4 107.2 L579.9 108.8 L581.7 110.4 L583.5 112 L585 113.7 L585.9 115.3 L586 117 L585.2 118.7 L583.7 120.4 L581.8 122.2 L579.7 123.9 L578 125.7 L577 127.5 L576.9 129.4 L577.8 131.2 L579.5 133.1 L581.6 135 L583.7 136.9 L585.1 138.8 L585.5 140.8 L584.8 142.8 L583 144.8 L580.7 146.8 L578.3 148.9 L576.7 151 L576.3 153.1 L577.1 155.2 L579.1 157.4 L581.6 159.6 L583.8 161.8 L584.9 164.1 L584.6 166.3 L582.8 168.6 L580.1 171 L577.5 173.4 L575.9 175.8 L575.9 178.2 L577.7 180.7 L580.4 183.2 L583 185.7 L584.4 188.3 L583.8 190.9 L581.4 193.6 L578.3 196.3 L575.8 199 L575.2 201.7 L576.8 204.6 L579.9 207.4 L582.8 210.3 L583.9 213.2 M584 95 L585.3 96.5 L586.2 98 L586.4 99.5 L586 101 L585 102.5 L583.4 104 L581.6 105.6 L579.8 107.2 L578.3 108.8 L577.4 110.4 L577.2 112 L577.9 113.7 L579.2 115.3 L581 117 L582.9 118.7 L584.6 120.4 L585.7 122.2 L585.9 123.9 L585.1 125.7 L583.6 127.5 L581.5 129.4 L579.3 131.2 L577.6 133.1 L576.7 135 L576.9 136.9 L578.1 138.8 L580 140.8 L582.3 142.8 L584.2 144.8 L585.3 146.8 L585.1 148.9 L583.7 151 L581.5 153.1 L579 155.2 L577 157.4 L576.1 159.6 L576.7 161.8 L578.5 164.1 L581.1 166.3 L583.4 168.6 L584.7 171 L584.4 173.4 L582.6 175.8 L579.8 178.2 L577.1 180.7 L575.6 183.2 L576 185.7 L578.1 188.3 L581 190.9 L583.4 193.6 L584.2 196.3 L582.9 199 L580 201.7 L576.8 204.6 L575.1 207.4 L575.7 210.3 L578.3 213.2 M604.6 92.2 L603.2 93.6 L601.6 95.1 L600 96.5 L598.8 98 L598.1 99.4 L598.1 100.9 L598.7 102.4 L599.9 104 L601.6 105.5 L603.5 107.1 L605.3 108.6 L606.7 110.2 L607.5 111.8 L607.6 113.5 L606.8 115.1 L605.4 116.8 L603.6 118.5 L601.7 120.2 L600.2 121.9 L599.3 123.6 L599.4 125.4 L600.3 127.2 L602 129 L604.2 130.8 L606.3 132.6 L608 134.5 L608.8 136.4 L608.5 138.3 L607.3 140.2 L605.3 142.2 L603.1 144.2 L601.3 146.2 L600.5 148.2 L600.8 150.3 L602.4 152.4 L604.8 154.5 L607.3 156.6 L609.3 158.8 L610 160.9 L609.4 163.2 L607.5 165.4 L605 167.7 L602.8 170 L601.7 172.3 L602.2 174.7 L604.2 177.1 L607 179.5 L609.7 182 L611.2 184.5 L610.8 187 L608.7 189.6 L605.9 192.2 L603.5 194.8 L602.9 197.5 L604.3 200.2 L607.4 203 L610.6 205.8 L612.4 208.6 L611.8 211.5 L609.3 214.4 L606.1 217.3 L604.2 220.3 L604.8 223.4 M605.1 92.2 L606.2 93.6 L606.7 95.1 L606.7 96.5 L606 98 L604.8 99.4 L603.3 100.9 L601.6 102.4 L600 104 L598.9 105.5 L598.4 107.1 L598.6 108.6 L599.6 110.2 L601.1 111.8 L603 113.5 L605 115.1 L606.6 116.8 L607.7 118.5 L608 120.2 L607.4 121.9 L606 123.6 L604.1 125.4 L602.2 127.2 L600.6 129 L599.7 130.8 L599.8 132.6 L600.8 134.5 L602.7 136.4 L605 138.3 L607.2 140.2 L608.7 142.2 L609.2 144.2 L608.5 146.2 L606.8 148.2 L604.5 150.3 L602.4 152.4 L601 154.5 L600.9 156.6 L602.1 158.8 L604.4 160.9 L607.1 163.2 L609.3 165.4 L610.4 167.7 L609.9 170 L608 172.3 L605.5 174.7 L603.1 177.1 L602 179.5 L602.6 182 L604.9 184.5 L607.9 187 L610.5 189.6 L611.6 192.2 L610.7 194.8 L608.2 197.5 L605.3 200.2 L603.4 203 L603.6 205.8 L606 208.6 L609.4 211.5 L612.2 214.4 L612.7 217.3 L610.8 220.3 L607.5 223.4 M618.6 93.7 L617.9 95.1 L617.7 96.5 L618.1 98 L619.2 99.4 L620.7 100.9 L622.6 102.4 L624.5 103.9 L626.2 105.4 L627.5 107 L628.2 108.5 L628.1 110.1 L627.3 111.7 L625.9 113.3 L624.3 114.9 L622.6 116.6 L621.3 118.2 L620.7 119.9 L620.8 121.6 L621.9 123.3 L623.7 125.1 L625.8 126.8 L628.1 128.6 L629.9 130.4 L631 132.2 L631 134.1 L630.1 135.9 L628.5 137.8 L626.5 139.7 L624.7 141.7 L623.7 143.6 L623.7 145.6 L624.9 147.6 L627 149.6 L629.6 151.7 L632 153.7 L633.7 155.8 L634 158 L633.1 160.1 L631.1 162.3 L628.8 164.5 L627 166.8 L626.5 169 L627.5 171.3 L629.8 173.6 L632.8 176 L635.4 178.4 L636.9 180.8 L636.6 183.3 L634.7 185.8 L632.1 188.3 L630 190.8 L629.4 193.4 L630.8 196 L633.8 198.7 L637.2 201.4 L639.5 204.2 L639.7 206.9 L637.8 209.8 L634.9 212.6 L632.7 215.5 L632.6 218.5 L635 221.5 M625.8 93.7 L624.9 95.1 L623.6 96.5 L622.1 98 L620.6 99.4 L619.4 100.9 L618.7 102.4 L618.6 103.9 L619.2 105.4 L620.5 107 L622.2 108.5 L624.2 110.1 L626.2 111.7 L627.8 113.3 L628.8 114.9 L629 116.6 L628.5 118.2 L627.2 119.9 L625.5 121.6 L623.8 123.3 L622.3 125.1 L621.5 126.8 L621.7 128.6 L622.7 130.4 L624.6 132.2 L626.9 134.1 L629.2 135.9 L631 137.8 L631.9 139.7 L631.7 141.7 L630.5 143.6 L628.7 145.6 L626.6 147.6 L625 149.6 L624.4 151.7 L625 153.7 L626.9 155.8 L629.5 158 L632.2 160.1 L634.2 162.3 L634.9 164.5 L634.2 166.8 L632.3 169 L630 171.3 L628 173.6 L627.3 176 L628.3 178.4 L630.7 180.8 L633.9 183.3 L636.5 185.8 L637.8 188.3 L637.2 190.8 L635 193.4 L632.3 196 L630.5 198.7 L630.6 201.4 L632.7 204.2 L636.1 206.9 L639.3 209.8 L640.7 212.6 L639.8 215.5 L637 218.5 L634.2 221.5 M642.9 99.4 L644.8 100.9 L646.3 102.4 L647.4 103.8 L647.8 105.4 L647.5 106.9 L646.7 108.4 L645.3 110 L643.8 111.5 L642.4 113.1 L641.4 114.7 L641 116.4 L641.4 118 L642.6 119.7 L644.5 121.3 L646.8 123 L649 124.8 L650.9 126.5 L652.1 128.3 L652.4 130 L651.8 131.8 L650.4 133.6 L648.6 135.5 L647 137.3 L645.8 139.2 L645.7 141.1 L646.6 143 L648.5 145 L651 147 L653.7 149 L655.8 151 L656.9 153 L656.8 155.1 L655.5 157.2 L653.6 159.3 L651.6 161.5 L650.4 163.6 L650.4 165.8 L651.9 168.1 L654.6 170.3 L657.6 172.6 L660.2 174.9 L661.5 177.3 L661.2 179.7 L659.5 182.1 L657.1 184.5 L655.3 187 L654.9 189.5 L656.3 192.1 L659.4 194.6 L662.8 197.3 L665.5 199.9 L666.2 202.6 L664.9 205.3 L662.3 208.1 L660 210.9 L659.5 213.8 M637.7 99.4 L638.1 100.9 L639.2 102.4 L640.7 103.8 L642.7 105.4 L644.7 106.9 L646.6 108.4 L648.1 110 L649 111.5 L649.1 113.1 L648.5 114.7 L647.3 116.4 L645.8 118 L644.2 119.7 L643 121.3 L642.4 123 L642.6 124.8 L643.8 126.5 L645.6 128.3 L648 130 L650.3 131.8 L652.3 133.6 L653.5 135.5 L653.7 137.3 L652.9 139.2 L651.4 141.1 L649.5 143 L647.9 145 L647 147 L647.2 149 L648.7 151 L651 153 L653.8 155.1 L656.3 157.2 L658 159.3 L658.3 161.5 L657.4 163.6 L655.4 165.8 L653.3 168.1 L651.8 170.3 L651.7 172.6 L653.1 174.9 L655.7 177.3 L658.9 179.7 L661.6 182.1 L662.9 184.5 L662.4 187 L660.5 189.5 L658.1 192.1 L656.4 194.6 L656.4 197.3 L658.5 199.9 L661.9 202.6 L665.3 205.3 L667.4 208.1 L667.2 210.9 L665.1 213.8 M665 105.3 L663.7 106.8 L662.3 108.3 L661.2 109.8 L660.5 111.4 L660.5 113 L661.2 114.6 L662.6 116.2 L664.6 117.8 L666.9 119.4 L669.2 121.1 L671.1 122.8 L672.3 124.5 L672.7 126.2 L672.3 127.9 L671.1 129.7 L669.5 131.4 L668 133.2 L666.9 135 L666.7 136.9 L667.4 138.7 L669.2 140.6 L671.6 142.5 L674.3 144.4 L676.8 146.4 L678.4 148.3 L679 150.3 L678.4 152.3 L676.9 154.4 L675 156.4 L673.5 158.5 L672.9 160.6 L673.6 162.8 L675.6 165 L678.6 167.2 L681.7 169.4 L684.1 171.6 L685.2 173.9 L684.8 176.2 L683.1 178.6 L681 180.9 L679.4 183.3 L679.3 185.8 L680.9 188.2 L684 190.7 L687.6 193.3 L690.4 195.9 L691.5 198.5 L690.6 201.1 L688.4 203.8 M666.3 105.3 L667.6 106.8 L668.2 108.3 L668.2 109.8 L667.5 111.4 L666.3 113 L664.9 114.6 L663.6 116.2 L662.6 117.8 L662.2 119.4 L662.7 121.1 L663.9 122.8 L665.9 124.5 L668.3 126.2 L670.7 127.9 L672.8 129.7 L674.1 131.4 L674.6 133.2 L674.1 135 L672.8 136.9 L671.2 138.7 L669.6 140.6 L668.6 142.5 L668.6 144.4 L669.7 146.4 L671.8 148.3 L674.5 150.3 L677.3 152.3 L679.5 154.4 L680.7 156.4 L680.6 158.5 L679.4 160.6 L677.5 162.8 L675.7 165 L674.8 167.2 L675.1 169.4 L677 171.6 L679.9 173.9 L683.2 176.2 L685.8 178.6 L687 180.9 L686.6 183.3 L684.8 185.8 L682.6 188.2 L681.1 190.7 L681.3 193.3 L683.3 195.9 L686.7 198.5 L690.3 201.1 L692.8 203.8 M680.2 111.2 L681.9 112.8 L684.1 114.4 L686.4 116 L688.7 117.6 L690.5 119.2 L691.7 120.8 L692.1 122.5 L691.7 124.2 L690.7 125.8 L689.3 127.6 L687.9 129.3 L686.9 131 L686.7 132.8 L687.4 134.6 L689.1 136.4 L691.5 138.2 L694.2 140.1 L696.8 142 L698.8 143.9 L699.9 145.8 L699.8 147.7 L698.8 149.7 L697.2 151.7 L695.6 153.7 L694.6 155.7 L694.8 157.8 L696.2 159.9 L698.7 162 L701.8 164.1 L704.8 166.3 L707 168.4 L707.8 170.7 L707.2 172.9 L705.6 175.2 L703.7 177.5 L702.5 179.8 L702.7 182.2 L704.6 184.6 L707.8 187 L711.4 189.5 L714.3 192 L715.6 194.5 L715.1 197 M683.1 111.2 L681.9 112.8 L681.2 114.4 L681.2 116 L681.9 117.6 L683.4 119.2 L685.5 120.8 L687.9 122.5 L690.3 124.2 L692.4 125.8 L693.8 127.6 L694.4 129.3 L694.1 131 L693 132.8 L691.6 134.6 L690.2 136.4 L689.2 138.2 L689 140.1 L689.9 142 L691.8 143.9 L694.4 145.8 L697.3 147.7 L699.9 149.7 L701.6 151.7 L702.3 153.7 L701.7 155.7 L700.3 157.8 L698.6 159.9 L697.2 162 L696.9 164.1 L697.9 166.3 L700.2 168.4 L703.4 170.7 L706.6 172.9 L709 175.2 L710.1 177.5 L709.6 179.8 L707.9 182.2 L706 184.6 L704.8 187 L705.1 189.5 L707.3 192 L710.7 194.5 L714.4 197 M709.8 116.6 L710.5 118.1 L710.4 119.8 L709.7 121.4 L708.6 123 L707.3 124.7 L706.3 126.4 L705.8 128.1 L706.1 129.8 L707.3 131.5 L709.4 133.3 L712 135.1 L714.8 136.9 L717.3 138.7 L719.1 140.5 L719.9 142.4 L719.8 144.2 L718.8 146.2 L717.3 148.1 L716 150 L715.2 152 L715.5 154 L717.1 156 L719.6 158 L722.8 160.1 L725.9 162.2 L728.2 164.3 L729.4 166.5 L729.1 168.6 L727.8 170.8 L726.1 173.1 L724.9 175.3 L724.8 177.6 L726.2 179.9 L729.1 182.2 L732.7 184.6 L736.1 187 L738.3 189.4 M703.2 116.6 L705.6 118.1 L708.1 119.8 L710.3 121.4 L712.1 123 L713.1 124.7 L713.3 126.4 L712.7 128.1 L711.6 129.8 L710.2 131.5 L709.1 133.3 L708.5 135.1 L708.9 136.9 L710.2 138.7 L712.3 140.5 L715.1 142.4 L718 144.2 L720.5 146.2 L722.2 148.1 L722.8 150 L722.3 152 L721 154 L719.4 156 L718.3 158 L718 160.1 L719 162.2 L721.3 164.3 L724.4 166.5 L727.7 168.6 L730.5 170.8 L732 173.1 L732 175.3 L730.8 177.6 L729.1 179.9 L727.7 182.2 L727.5 184.6 L729 187 L732 189.4 M724.2 122.8 L723.9 124.4 L724.4 126.1 L725.8 127.7 L727.9 129.4 L730.5 131.1 L733.3 132.9 L735.8 134.6 L737.8 136.4 L738.9 138.2 L739 140 L738.3 141.8 L737.1 143.7 L735.9 145.6 L735 147.5 L735.1 149.4 L736.2 151.3 L738.4 153.3 L741.4 155.3 L744.6 157.3 L747.5 159.3 L749.4 161.4 L750.1 163.5 L749.5 165.6 L748.2 167.7 L746.7 169.9 L745.9 172.1 L746.3 174.3 L748.2 176.5 L751.4 178.8 L755.1 181.1 L758.4 183.4 M731.3 122.8 L730.8 124.4 L729.8 126.1 L728.6 127.7 L727.6 129.4 L727.2 131.1 L727.5 132.9 L728.8 134.6 L730.9 136.4 L733.6 138.2 L736.6 140 L739.2 141.8 L741.2 143.7 L742.2 145.6 L742.2 147.5 L741.3 149.4 L740 151.3 L738.7 153.3 L738.1 155.3 L738.6 157.3 L740.3 159.3 L743.1 161.4 L746.4 163.5 L749.6 165.6 L752.1 167.7 L753.2 169.9 L753 172.1 L751.8 174.3 L750.2 176.5 L749.2 178.8 L749.4 181.1 L751.3 183.4 M751.2 129.1 L753.7 130.8 L755.8 132.5 L757 134.2 L757.3 136 L756.8 137.7 L755.8 139.5 L754.7 141.3 L753.9 143.2 L753.8 145 L754.7 146.9 L756.6 148.8 L759.4 150.7 L762.6 152.6 L765.7 154.6 L768.2 156.6 L769.6 158.6 L769.8 160.6 L768.9 162.7 L767.6 164.7 L766.5 166.9 L766.2 169 L767.2 171.1 L769.6 173.3 L773 175.5 L776.7 177.8 M745.3 129.1 L746.7 130.8 L748.8 132.5 L751.6 134.2 L754.5 136 L757.2 137.7 L759.4 139.5 L760.7 141.3 L761 143.2 L760.4 145 L759.3 146.9 L758.1 148.8 L757.4 150.7 L757.6 152.6 L758.8 154.6 L761.2 156.6 L764.4 158.6 L767.8 160.6 L770.7 162.7 L772.7 164.7 L773.5 166.9 L773 169 L771.7 171.1 L770.4 173.3 L769.8 175.5 L770.5 177.8 M774 134.7 L773 136.4 L772.1 138.2 L771.6 139.9 L771.9 141.7 L773.2 143.6 L775.4 145.4 L778.3 147.2 L781.6 149.1 L784.7 151 L787 152.9 L788.4 154.9 L788.6 156.9 L787.9 158.8 L786.8 160.9 L785.8 162.9 L785.6 165 L786.5 167 L788.8 169.2 L792.1 171.3 M775.8 134.7 L777.7 136.4 L778.6 138.2 L778.7 139.9 L778.1 141.7 L777 143.6 L776.1 145.4 L775.7 147.2 L776.1 149.1 L777.6 151 L780.2 152.9 L783.4 154.9 L786.8 156.9 L789.8 158.8 L791.8 160.9 L792.7 162.9 L792.5 165 L791.4 167 L790.2 169.2 L789.6 171.3 M792.3 141.2 L795.1 143 L798.4 144.8 L801.5 146.7 L804.2 148.5 L805.9 150.4 L806.6 152.3 L806.4 154.2 L805.5 156.2 L804.5 158.1 L804 160.1 L804.4 162.1 L806.1 164.1 L808.9 166.2 M793.5 141.2 L793.1 143 L793.4 144.8 L794.8 146.7 L797.1 148.5 L800.1 150.4 L803.5 152.3 L806.8 154.2 L809.3 156.2 L810.8 158.1 L811.1 160.1 L810.6 162.1 L809.5 164.1 L808.7 166.2 M823.2 147 L823.8 148.9 L823.5 150.7 L822.7 152.6 L821.9 154.5 L821.6 156.4 L822.2 158.4 L823.9 160.3 M818 147 L821.4 148.9 L824.5 150.7 L826.9 152.6 L828.4 154.5 L828.7 156.4 L828.2 158.4 L827.3 160.3" fill="none" stroke="#bfc0c4" stroke-width="0.75"/><ellipse cx="362.3" cy="134.6" rx="12.4" ry="4.2" fill="#d6d7da"/><ellipse cx="362.8" cy="135.1" rx="8.7" ry="2.3" fill="#c3c4c8"/><path d="M353 135 Q362.3 139.8 371.6 135" fill="none" stroke="#a9aaae" stroke-width="0.9"/><path d="M354.9 131.4 Q362.3 129.3 369.8 131.4" fill="none" stroke="#fbfbfb" stroke-width="1.2"/><ellipse cx="428.3" cy="123.7" rx="12" ry="4.1" fill="#d6d7da"/><ellipse cx="428.8" cy="124.3" rx="8.4" ry="2.2" fill="#c3c4c8"/><path d="M419.3 124.1 Q428.3 128.8 437.3 124.1" fill="none" stroke="#a9aaae" stroke-width="0.9"/><path d="M421.1 120.7 Q428.3 118.6 435.5 120.7" fill="none" stroke="#fbfbfb" stroke-width="1.2"/><ellipse cx="487" cy="114.1" rx="11.6" ry="4" fill="#d6d7da"/><ellipse cx="487.4" cy="114.6" rx="8.1" ry="2.2" fill="#c3c4c8"/><path d="M478.3 114.5 Q487 119.1 495.7 114.5" fill="none" stroke="#a9aaae" stroke-width="0.9"/><path d="M480 111.1 Q487 109.2 494 111.1" fill="none" stroke="#fbfbfb" stroke-width="1.2"/><ellipse cx="539.5" cy="105.5" rx="11.2" ry="3.8" fill="#d6d7da"/><ellipse cx="539.9" cy="106" rx="7.9" ry="2.1" fill="#c3c4c8"/><path d="M531 105.9 Q539.5 110.3 547.9 105.9" fill="none" stroke="#a9aaae" stroke-width="0.9"/><path d="M532.7 102.6 Q539.5 100.7 546.2 102.6" fill="none" stroke="#fbfbfb" stroke-width="1.2"/><ellipse cx="586.7" cy="97.8" rx="10.9" ry="3.7" fill="#d6d7da"/><ellipse cx="587.1" cy="98.3" rx="7.6" ry="2" fill="#c3c4c8"/><path d="M578.5 98.1 Q586.7 102.4 594.8 98.1" fill="none" stroke="#a9aaae" stroke-width="0.9"/><path d="M580.1 95 Q586.7 93.1 593.2 95" fill="none" stroke="#fbfbfb" stroke-width="1.2"/><ellipse cx="417.2" cy="135.6" rx="12.5" ry="4.2" fill="#d6d7da"/><ellipse cx="417.7" cy="136.2" rx="8.7" ry="2.3" fill="#c3c4c8"/><path d="M407.9 136 Q417.2 140.9 426.5 136" fill="none" stroke="#a9aaae" stroke-width="0.9"/><path d="M409.7 132.4 Q417.2 130.3 424.7 132.4" fill="none" stroke="#fbfbfb" stroke-width="1.2"/><ellipse cx="478.8" cy="124.9" rx="12" ry="4.1" fill="#d6d7da"/><ellipse cx="479.2" cy="125.5" rx="8.4" ry="2.3" fill="#c3c4c8"/><path d="M469.8 125.4 Q478.8 130.1 487.8 125.4" fill="none" stroke="#a9aaae" stroke-width="0.9"/><path d="M471.6 121.9 Q478.8 119.8 486 121.9" fill="none" stroke="#fbfbfb" stroke-width="1.2"/><ellipse cx="533.6" cy="115.4" rx="11.6" ry="4" fill="#d6d7da"/><ellipse cx="534" cy="116" rx="8.1" ry="2.2" fill="#c3c4c8"/><path d="M524.9 115.8 Q533.6 120.4 542.3 115.8" fill="none" stroke="#a9aaae" stroke-width="0.9"/><path d="M526.6 112.5 Q533.6 110.5 540.6 112.5" fill="none" stroke="#fbfbfb" stroke-width="1.2"/><ellipse cx="582.7" cy="106.9" rx="11.2" ry="3.8" fill="#d6d7da"/><ellipse cx="583.2" cy="107.4" rx="7.9" ry="2.1" fill="#c3c4c8"/><path d="M574.3 107.3 Q582.7 111.7 591.2 107.3" fill="none" stroke="#a9aaae" stroke-width="0.9"/><path d="M576 104 Q582.7 102.1 589.5 104" fill="none" stroke="#fbfbfb" stroke-width="1.2"/><ellipse cx="627" cy="99.2" rx="10.9" ry="3.7" fill="#d6d7da"/><ellipse cx="627.4" cy="99.7" rx="7.6" ry="2" fill="#c3c4c8"/><path d="M618.9 99.6 Q627 103.9 635.2 99.6" fill="none" stroke="#a9aaae" stroke-width="0.9"/><path d="M620.5 96.5 Q627 94.6 633.6 96.5" fill="none" stroke="#fbfbfb" stroke-width="1.2"/><ellipse cx="405.1" cy="148.5" rx="12.9" ry="4.4" fill="#d6d7da"/><ellipse cx="405.6" cy="149.1" rx="9.1" ry="2.4" fill="#c3c4c8"/><path d="M395.4 149 Q405.1 154 414.8 149" fill="none" stroke="#a9aaae" stroke-width="0.9"/><path d="M397.4 145.2 Q405.1 143 412.9 145.2" fill="none" stroke="#fbfbfb" stroke-width="1.2"/><ellipse cx="469.9" cy="136.7" rx="12.5" ry="4.3" fill="#d6d7da"/><ellipse cx="470.4" cy="137.2" rx="8.7" ry="2.3" fill="#c3c4c8"/><path d="M460.5 137.1 Q469.9 142 479.3 137.1" fill="none" stroke="#a9aaae" stroke-width="0.9"/><path d="M462.4 133.5 Q469.9 131.3 477.4 133.5" fill="none" stroke="#fbfbfb" stroke-width="1.2"/><ellipse cx="527.3" cy="126.1" rx="12.1" ry="4.1" fill="#d6d7da"/><ellipse cx="527.8" cy="126.7" rx="8.4" ry="2.3" fill="#c3c4c8"/><path d="M518.3 126.5 Q527.3 131.3 536.3 126.5" fill="none" stroke="#a9aaae" stroke-width="0.9"/><path d="M520.1 123 Q527.3 121 534.5 123" fill="none" stroke="#fbfbfb" stroke-width="1.2"/><ellipse cx="578.5" cy="116.7" rx="11.6" ry="4" fill="#d6d7da"/><ellipse cx="579" cy="117.2" rx="8.1" ry="2.2" fill="#c3c4c8"/><path d="M569.8 117.1 Q578.5 121.7 587.3 117.1" fill="none" stroke="#a9aaae" stroke-width="0.9"/><path d="M571.6 113.7 Q578.5 111.8 585.5 113.7" fill="none" stroke="#fbfbfb" stroke-width="1.2"/><ellipse cx="624.6" cy="108.3" rx="11.2" ry="3.8" fill="#d6d7da"/><ellipse cx="625" cy="108.8" rx="7.9" ry="2.1" fill="#c3c4c8"/><path d="M616.1 108.7 Q624.6 113.1 633 108.7" fill="none" stroke="#a9aaae" stroke-width="0.9"/><path d="M617.8 105.4 Q624.6 103.5 631.3 105.4" fill="none" stroke="#fbfbfb" stroke-width="1.2"/><ellipse cx="460.3" cy="149.3" rx="13" ry="4.4" fill="#d6d7da"/><ellipse cx="460.8" cy="149.9" rx="9.1" ry="2.4" fill="#c3c4c8"/><path d="M450.5 149.8 Q460.3 154.9 470 149.8" fill="none" stroke="#a9aaae" stroke-width="0.9"/><path d="M452.5 146 Q460.3 143.8 468.1 146" fill="none" stroke="#fbfbfb" stroke-width="1.2"/><ellipse cx="520.5" cy="137.6" rx="12.5" ry="4.3" fill="#d6d7da"/><ellipse cx="521" cy="138.2" rx="8.8" ry="2.3" fill="#c3c4c8"/><path d="M511.1 138.1 Q520.5 143 529.9 138.1" fill="none" stroke="#a9aaae" stroke-width="0.9"/><path d="M513 134.4 Q520.5 132.3 528 134.4" fill="none" stroke="#fbfbfb" stroke-width="1.2"/><ellipse cx="574" cy="127.2" rx="12.1" ry="4.1" fill="#d6d7da"/><ellipse cx="574.5" cy="127.8" rx="8.4" ry="2.3" fill="#c3c4c8"/><path d="M565 127.7 Q574 132.4 583.1 127.7" fill="none" stroke="#a9aaae" stroke-width="0.9"/><path d="M566.8 124.2 Q574 122.1 581.3 124.2" fill="none" stroke="#fbfbfb" stroke-width="1.2"/><ellipse cx="621.9" cy="118" rx="11.6" ry="4" fill="#d6d7da"/><ellipse cx="622.3" cy="118.5" rx="8.2" ry="2.2" fill="#c3c4c8"/><path d="M613.2 118.3 Q621.9 122.9 630.6 118.3" fill="none" stroke="#a9aaae" stroke-width="0.9"/><path d="M614.9 115 Q621.9 113 628.9 115" fill="none" stroke="#fbfbfb" stroke-width="1.2"/><ellipse cx="665" cy="109.6" rx="11.2" ry="3.8" fill="#d6d7da"/><ellipse cx="665.4" cy="110.1" rx="7.9" ry="2.1" fill="#c3c4c8"/><path d="M656.5 110 Q665 114.4 673.4 110" fill="none" stroke="#a9aaae" stroke-width="0.9"/><path d="M658.2 106.7 Q665 104.8 671.7 106.7" fill="none" stroke="#fbfbfb" stroke-width="1.2"/><ellipse cx="449.8" cy="163.1" rx="13.5" ry="4.6" fill="#d6d7da"/><ellipse cx="450.3" cy="163.7" rx="9.5" ry="2.5" fill="#c3c4c8"/><path d="M439.7 163.6 Q449.8 168.9 459.9 163.6" fill="none" stroke="#a9aaae" stroke-width="0.9"/><path d="M441.7 159.7 Q449.8 157.4 457.9 159.7" fill="none" stroke="#fbfbfb" stroke-width="1.2"/><ellipse cx="513.2" cy="150.1" rx="13" ry="4.4" fill="#d6d7da"/><ellipse cx="513.6" cy="150.7" rx="9.1" ry="2.4" fill="#c3c4c8"/><path d="M503.4 150.5 Q513.2 155.6 522.9 150.5" fill="none" stroke="#a9aaae" stroke-width="0.9"/><path d="M505.4 146.8 Q513.2 144.6 521 146.8" fill="none" stroke="#fbfbfb" stroke-width="1.2"/><ellipse cx="569.2" cy="138.6" rx="12.5" ry="4.3" fill="#d6d7da"/><ellipse cx="569.6" cy="139.1" rx="8.8" ry="2.3" fill="#c3c4c8"/><path d="M559.8 139 Q569.2 143.9 578.6 139" fill="none" stroke="#a9aaae" stroke-width="0.9"/><path d="M561.7 135.4 Q569.2 133.3 576.7 135.4" fill="none" stroke="#fbfbfb" stroke-width="1.2"/><ellipse cx="619.1" cy="128.3" rx="12.1" ry="4.1" fill="#d6d7da"/><ellipse cx="619.5" cy="128.9" rx="8.4" ry="2.3" fill="#c3c4c8"/><path d="M610 128.7 Q619.1 133.5 628.1 128.7" fill="none" stroke="#a9aaae" stroke-width="0.9"/><path d="M611.8 125.2 Q619.1 123.2 626.3 125.2" fill="none" stroke="#fbfbfb" stroke-width="1.2"/><ellipse cx="663.8" cy="119.1" rx="11.6" ry="4" fill="#d6d7da"/><ellipse cx="664.2" cy="119.7" rx="8.1" ry="2.2" fill="#c3c4c8"/><path d="M655 119.5 Q663.8 124.1 672.5 119.5" fill="none" stroke="#a9aaae" stroke-width="0.9"/><path d="M656.8 116.2 Q663.8 114.2 670.8 116.2" fill="none" stroke="#fbfbfb" stroke-width="1.2"/><ellipse cx="505.2" cy="163.6" rx="13.5" ry="4.6" fill="#d6d7da"/><ellipse cx="505.7" cy="164.2" rx="9.5" ry="2.5" fill="#c3c4c8"/><path d="M495 164.1 Q505.2 169.4 515.3 164.1" fill="none" stroke="#a9aaae" stroke-width="0.9"/><path d="M497.1 160.2 Q505.2 157.9 513.3 160.2" fill="none" stroke="#fbfbfb" stroke-width="1.2"/><ellipse cx="563.9" cy="150.8" rx="13" ry="4.4" fill="#d6d7da"/><ellipse cx="564.4" cy="151.4" rx="9.1" ry="2.4" fill="#c3c4c8"/><path d="M554.2 151.3 Q563.9 156.4 573.7 151.3" fill="none" stroke="#a9aaae" stroke-width="0.9"/><path d="M556.1 147.5 Q563.9 145.3 571.7 147.5" fill="none" stroke="#fbfbfb" stroke-width="1.2"/><ellipse cx="616" cy="139.5" rx="12.5" ry="4.3" fill="#d6d7da"/><ellipse cx="616.5" cy="140.1" rx="8.8" ry="2.3" fill="#c3c4c8"/><path d="M606.6 139.9 Q616 144.8 625.4 139.9" fill="none" stroke="#a9aaae" stroke-width="0.9"/><path d="M608.5 136.3 Q616 134.2 623.5 136.3" fill="none" stroke="#fbfbfb" stroke-width="1.2"/><ellipse cx="662.5" cy="129.4" rx="12.1" ry="4.1" fill="#d6d7da"/><ellipse cx="662.9" cy="129.9" rx="8.4" ry="2.3" fill="#c3c4c8"/><path d="M653.4 129.8 Q662.5 134.5 671.5 129.8" fill="none" stroke="#a9aaae" stroke-width="0.9"/><path d="M655.2 126.3 Q662.5 124.2 669.7 126.3" fill="none" stroke="#fbfbfb" stroke-width="1.2"/><ellipse cx="704.2" cy="120.3" rx="11.6" ry="4" fill="#d6d7da"/><ellipse cx="704.6" cy="120.8" rx="8.1" ry="2.2" fill="#c3c4c8"/><path d="M695.5 120.7 Q704.2 125.2 712.9 120.7" fill="none" stroke="#a9aaae" stroke-width="0.9"/><path d="M697.2 117.3 Q704.2 115.3 711.2 117.3" fill="none" stroke="#fbfbfb" stroke-width="1.2"/><ellipse cx="496.5" cy="178.4" rx="14.1" ry="4.8" fill="#d6d7da"/><ellipse cx="497" cy="179" rx="9.9" ry="2.6" fill="#c3c4c8"/><path d="M485.9 178.9 Q496.5 184.4 507.1 178.9" fill="none" stroke="#a9aaae" stroke-width="0.9"/><path d="M488 174.8 Q496.5 172.4 505 174.8" fill="none" stroke="#fbfbfb" stroke-width="1.2"/><ellipse cx="558.2" cy="164.1" rx="13.6" ry="4.6" fill="#d6d7da"/><ellipse cx="558.7" cy="164.7" rx="9.5" ry="2.5" fill="#c3c4c8"/><path d="M548.1 164.6 Q558.2 169.9 568.4 164.6" fill="none" stroke="#a9aaae" stroke-width="0.9"/><path d="M550.1 160.7 Q558.2 158.3 566.4 160.7" fill="none" stroke="#fbfbfb" stroke-width="1.2"/><ellipse cx="612.7" cy="151.6" rx="13" ry="4.4" fill="#d6d7da"/><ellipse cx="613.2" cy="152.1" rx="9.1" ry="2.4" fill="#c3c4c8"/><path d="M602.9 152 Q612.7 157.1 622.5 152" fill="none" stroke="#a9aaae" stroke-width="0.9"/><path d="M604.9 148.2 Q612.7 146 620.5 148.2" fill="none" stroke="#fbfbfb" stroke-width="1.2"/><ellipse cx="661.1" cy="140.4" rx="12.5" ry="4.3" fill="#d6d7da"/><ellipse cx="661.6" cy="140.9" rx="8.8" ry="2.3" fill="#c3c4c8"/><path d="M651.7 140.8 Q661.1 145.7 670.5 140.8" fill="none" stroke="#a9aaae" stroke-width="0.9"/><path d="M653.6 137.2 Q661.1 135 668.6 137.2" fill="none" stroke="#fbfbfb" stroke-width="1.2"/><ellipse cx="704.4" cy="130.4" rx="12.1" ry="4.1" fill="#d6d7da"/><ellipse cx="704.8" cy="130.9" rx="8.4" ry="2.3" fill="#c3c4c8"/><path d="M695.3 130.8 Q704.4 135.5 713.4 130.8" fill="none" stroke="#a9aaae" stroke-width="0.9"/><path d="M697.1 127.3 Q704.4 125.3 711.6 127.3" fill="none" stroke="#fbfbfb" stroke-width="1.2"/><ellipse cx="552.1" cy="178.6" rx="14.1" ry="4.8" fill="#d6d7da"/><ellipse cx="552.6" cy="179.2" rx="9.9" ry="2.6" fill="#c3c4c8"/><path d="M541.5 179 Q552.1 184.6 562.7 179" fill="none" stroke="#a9aaae" stroke-width="0.9"/><path d="M543.6 174.9 Q552.1 172.5 560.5 174.9" fill="none" stroke="#fbfbfb" stroke-width="1.2"/><ellipse cx="609.1" cy="164.6" rx="13.6" ry="4.6" fill="#d6d7da"/><ellipse cx="609.6" cy="165.2" rx="9.5" ry="2.5" fill="#c3c4c8"/><path d="M599 165.1 Q609.1 170.4 619.3 165.1" fill="none" stroke="#a9aaae" stroke-width="0.9"/><path d="M601 161.1 Q609.1 158.8 617.3 161.1" fill="none" stroke="#fbfbfb" stroke-width="1.2"/><ellipse cx="659.6" cy="152.2" rx="13" ry="4.4" fill="#d6d7da"/><ellipse cx="660.1" cy="152.8" rx="9.1" ry="2.4" fill="#c3c4c8"/><path d="M649.8 152.7 Q659.6 157.8 669.4 152.7" fill="none" stroke="#a9aaae" stroke-width="0.9"/><path d="M651.8 148.9 Q659.6 146.7 667.4 148.9" fill="none" stroke="#fbfbfb" stroke-width="1.2"/><ellipse cx="704.5" cy="141.2" rx="12.5" ry="4.3" fill="#d6d7da"/><ellipse cx="705" cy="141.8" rx="8.8" ry="2.3" fill="#c3c4c8"/><path d="M695.1 141.7 Q704.5 146.6 713.9 141.7" fill="none" stroke="#a9aaae" stroke-width="0.9"/><path d="M697 138 Q704.5 135.9 712 138" fill="none" stroke="#fbfbfb" stroke-width="1.2"/><ellipse cx="744.8" cy="131.4" rx="12" ry="4.1" fill="#d6d7da"/><ellipse cx="745.3" cy="131.9" rx="8.4" ry="2.3" fill="#c3c4c8"/><path d="M735.8 131.8 Q744.8 136.5 753.8 131.8" fill="none" stroke="#a9aaae" stroke-width="0.9"/><path d="M737.6 128.3 Q744.8 126.2 752 128.3" fill="none" stroke="#fbfbfb" stroke-width="1.2"/><ellipse cx="545.3" cy="194.3" rx="14.8" ry="5" fill="#d6d7da"/><ellipse cx="545.9" cy="195" rx="10.3" ry="2.8" fill="#c3c4c8"/><path d="M534.2 194.8 Q545.3 200.6 556.4 194.8" fill="none" stroke="#a9aaae" stroke-width="0.9"/><path d="M536.4 190.5 Q545.3 188 554.2 190.5" fill="none" stroke="#fbfbfb" stroke-width="1.2"/><ellipse cx="605.3" cy="178.7" rx="14.1" ry="4.8" fill="#d6d7da"/><ellipse cx="605.8" cy="179.4" rx="9.9" ry="2.7" fill="#c3c4c8"/><path d="M594.6 179.2 Q605.3 184.8 615.9 179.2" fill="none" stroke="#a9aaae" stroke-width="0.9"/><path d="M596.8 175.1 Q605.3 172.7 613.7 175.1" fill="none" stroke="#fbfbfb" stroke-width="1.2"/><ellipse cx="658" cy="165" rx="13.6" ry="4.6" fill="#d6d7da"/><ellipse cx="658.5" cy="165.6" rx="9.5" ry="2.5" fill="#c3c4c8"/><path d="M647.8 165.5 Q658 170.8 668.1 165.5" fill="none" stroke="#a9aaae" stroke-width="0.9"/><path d="M649.8 161.6 Q658 159.3 666.1 161.6" fill="none" stroke="#fbfbfb" stroke-width="1.2"/><ellipse cx="704.7" cy="152.9" rx="13" ry="4.4" fill="#d6d7da"/><ellipse cx="705.2" cy="153.5" rx="9.1" ry="2.4" fill="#c3c4c8"/><path d="M695 153.3 Q704.7 158.4 714.5 153.3" fill="none" stroke="#a9aaae" stroke-width="0.9"/><path d="M696.9 149.6 Q704.7 147.4 712.5 149.6" fill="none" stroke="#fbfbfb" stroke-width="1.2"/><ellipse cx="746.4" cy="142" rx="12.5" ry="4.3" fill="#d6d7da"/><ellipse cx="746.9" cy="142.6" rx="8.7" ry="2.3" fill="#c3c4c8"/><path d="M737 142.5 Q746.4 147.4 755.8 142.5" fill="none" stroke="#a9aaae" stroke-width="0.9"/><path d="M738.9 138.9 Q746.4 136.7 753.9 138.9" fill="none" stroke="#fbfbfb" stroke-width="1.2"/><ellipse cx="601" cy="194.2" rx="14.8" ry="5" fill="#d6d7da"/><ellipse cx="601.6" cy="194.8" rx="10.3" ry="2.8" fill="#c3c4c8"/><path d="M589.9 194.7 Q601 200.4 612.1 194.7" fill="none" stroke="#a9aaae" stroke-width="0.9"/><path d="M592.2 190.4 Q601 187.9 609.9 190.4" fill="none" stroke="#fbfbfb" stroke-width="1.2"/><ellipse cx="656.2" cy="178.9" rx="14.1" ry="4.8" fill="#d6d7da"/><ellipse cx="656.7" cy="179.5" rx="9.9" ry="2.6" fill="#c3c4c8"/><path d="M645.6 179.4 Q656.2 184.9 666.8 179.4" fill="none" stroke="#a9aaae" stroke-width="0.9"/><path d="M647.7 175.3 Q656.2 172.9 664.7 175.3" fill="none" stroke="#fbfbfb" stroke-width="1.2"/><ellipse cx="704.9" cy="165.5" rx="13.5" ry="4.6" fill="#d6d7da"/><ellipse cx="705.4" cy="166.1" rx="9.5" ry="2.5" fill="#c3c4c8"/><path d="M694.7 165.9 Q704.9 171.2 715 165.9" fill="none" stroke="#a9aaae" stroke-width="0.9"/><path d="M696.8 162 Q704.9 159.7 713 162" fill="none" stroke="#fbfbfb" stroke-width="1.2"/><ellipse cx="748.1" cy="153.5" rx="13" ry="4.4" fill="#d6d7da"/><ellipse cx="748.6" cy="154.1" rx="9.1" ry="2.4" fill="#c3c4c8"/><path d="M738.4 154 Q748.1 159 757.9 154" fill="none" stroke="#a9aaae" stroke-width="0.9"/><path d="M740.4 150.2 Q748.1 148 755.9 150.2" fill="none" stroke="#fbfbfb" stroke-width="1.2"/><ellipse cx="786.8" cy="142.8" rx="12.5" ry="4.2" fill="#d6d7da"/><ellipse cx="787.3" cy="143.4" rx="8.7" ry="2.3" fill="#c3c4c8"/><path d="M777.5 143.3 Q786.8 148.1 796.2 143.3" fill="none" stroke="#a9aaae" stroke-width="0.9"/><path d="M779.3 139.7 Q786.8 137.5 794.3 139.7" fill="none" stroke="#fbfbfb" stroke-width="1.2"/><ellipse cx="596.4" cy="211" rx="15.5" ry="5.3" fill="#d6d7da"/><ellipse cx="597" cy="211.7" rx="10.8" ry="2.9" fill="#c3c4c8"/><path d="M584.8 211.5 Q596.4 217.6 608 211.5" fill="none" stroke="#a9aaae" stroke-width="0.9"/><path d="M587.1 207.1 Q596.4 204.4 605.7 207.1" fill="none" stroke="#fbfbfb" stroke-width="1.2"/><ellipse cx="654.3" cy="194" rx="14.8" ry="5" fill="#d6d7da"/><ellipse cx="654.9" cy="194.7" rx="10.3" ry="2.8" fill="#c3c4c8"/><path d="M643.2 194.5 Q654.3 200.3 665.4 194.5" fill="none" stroke="#a9aaae" stroke-width="0.9"/><path d="M645.5 190.2 Q654.3 187.7 663.2 190.2" fill="none" stroke="#fbfbfb" stroke-width="1.2"/><ellipse cx="705.1" cy="179.1" rx="14.1" ry="4.8" fill="#d6d7da"/><ellipse cx="705.6" cy="179.7" rx="9.9" ry="2.6" fill="#c3c4c8"/><path d="M694.5 179.6 Q705.1 185.1 715.7 179.6" fill="none" stroke="#a9aaae" stroke-width="0.9"/><path d="M696.6 175.5 Q705.1 173.1 713.6 175.5" fill="none" stroke="#fbfbfb" stroke-width="1.2"/><ellipse cx="750" cy="165.9" rx="13.5" ry="4.6" fill="#d6d7da"/><ellipse cx="750.5" cy="166.5" rx="9.5" ry="2.5" fill="#c3c4c8"/><path d="M739.9 166.3 Q750 171.6 760.1 166.3" fill="none" stroke="#a9aaae" stroke-width="0.9"/><path d="M741.9 162.4 Q750 160.1 758.1 162.4" fill="none" stroke="#fbfbfb" stroke-width="1.2"/><ellipse cx="790" cy="154.1" rx="13" ry="4.4" fill="#d6d7da"/><ellipse cx="790.5" cy="154.7" rx="9.1" ry="2.4" fill="#c3c4c8"/><path d="M780.3 154.6 Q790 159.6 799.7 154.6" fill="none" stroke="#a9aaae" stroke-width="0.9"/><path d="M782.2 150.8 Q790 148.6 797.8 150.8" fill="none" stroke="#fbfbfb" stroke-width="1.2"/><ellipse cx="652.2" cy="210.5" rx="15.5" ry="5.3" fill="#d6d7da"/><ellipse cx="652.8" cy="211.1" rx="10.8" ry="2.9" fill="#c3c4c8"/><path d="M640.6 211 Q652.2 217 663.8 211" fill="none" stroke="#a9aaae" stroke-width="0.9"/><path d="M643 206.5 Q652.2 203.9 661.5 206.5" fill="none" stroke="#fbfbfb" stroke-width="1.2"/><ellipse cx="705.3" cy="193.8" rx="14.7" ry="5" fill="#d6d7da"/><ellipse cx="705.9" cy="194.5" rx="10.3" ry="2.8" fill="#c3c4c8"/><path d="M694.3 194.3 Q705.3 200.1 716.4 194.3" fill="none" stroke="#a9aaae" stroke-width="0.9"/><path d="M696.5 190.1 Q705.3 187.6 714.2 190.1" fill="none" stroke="#fbfbfb" stroke-width="1.2"/><ellipse cx="752" cy="179.2" rx="14.1" ry="4.8" fill="#d6d7da"/><ellipse cx="752.5" cy="179.9" rx="9.9" ry="2.6" fill="#c3c4c8"/><path d="M741.5 179.7 Q752 185.2 762.6 179.7" fill="none" stroke="#a9aaae" stroke-width="0.9"/><path d="M743.6 175.6 Q752 173.2 760.5 175.6" fill="none" stroke="#fbfbfb" stroke-width="1.2"/><ellipse cx="793.4" cy="166.3" rx="13.5" ry="4.6" fill="#d6d7da"/><ellipse cx="793.9" cy="166.9" rx="9.4" ry="2.5" fill="#c3c4c8"/><path d="M783.3 166.7 Q793.4 172 803.5 166.7" fill="none" stroke="#a9aaae" stroke-width="0.9"/><path d="M785.3 162.8 Q793.4 160.5 801.5 162.8" fill="none" stroke="#fbfbfb" stroke-width="1.2"/><ellipse cx="830.4" cy="154.7" rx="12.9" ry="4.4" fill="#d6d7da"/><ellipse cx="830.8" cy="155.3" rx="9" ry="2.4" fill="#c3c4c8"/><path d="M820.7 155.2 Q830.4 160.2 840 155.2" fill="none" stroke="#a9aaae" stroke-width="0.9"/><path d="M822.6 151.4 Q830.4 149.2 838.1 151.4" fill="none" stroke="#fbfbfb" stroke-width="1.2"/></g>
<path d="M336 133 L599 220.5 Q617 226.5 635 222 L847 153.5" fill="none" stroke="#d5d6d9" stroke-width="3"/>
<path d="M334 135.5 L599 223.5 Q617 229.5 635 225 L849 155.5" fill="none" stroke="#3a4462" stroke-width="2.1"/>
<line x1="794" y1="155" x2="923" y2="155" stroke="#2b2e36" stroke-width="2"/>
<circle cx="794" cy="155" r="3" fill="#1c1e23"/>
<line x1="804" y1="194" x2="923" y2="194" stroke="#2b2e36" stroke-width="2"/>
<circle cx="804" cy="194" r="3" fill="#1c1e23"/>
<line x1="709" y1="269" x2="923" y2="269" stroke="#2b2e36" stroke-width="2"/>
<circle cx="709" cy="269" r="3" fill="#1c1e23"/>
<line x1="545" y1="315.5" x2="923" y2="315.5" stroke="#2b2e36" stroke-width="2"/>
<circle cx="545" cy="315.5" r="3" fill="#1c1e23"/>
<line x1="680" y1="374.5" x2="923" y2="374.5" stroke="#2b2e36" stroke-width="2"/>
<circle cx="680" cy="374.5" r="3" fill="#1c1e23"/>
<circle cx="940.2" cy="155" r="15.9" fill="#fff" stroke="#111" stroke-width="2.4"/>
<path d="M-4.7 -7.3 H0.9 V8.7" transform="translate(940.3 155) scale(1.26)" fill="none" stroke="#111" stroke-width="3.10" stroke-linejoin="miter" stroke-miterlimit="3"/>
<circle cx="940.2" cy="194.2" r="15.9" fill="#fff" stroke="#111" stroke-width="2.4"/>
<path d="M-5.0 -5.3 C-4.4 -7.4 -2.5 -8.4 0 -8.4 C3.0 -8.4 4.7 -6.7 4.7 -4.6 C4.7 -3.2 4.0 -2.2 3.0 -1.2 L-4.0 6.4 M-6.1 6.5 H6.2" transform="translate(940.3 194.2) scale(1.26)" fill="none" stroke="#111" stroke-width="3.10" stroke-linejoin="miter" stroke-miterlimit="3"/>
<circle cx="940.2" cy="269.5" r="15.9" fill="#fff" stroke="#111" stroke-width="2.4"/>
<path d="M-5.5 -7.2 H4.9 L-0.6 -1.0 C3.2 -1.2 5.4 0.7 5.4 3.4 C5.4 6.2 3.1 7.5 0.1 7.5 C-2.3 7.5 -4.3 6.7 -5.6 5.2" transform="translate(940.3 269.5) scale(1.26)" fill="none" stroke="#111" stroke-width="3.10" stroke-linejoin="bevel" stroke-miterlimit="3"/>
<circle cx="940.2" cy="316" r="15.9" fill="#fff" stroke="#111" stroke-width="2.4"/>
<path d="M1.9 -8.5 L-4.9 2.9 M-6.1 2.9 H6.6 M3.5 -2.3 V8.4" transform="translate(940.3 316) scale(1.26)" fill="none" stroke="#111" stroke-width="3.10" stroke-linejoin="miter" stroke-miterlimit="3"/>
<circle cx="940.2" cy="374" r="15.9" fill="#fff" stroke="#111" stroke-width="2.4"/>
<path d="M6.0 -7.3 H-3.3 L-3.8 -0.5 C-2.6 -1.2 -1.1 -1.5 0.6 -1.5 C4.0 -1.5 6.1 0.5 6.1 3.3 C6.1 6.1 3.8 7.5 0.7 7.5 C-1.6 7.5 -3.5 6.8 -4.8 5.5" transform="translate(940.3 374) scale(1.26)" fill="none" stroke="#111" stroke-width="3.10" stroke-linejoin="miter" stroke-miterlimit="3"/>
<circle cx="285.6" cy="512.7" r="13.3" fill="none" stroke="#111" stroke-width="1.95"/>
<path d="M-4.7 -7.3 H0.9 V8.7" transform="translate(285.6 512.7) scale(1.0)" fill="none" stroke="#111" stroke-width="3.00" stroke-linejoin="miter" stroke-miterlimit="3"/>
<circle cx="285.6" cy="615.5" r="13.3" fill="none" stroke="#111" stroke-width="1.95"/>
<path d="M-5.0 -5.3 C-4.4 -7.4 -2.5 -8.4 0 -8.4 C3.0 -8.4 4.7 -6.7 4.7 -4.6 C4.7 -3.2 4.0 -2.2 3.0 -1.2 L-4.0 6.4 M-6.1 6.5 H6.2" transform="translate(285.6 615.5) scale(1.0)" fill="none" stroke="#111" stroke-width="3.00" stroke-linejoin="miter" stroke-miterlimit="3"/>
<circle cx="285.6" cy="717.7" r="13.3" fill="none" stroke="#111" stroke-width="1.95"/>
<path d="M-5.5 -7.2 H4.9 L-0.6 -1.0 C3.2 -1.2 5.4 0.7 5.4 3.4 C5.4 6.2 3.1 7.5 0.1 7.5 C-2.3 7.5 -4.3 6.7 -5.6 5.2" transform="translate(285.6 717.7) scale(1.0)" fill="none" stroke="#111" stroke-width="3.00" stroke-linejoin="bevel" stroke-miterlimit="3"/>
<circle cx="686" cy="513.7" r="13.3" fill="none" stroke="#111" stroke-width="1.95"/>
<path d="M1.9 -8.5 L-4.9 2.9 M-6.1 2.9 H6.6 M3.5 -2.3 V8.4" transform="translate(686 513.7) scale(1.0)" fill="none" stroke="#111" stroke-width="3.00" stroke-linejoin="miter" stroke-miterlimit="3"/>
<circle cx="686" cy="591" r="13.3" fill="none" stroke="#111" stroke-width="1.95"/>
<path d="M6.0 -7.3 H-3.3 L-3.8 -0.5 C-2.6 -1.2 -1.1 -1.5 0.6 -1.5 C4.0 -1.5 6.1 0.5 6.1 3.3 C6.1 6.1 3.8 7.5 0.7 7.5 C-1.6 7.5 -3.5 6.8 -4.8 5.5" transform="translate(686 591) scale(1.0)" fill="none" stroke="#111" stroke-width="3.00" stroke-linejoin="miter" stroke-miterlimit="3"/>
</svg>
<div class="t" style="left:304.5px;top:498.7px;letter-spacing:0.337px">Polyester and high density</div>
<div class="t" style="left:305.5px;top:523.5px;letter-spacing:0.773px">quilt foam for uniform com-</div>
<div class="t" style="left:306.5px;top:548.9px;letter-spacing:0.638px">fort and durability.</div>
<div class="t" style="left:304.5px;top:601px;letter-spacing:0.520px">High density body foam for</div>
<div class="t" style="left:305.5px;top:626.4px;letter-spacing:0.202px">pressure relief and personal-</div>
<div class="t" style="left:304.5px;top:652.3px;letter-spacing:0.606px">ized comfort.</div>
<div class="t" style="left:304.5px;top:704.1px;letter-spacing:0.625px">High density gel memory</div>
<div class="t" style="left:306.5px;top:729.2px;letter-spacing:0.684px">foam for better lumbar</div>
<div class="t" style="left:305.5px;top:754.9px;letter-spacing:0.483px">support.</div>
<div class="t" style="left:707px;top:498.7px;letter-spacing:0.407px">Firming pad for increased</div>
<div class="t" style="left:708px;top:524.1px;letter-spacing:0.698px">support</div>
<div class="t" style="left:707.5px;top:576.5px;letter-spacing:0.491px">Power-packed wrapped coils</div>
<div class="t" style="left:709.5px;top:601.7px;letter-spacing:0.613px">with Ashley Edge to minimize</div>
<div class="t" style="left:707.5px;top:627.9px;letter-spacing:0.315px">motion transfer &amp; increase</div>
<div class="t" style="left:708.5px;top:653.2px;letter-spacing:0.457px">support.</div>
</body></html>
